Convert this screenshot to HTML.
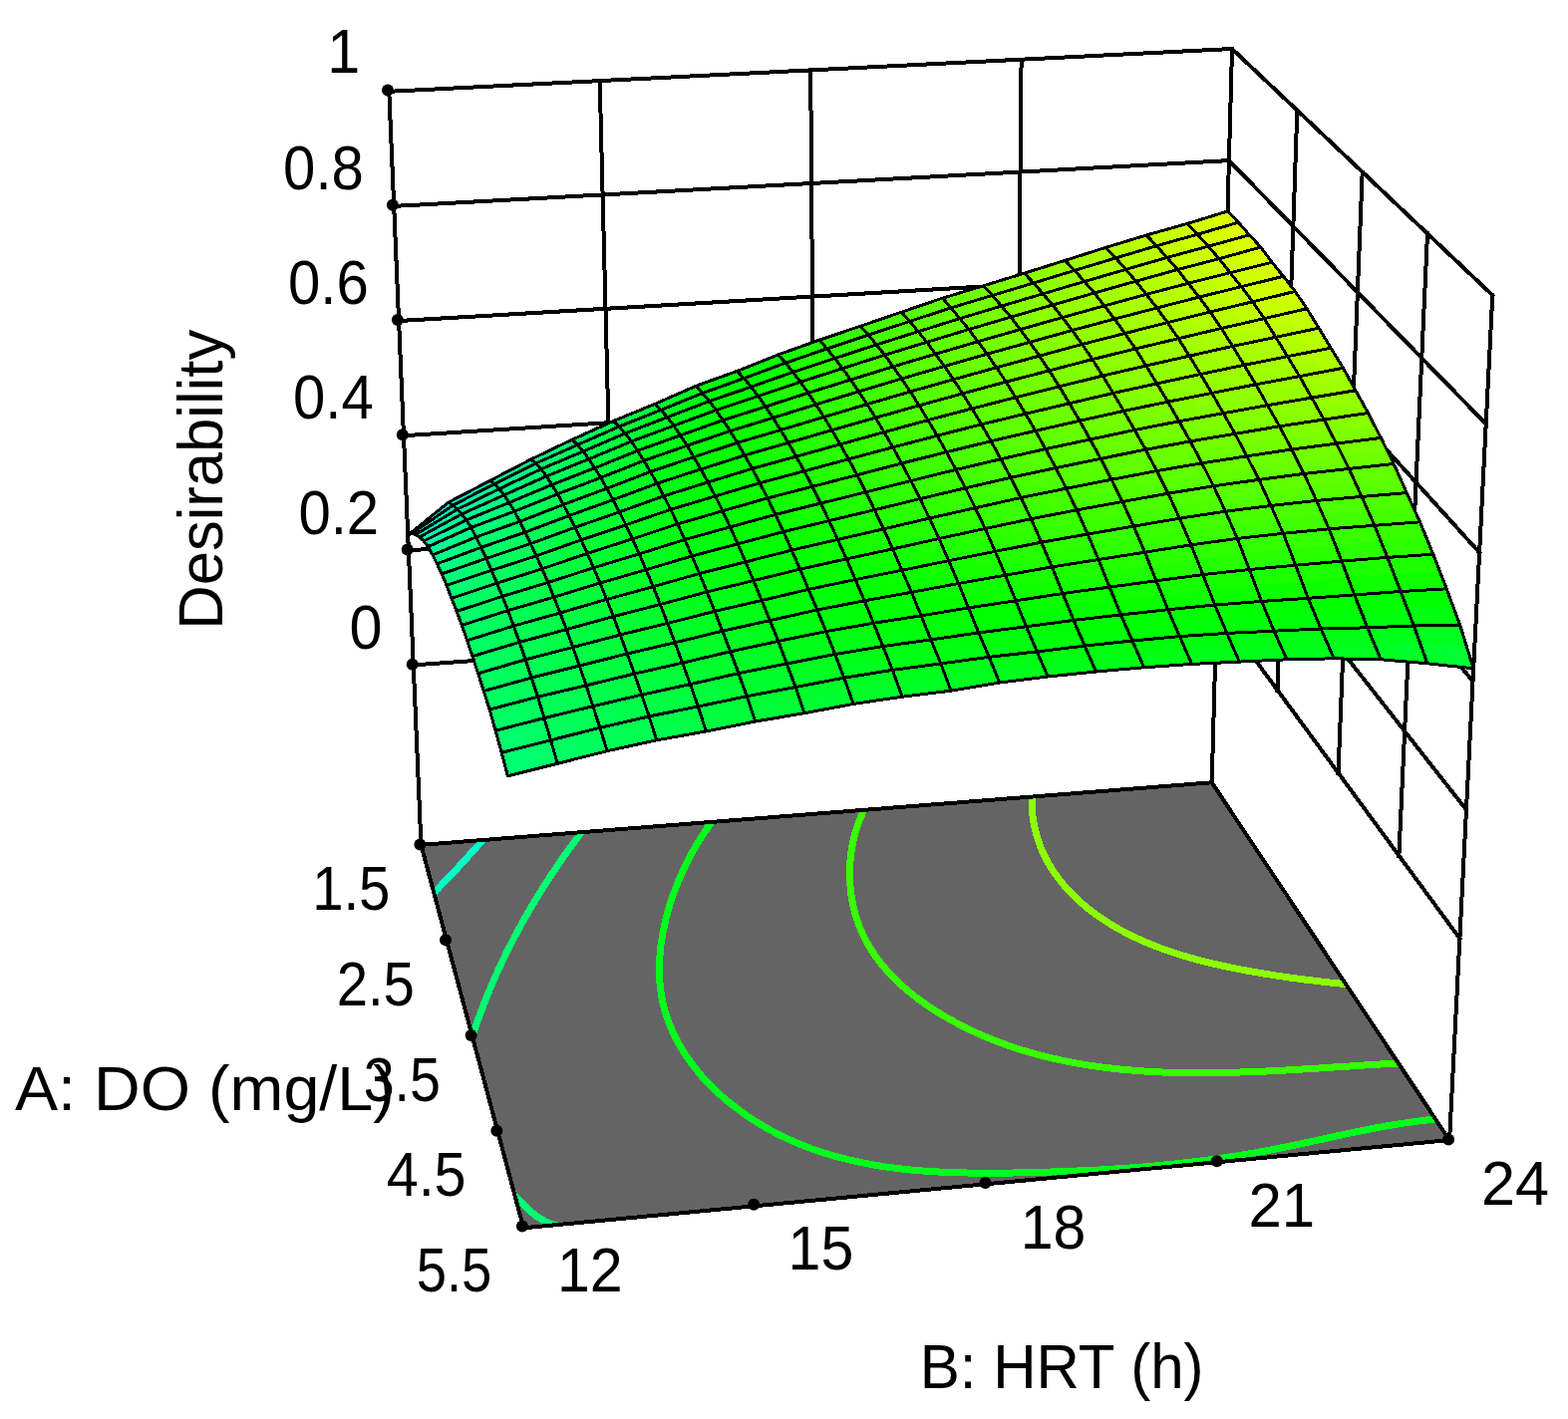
<!DOCTYPE html>
<html lang="en"><head><meta charset="utf-8"><title>Desirability surface</title>
<style>html,body{margin:0;padding:0;background:#fff}svg{display:block}</style></head>
<body>
<svg xmlns="http://www.w3.org/2000/svg" width="1573" height="1424" viewBox="0 0 1573 1424">
<rect width="1573" height="1424" fill="#fff"/>
<g id="walls" stroke="#000" fill="none" stroke-linecap="square" shape-rendering="crispEdges">
<polyline stroke-width="4.0" points="414.7,667.4 1220.5,609.5"/>
<polyline stroke-width="4.0" points="1220.5,609.5 1464.4,941.7"/>
<polyline stroke-width="4.0" points="409.9,552.3 1223.6,497.4"/>
<polyline stroke-width="4.0" points="1223.6,497.4 1471,812.6"/>
<polyline stroke-width="4.0" points="405,437.2 1226.7,385.3"/>
<polyline stroke-width="4.0" points="1226.7,385.3 1477.6,683.5"/>
<polyline stroke-width="4.0" points="400.1,322 1229.8,273.2"/>
<polyline stroke-width="4.0" points="1229.8,273.2 1484.1,554.4"/>
<polyline stroke-width="4.0" points="395.2,206.9 1232.9,161.1"/>
<polyline stroke-width="4.0" points="1232.9,161.1 1490.7,425.3"/>
<polyline stroke-width="4.0" points="390.3,91.8 1236,49"/>
<polyline stroke-width="4.0" points="1236,49 1497.3,296.2"/>
<polyline stroke-width="4.0" points="601.7,81.1 616.2,653"/>
<polyline stroke-width="4.0" points="1301.3,110.8 1281.5,692.6"/>
<polyline stroke-width="4.0" points="813.2,70.4 817.6,638.5"/>
<polyline stroke-width="4.0" points="1366.7,172.6 1342.5,775.6"/>
<polyline stroke-width="4.0" points="1024.6,59.7 1019.1,624"/>
<polyline stroke-width="4.0" points="1432,234.4 1403.4,858.7"/>
<polyline stroke-width="4.0" points="390.3,91.8 422.4,847.9"/>
<polyline stroke-width="4.0" points="1236,49 1215.7,785.3"/>
<polyline stroke-width="4.0" points="1497.3,296.2 1454.1,1144.1"/>
</g>
<polygon id="floor" points="422.4,847.9 1215.7,785.3 1454.1,1144.1 525.2,1232.3" fill="#646464"/>
<clipPath id="fc"><polygon points="422.4,847.9 1215.7,785.3 1454.1,1144.1 525.2,1232.3"/></clipPath>
<g id="contours" fill="none" stroke-linecap="butt" stroke-linejoin="round" clip-path="url(#fc)" shape-rendering="crispEdges">
<g stroke="#00ffc5"><polyline stroke-width="7.0" points="489,837.6 483.7,843.6 483.1,844.3 482.5,844.9 482,845.6 481.4,846.2 480.8,846.9 480.2,847.6 479.7,848.2 479.1,848.9 478.5,849.5 477.9,850.2 477.3,850.8 476.8,851.5 476.2,852.2 475.6,852.8 475,853.5 474.4,854.1 473.8,854.8 473.3,855.4 472.7,856.1 472.1,856.7 471.5,857.4 470.9,858 470.3,858.7 469.7,859.3 469.2,860 468.6,860.6 468,861.3 467.4,861.9 466.8,862.6 466.2,863.2 465.6,863.9 465,864.5 464.4,865.2 463.8,865.8 463.2,866.5 462.7,867.1 462.1,867.7 461.5,868.4 460.9,869 460.3,869.7 459.7,870.3 459.1,871 458.5,871.6 457.9,872.2 457.3,872.9 456.7,873.5 456.1,874.2 455.5,874.8 454.9,875.4 454.3,876.1 453.7,876.7 453.1,877.4 452.5,878 451.9,878.6 451.3,879.3 450.7,879.9 450.1,880.5 449.5,881.2 448.9,881.8 448.3,882.4 447.7,883.1 447.1,883.7 446.5,884.3 445.9,885 445.2,885.6 444.6,886.2 444,886.9 443.4,887.5 442.8,888.1 442.2,888.8 441.6,889.4 441,890 440.4,890.6 439.8,891.3 439.2,891.9 438.5,892.5 437.9,893.1 437.3,893.8 436.7,894.4 431.1,900.1"/></g>
<g stroke="#00ff71"><polyline stroke-width="7.0" points="587.7,829.5 582.8,835.9 581.1,838.2 579.4,840.5 577.7,842.8 576,845.1 574.3,847.4 572.6,849.7 571,852 569.3,854.3 567.6,856.7 566,859 564.3,861.3 562.7,863.7 561.1,866.1 559.5,868.4 557.9,870.8 556.3,873.2 554.7,875.6 553.1,877.9 551.5,880.3 549.9,882.7 548.4,885.1 546.8,887.6 545.3,890 543.8,892.4 542.2,894.8 540.7,897.3 539.2,899.7 537.7,902.2 536.3,904.6 534.8,907.1 533.3,909.5 531.9,912 530.4,914.5 529,917 527.6,919.5 526.1,922 524.7,924.5 523.3,927 522,929.5 520.6,932 519.2,934.5 517.9,937 516.5,939.6 515.2,942.1 513.9,944.7 512.6,947.2 511.3,949.8 510,952.3 508.7,954.9 507.4,957.5 506.2,960 504.9,962.6 503.7,965.2 502.5,967.8 501.3,970.4 500.1,973 498.9,975.6 497.7,978.2 496.5,980.8 495.4,983.5 494.2,986.1 493.1,988.7 492,991.4 490.9,994 489.8,996.6 488.7,999.3 487.6,1001.9 486.6,1004.6 485.5,1007.3 484.5,1009.9 483.5,1012.6 482.5,1015.3 481.5,1018 480.5,1020.7 479.5,1023.4 478.6,1026.1 477.6,1028.8 476.7,1031.5 475.8,1034.2 473.2,1041.8"/></g>
<g stroke="#00ff1d"><polyline stroke-width="7.0" points="717.4,820 712.8,826.6 705.7,836.7 699,847.4 692.6,858.7 686.6,870.6 681.1,882.9 676.1,895.5 671.8,908.4 668.1,921.6 665.2,934.9 663,948.2 661.8,961.6 661.4,974.8 662.1,987.9 663.8,1000.7 666.6,1013.2 670.6,1025.4 675.5,1037.2 681.5,1048.6 688.3,1059.6 695.9,1070.1 704.2,1080.3 713.3,1089.9 722.9,1099.1 733.1,1107.7 743.8,1115.8 754.9,1123.4 766.3,1130.4 777.9,1136.9 789.8,1142.7 801.8,1148 814,1152.7 826.4,1156.9 838.9,1160.6 851.6,1163.9 864.4,1166.7 877.3,1169.2 890.3,1171.2 903.3,1172.9 916.5,1174.3 929.7,1175.3 943,1176.1 956.3,1176.7 969.7,1177 983,1177.2 996.4,1177.2 1009.7,1177.1 1023.1,1176.9 1036.4,1176.5 1049.6,1176.2 1062.9,1175.7 1076.1,1175.2 1089.2,1174.6 1102.4,1174 1115.5,1173.2 1128.5,1172.3 1141.6,1171.4 1154.7,1170.3 1167.7,1169.1 1180.7,1167.7 1193.7,1166.3 1206.7,1164.7 1219.7,1163 1232.7,1161.1 1245.7,1159.1 1258.7,1156.9 1271.6,1154.6 1284.6,1152 1297.6,1149.4 1310.6,1146.6 1323.7,1143.8 1336.7,1140.9 1349.7,1138.1 1362.7,1135.4 1375.7,1132.8 1388.7,1130.3 1401.7,1128.1 1414.7,1126.1 1427.7,1124.4 1440.7,1123.1 1448.6,1122.3"/></g>
<g stroke="#38ff00"><polyline stroke-width="7.0" points="870.1,805.2 866.8,812.5 863.1,820.9 859.9,829.6 857.2,838.4 855.2,847.4 853.7,856.5 852.8,865.7 852.4,874.8 852.6,884 853.3,893.1 854.5,902.1 856.3,910.9 858.7,919.6 861.5,928 864.9,936.2 868.8,944.1 873.2,951.7 878,959.1 883.3,966.2 888.9,973 895,979.5 901.3,985.8 907.9,991.8 914.9,997.6 922,1003.1 929.4,1008.4 937,1013.5 944.7,1018.3 952.6,1022.8 960.6,1027.2 968.6,1031.3 976.7,1035.2 984.9,1038.9 993.1,1042.3 1001.5,1045.6 1009.8,1048.7 1018.3,1051.6 1026.8,1054.3 1035.3,1056.8 1043.9,1059.1 1052.6,1061.3 1061.3,1063.2 1070,1065.1 1078.8,1066.8 1087.7,1068.3 1096.5,1069.7 1105.4,1070.9 1114.4,1072 1123.3,1073 1132.3,1073.8 1141.4,1074.5 1150.4,1075.2 1159.4,1075.7 1168.5,1076.1 1177.6,1076.4 1186.7,1076.6 1195.8,1076.7 1204.9,1076.7 1214.1,1076.7 1223.2,1076.6 1232.3,1076.4 1241.4,1076.1 1250.5,1075.8 1259.6,1075.5 1268.7,1075.1 1277.8,1074.6 1286.8,1074.2 1295.8,1073.7 1304.9,1073.1 1313.8,1072.6 1322.8,1072 1331.7,1071.4 1340.6,1070.8 1349.5,1070.3 1358.3,1069.7 1367.1,1069.1 1375.8,1068.6 1384.5,1068 1393.2,1067.5 1401.7,1067.1 1409.7,1066.6"/></g>
<g stroke="#8cff00"><polyline stroke-width="7.0" points="1035.1,791.5 1035.1,799.5 1035.1,805.2 1035.3,810.7 1035.7,816.1 1036.3,821.4 1037.2,826.6 1038.3,831.8 1039.5,836.8 1041,841.7 1042.6,846.5 1044.4,851.2 1046.4,855.8 1048.6,860.3 1050.9,864.7 1053.4,869 1056,873.2 1058.8,877.3 1061.7,881.3 1064.8,885.3 1067.9,889.1 1071.3,892.8 1074.7,896.4 1078.2,899.9 1081.9,903.4 1085.6,906.7 1089.4,910 1093.4,913.1 1097.4,916.2 1101.4,919.1 1105.6,922 1109.8,924.8 1114.1,927.5 1118.4,930 1122.8,932.6 1127.3,935 1131.8,937.3 1136.3,939.6 1140.9,941.7 1145.5,943.8 1150.2,945.9 1154.9,947.8 1159.7,949.7 1164.5,951.5 1169.3,953.3 1174.2,954.9 1179,956.6 1183.9,958.1 1188.9,959.6 1193.8,961.1 1198.8,962.4 1203.8,963.8 1208.8,965.1 1213.8,966.3 1218.9,967.5 1223.9,968.6 1229,969.7 1234,970.8 1239.1,971.8 1244.1,972.8 1249.2,973.8 1254.2,974.7 1259.3,975.6 1264.3,976.4 1269.3,977.3 1274.4,978.1 1279.4,978.9 1284.4,979.6 1289.4,980.4 1294.4,981.1 1299.4,981.8 1304.3,982.4 1309.3,983.1 1314.2,983.7 1319.2,984.3 1324.1,984.9 1329.1,985.4 1334,986 1338.9,986.5 1343.8,987 1348.7,987.5 1356.6,988.3"/></g>
<g stroke="#00ff71"><polyline stroke-width="7.0" points="509.5,1192 516.3,1199.3 519.3,1202.5 522.3,1205.7 525.3,1208.9 528.5,1212.1 531.7,1215.1 535.1,1218 538.6,1220.7 542.3,1223.1 546.1,1225.3 550.1,1227.1 554.4,1228.5 563.9,1231.6"/></g>
</g>
<g id="flooredge" stroke="#000" fill="none" stroke-linecap="round" shape-rendering="crispEdges">
<polyline stroke-width="4.0" points="422.4,847.9 1215.7,785.3"/>
<polyline stroke-width="4.0" points="1215.7,785.3 1454.1,1144.1"/>
<polyline stroke-width="4.0" points="1454.1,1144.1 525.2,1232.3"/>
<polyline stroke-width="4.0" points="525.2,1232.3 422.4,847.9"/>
</g>
<g id="surface" stroke-width="0.9" stroke-linejoin="round" shape-rendering="crispEdges">
<polygon fill="#00fff8" stroke="#00fff8" points="409.2,537 429.6,520.5 431.7,520.9 411.1,536.3"/>
<polygon fill="#00ffdd" stroke="#00ffdd" points="429.6,520.5 450.1,504 452.2,505.5 431.7,520.9"/>
<polygon fill="#00ffc8" stroke="#00ffc8" points="450.1,504 470.7,493.2 472.9,494.8 452.2,505.5"/>
<polygon fill="#00ffb7" stroke="#00ffb7" points="470.7,493.2 491.4,482.5 493.7,484.1 472.9,494.8"/>
<polygon fill="#00ffa7" stroke="#00ffa7" points="491.4,482.5 512,471.8 514.4,473.5 493.7,484.1"/>
<polygon fill="#00ff96" stroke="#00ff96" points="512,471.8 532.7,461 535.2,463 514.4,473.5"/>
<polygon fill="#00ff86" stroke="#00ff86" points="532.7,461 553.3,451.1 556,453.4 535.2,463"/>
<polygon fill="#00ff77" stroke="#00ff77" points="553.3,451.1 574,441.2 576.7,443.8 556,453.4"/>
<polygon fill="#00ff68" stroke="#00ff68" points="574,441.2 594.7,431.8 597.5,434.5 576.7,443.8"/>
<polygon fill="#00ff5a" stroke="#00ff5a" points="594.7,431.8 615.4,422.5 618.3,425.3 597.5,434.5"/>
<polygon fill="#00ff4d" stroke="#00ff4d" points="615.4,422.5 636.1,414 639.1,416.9 618.3,425.3"/>
<polygon fill="#00ff40" stroke="#00ff40" points="636.1,414 656.7,405.5 659.9,408.5 639.1,416.9"/>
<polygon fill="#00ff33" stroke="#00ff33" points="656.7,405.5 677.4,396.4 680.6,399.7 659.9,408.5"/>
<polygon fill="#00ff25" stroke="#00ff25" points="677.4,396.4 698.1,387.3 701.4,390.9 680.6,399.7"/>
<polygon fill="#00ff19" stroke="#00ff19" points="698.1,387.3 718.7,379.9 722.1,383.4 701.4,390.9"/>
<polygon fill="#00ff0e" stroke="#00ff0e" points="718.7,379.9 739.4,372.4 742.9,376 722.1,383.4"/>
<polygon fill="#00ff02" stroke="#00ff02" points="739.4,372.4 760.1,364.1 763.6,368 742.9,376"/>
<polygon fill="#0aff00" stroke="#0aff00" points="760.1,364.1 780.7,355.9 784.4,360 763.6,368"/>
<polygon fill="#16ff00" stroke="#16ff00" points="780.7,355.9 801.3,348.5 805.1,352.8 784.4,360"/>
<polygon fill="#20ff00" stroke="#20ff00" points="801.3,348.5 822,341.2 825.8,345.6 805.1,352.8"/>
<polygon fill="#2bff00" stroke="#2bff00" points="822,341.2 842.6,334.2 846.5,338.6 825.8,345.6"/>
<polygon fill="#35ff00" stroke="#35ff00" points="842.6,334.2 863.2,327.3 867.2,331.7 846.5,338.6"/>
<polygon fill="#3fff00" stroke="#3fff00" points="863.2,327.3 883.8,320.3 887.9,324.7 867.2,331.7"/>
<polygon fill="#49ff00" stroke="#49ff00" points="883.8,320.3 904.4,313.2 908.5,317.8 887.9,324.7"/>
<polygon fill="#54ff00" stroke="#54ff00" points="904.4,313.2 924.9,306.2 929.2,310.9 908.5,317.8"/>
<polygon fill="#5eff00" stroke="#5eff00" points="924.9,306.2 945.5,299.2 949.8,304.1 929.2,310.9"/>
<polygon fill="#67ff00" stroke="#67ff00" points="945.5,299.2 966,293 970.4,297.8 949.8,304.1"/>
<polygon fill="#70ff00" stroke="#70ff00" points="966,293 986.5,286.8 991,291.6 970.4,297.8"/>
<polygon fill="#79ff00" stroke="#79ff00" points="986.5,286.8 1007,280.5 1011.6,285.4 991,291.6"/>
<polygon fill="#82ff00" stroke="#82ff00" points="1007,280.5 1027.5,274.2 1032.2,279.1 1011.6,285.4"/>
<polygon fill="#8bff00" stroke="#8bff00" points="1027.5,274.2 1048,267.8 1052.7,272.8 1032.2,279.1"/>
<polygon fill="#94ff00" stroke="#94ff00" points="1048,267.8 1068.4,261.4 1073.3,266.4 1052.7,272.8"/>
<polygon fill="#9eff00" stroke="#9eff00" points="1068.4,261.4 1088.9,254.9 1093.8,260 1073.3,266.4"/>
<polygon fill="#a7ff00" stroke="#a7ff00" points="1088.9,254.9 1109.3,248.4 1114.3,253.6 1093.8,260"/>
<polygon fill="#b0ff00" stroke="#b0ff00" points="1109.3,248.4 1129.7,242.2 1134.8,247.5 1114.3,253.6"/>
<polygon fill="#b9ff00" stroke="#b9ff00" points="1129.7,242.2 1150.1,236 1155.3,241.4 1134.8,247.5"/>
<polygon fill="#c2ff00" stroke="#c2ff00" points="1150.1,236 1170.5,230.2 1175.7,235.6 1155.3,241.4"/>
<polygon fill="#caff00" stroke="#caff00" points="1170.5,230.2 1190.9,224.5 1196.1,229.9 1175.7,235.6"/>
<polygon fill="#d2ff00" stroke="#d2ff00" points="1190.9,224.5 1211.2,218.3 1216.6,223.7 1196.1,229.9"/>
<polygon fill="#dbff00" stroke="#dbff00" points="1211.2,218.3 1231.5,212.1 1237,217.6 1216.6,223.7"/>
<polygon fill="#00ffeb" stroke="#00ffeb" points="411.1,536.3 431.7,520.9 433.7,521.3 413,535.5"/>
<polygon fill="#00ffd3" stroke="#00ffd3" points="431.7,520.9 452.2,505.5 454.4,507.1 433.7,521.3"/>
<polygon fill="#00ffbe" stroke="#00ffbe" points="452.2,505.5 472.9,494.8 475.2,496.3 454.4,507.1"/>
<polygon fill="#00ffae" stroke="#00ffae" points="472.9,494.8 493.7,484.1 496,485.6 475.2,496.3"/>
<polygon fill="#00ff9d" stroke="#00ff9d" points="493.7,484.1 514.4,473.5 516.9,475.3 496,485.6"/>
<polygon fill="#00ff8d" stroke="#00ff8d" points="514.4,473.5 535.2,463 537.7,465 516.9,475.3"/>
<polygon fill="#00ff7e" stroke="#00ff7e" points="535.2,463 556,453.4 558.6,455.7 537.7,465"/>
<polygon fill="#00ff6f" stroke="#00ff6f" points="556,453.4 576.7,443.8 579.5,446.4 558.6,455.7"/>
<polygon fill="#00ff61" stroke="#00ff61" points="576.7,443.8 597.5,434.5 600.4,437.2 579.5,446.4"/>
<polygon fill="#00ff53" stroke="#00ff53" points="597.5,434.5 618.3,425.3 621.2,428 600.4,437.2"/>
<polygon fill="#00ff46" stroke="#00ff46" points="618.3,425.3 639.1,416.9 642.1,419.7 621.2,428"/>
<polygon fill="#00ff39" stroke="#00ff39" points="639.1,416.9 659.9,408.5 663,411.4 642.1,419.7"/>
<polygon fill="#00ff2d" stroke="#00ff2d" points="659.9,408.5 680.6,399.7 683.8,402.9 663,411.4"/>
<polygon fill="#00ff1f" stroke="#00ff1f" points="680.6,399.7 701.4,390.9 704.7,394.5 683.8,402.9"/>
<polygon fill="#00ff13" stroke="#00ff13" points="701.4,390.9 722.1,383.4 725.5,387 704.7,394.5"/>
<polygon fill="#00ff09" stroke="#00ff09" points="722.1,383.4 742.9,376 746.4,379.6 725.5,387"/>
<polygon fill="#03ff00" stroke="#03ff00" points="742.9,376 763.6,368 767.2,371.9 746.4,379.6"/>
<polygon fill="#0eff00" stroke="#0eff00" points="763.6,368 784.4,360 788,364.2 767.2,371.9"/>
<polygon fill="#1aff00" stroke="#1aff00" points="784.4,360 805.1,352.8 808.8,357.1 788,364.2"/>
<polygon fill="#24ff00" stroke="#24ff00" points="805.1,352.8 825.8,345.6 829.6,349.9 808.8,357.1"/>
<polygon fill="#2eff00" stroke="#2eff00" points="825.8,345.6 846.5,338.6 850.4,343 829.6,349.9"/>
<polygon fill="#38ff00" stroke="#38ff00" points="846.5,338.6 867.2,331.7 871.2,336.1 850.4,343"/>
<polygon fill="#42ff00" stroke="#42ff00" points="867.2,331.7 887.9,324.7 891.9,329.2 871.2,336.1"/>
<polygon fill="#4cff00" stroke="#4cff00" points="887.9,324.7 908.5,317.8 912.7,322.4 891.9,329.2"/>
<polygon fill="#56ff00" stroke="#56ff00" points="908.5,317.8 929.2,310.9 933.4,315.7 912.7,322.4"/>
<polygon fill="#60ff00" stroke="#60ff00" points="929.2,310.9 949.8,304.1 954.1,308.9 933.4,315.7"/>
<polygon fill="#6aff00" stroke="#6aff00" points="949.8,304.1 970.4,297.8 974.8,302.7 954.1,308.9"/>
<polygon fill="#72ff00" stroke="#72ff00" points="970.4,297.8 991,291.6 995.5,296.4 974.8,302.7"/>
<polygon fill="#7bff00" stroke="#7bff00" points="991,291.6 1011.6,285.4 1016.2,290.2 995.5,296.4"/>
<polygon fill="#84ff00" stroke="#84ff00" points="1011.6,285.4 1032.2,279.1 1036.8,284 1016.2,290.2"/>
<polygon fill="#8dff00" stroke="#8dff00" points="1032.2,279.1 1052.7,272.8 1057.5,277.7 1036.8,284"/>
<polygon fill="#96ff00" stroke="#96ff00" points="1052.7,272.8 1073.3,266.4 1078.1,271.4 1057.5,277.7"/>
<polygon fill="#9fff00" stroke="#9fff00" points="1073.3,266.4 1093.8,260 1098.7,265.1 1078.1,271.4"/>
<polygon fill="#a9ff00" stroke="#a9ff00" points="1093.8,260 1114.3,253.6 1119.3,258.9 1098.7,265.1"/>
<polygon fill="#b1ff00" stroke="#b1ff00" points="1114.3,253.6 1134.8,247.5 1139.8,252.8 1119.3,258.9"/>
<polygon fill="#baff00" stroke="#baff00" points="1134.8,247.5 1155.3,241.4 1160.4,246.7 1139.8,252.8"/>
<polygon fill="#c3ff00" stroke="#c3ff00" points="1155.3,241.4 1175.7,235.6 1180.9,241 1160.4,246.7"/>
<polygon fill="#cbff00" stroke="#cbff00" points="1175.7,235.6 1196.1,229.9 1201.4,235.2 1180.9,241"/>
<polygon fill="#d3ff00" stroke="#d3ff00" points="1196.1,229.9 1216.6,223.7 1221.9,229.2 1201.4,235.2"/>
<polygon fill="#dcff00" stroke="#dcff00" points="1216.6,223.7 1237,217.6 1242.4,223.2 1221.9,229.2"/>
<polygon fill="#00ffdf" stroke="#00ffdf" points="413,535.5 433.7,521.3 435.7,522.5 414.9,536"/>
<polygon fill="#00ffc9" stroke="#00ffc9" points="433.7,521.3 454.4,507.1 456.6,509.1 435.7,522.5"/>
<polygon fill="#00ffb5" stroke="#00ffb5" points="454.4,507.1 475.2,496.3 477.5,498.6 456.6,509.1"/>
<polygon fill="#00ffa5" stroke="#00ffa5" points="475.2,496.3 496,485.6 498.4,488.1 477.5,498.6"/>
<polygon fill="#00ff95" stroke="#00ff95" points="496,485.6 516.9,475.3 519.4,478 498.4,488.1"/>
<polygon fill="#00ff85" stroke="#00ff85" points="516.9,475.3 537.7,465 540.3,467.8 519.4,478"/>
<polygon fill="#00ff76" stroke="#00ff76" points="537.7,465 558.6,455.7 561.3,458.8 540.3,467.8"/>
<polygon fill="#00ff68" stroke="#00ff68" points="558.6,455.7 579.5,446.4 582.3,449.7 561.3,458.8"/>
<polygon fill="#00ff5a" stroke="#00ff5a" points="579.5,446.4 600.4,437.2 603.3,440.6 582.3,449.7"/>
<polygon fill="#00ff4c" stroke="#00ff4c" points="600.4,437.2 621.2,428 624.2,431.5 603.3,440.6"/>
<polygon fill="#00ff40" stroke="#00ff40" points="621.2,428 642.1,419.7 645.2,423.3 624.2,431.5"/>
<polygon fill="#00ff33" stroke="#00ff33" points="642.1,419.7 663,411.4 666.1,415.1 645.2,423.3"/>
<polygon fill="#00ff27" stroke="#00ff27" points="663,411.4 683.8,402.9 687.1,406.8 666.1,415.1"/>
<polygon fill="#00ff1a" stroke="#00ff1a" points="683.8,402.9 704.7,394.5 708,398.5 687.1,406.8"/>
<polygon fill="#00ff0f" stroke="#00ff0f" points="704.7,394.5 725.5,387 729,391.2 708,398.5"/>
<polygon fill="#00ff04" stroke="#00ff04" points="725.5,387 746.4,379.6 749.9,383.9 729,391.2"/>
<polygon fill="#07ff00" stroke="#07ff00" points="746.4,379.6 767.2,371.9 770.8,376.3 749.9,383.9"/>
<polygon fill="#12ff00" stroke="#12ff00" points="767.2,371.9 788,364.2 791.7,368.8 770.8,376.3"/>
<polygon fill="#1dff00" stroke="#1dff00" points="788,364.2 808.8,357.1 812.6,361.8 791.7,368.8"/>
<polygon fill="#27ff00" stroke="#27ff00" points="808.8,357.1 829.6,349.9 833.5,354.8 812.6,361.8"/>
<polygon fill="#31ff00" stroke="#31ff00" points="829.6,349.9 850.4,343 854.4,347.9 833.5,354.8"/>
<polygon fill="#3bff00" stroke="#3bff00" points="850.4,343 871.2,336.1 875.2,341 854.4,347.9"/>
<polygon fill="#45ff00" stroke="#45ff00" points="871.2,336.1 891.9,329.2 896.1,334.3 875.2,341"/>
<polygon fill="#4fff00" stroke="#4fff00" points="891.9,329.2 912.7,322.4 916.9,327.6 896.1,334.3"/>
<polygon fill="#59ff00" stroke="#59ff00" points="912.7,322.4 933.4,315.7 937.7,320.9 916.9,327.6"/>
<polygon fill="#62ff00" stroke="#62ff00" points="933.4,315.7 954.1,308.9 958.5,314.2 937.7,320.9"/>
<polygon fill="#6cff00" stroke="#6cff00" points="954.1,308.9 974.8,302.7 979.3,308 958.5,314.2"/>
<polygon fill="#74ff00" stroke="#74ff00" points="974.8,302.7 995.5,296.4 1000.1,301.8 979.3,308"/>
<polygon fill="#7dff00" stroke="#7dff00" points="995.5,296.4 1016.2,290.2 1020.8,295.6 1000.1,301.8"/>
<polygon fill="#86ff00" stroke="#86ff00" points="1016.2,290.2 1036.8,284 1041.6,289.4 1020.8,295.6"/>
<polygon fill="#8fff00" stroke="#8fff00" points="1036.8,284 1057.5,277.7 1062.3,283.2 1041.6,289.4"/>
<polygon fill="#98ff00" stroke="#98ff00" points="1057.5,277.7 1078.1,271.4 1083,277 1062.3,283.2"/>
<polygon fill="#a1ff00" stroke="#a1ff00" points="1078.1,271.4 1098.7,265.1 1103.6,270.8 1083,277"/>
<polygon fill="#aaff00" stroke="#aaff00" points="1098.7,265.1 1119.3,258.9 1124.3,264.6 1103.6,270.8"/>
<polygon fill="#b2ff00" stroke="#b2ff00" points="1119.3,258.9 1139.8,252.8 1145,258.6 1124.3,264.6"/>
<polygon fill="#bbff00" stroke="#bbff00" points="1139.8,252.8 1160.4,246.7 1165.6,252.6 1145,258.6"/>
<polygon fill="#c3ff00" stroke="#c3ff00" points="1160.4,246.7 1180.9,241 1186.2,246.9 1165.6,252.6"/>
<polygon fill="#cbff00" stroke="#cbff00" points="1180.9,241 1201.4,235.2 1206.8,241.2 1186.2,246.9"/>
<polygon fill="#d3ff00" stroke="#d3ff00" points="1201.4,235.2 1221.9,229.2 1227.4,235.4 1206.8,241.2"/>
<polygon fill="#dcff00" stroke="#dcff00" points="1221.9,229.2 1242.4,223.2 1247.9,229.5 1227.4,235.4"/>
<polygon fill="#00ffd3" stroke="#00ffd3" points="414.9,536 435.7,522.5 437.8,523.8 416.9,536.4"/>
<polygon fill="#00ffbf" stroke="#00ffbf" points="435.7,522.5 456.6,509.1 458.8,511.1 437.8,523.8"/>
<polygon fill="#00ffac" stroke="#00ffac" points="456.6,509.1 477.5,498.6 479.8,500.8 458.8,511.1"/>
<polygon fill="#00ff9c" stroke="#00ff9c" points="477.5,498.6 498.4,488.1 500.9,490.6 479.8,500.8"/>
<polygon fill="#00ff8d" stroke="#00ff8d" points="498.4,488.1 519.4,478 521.9,480.6 500.9,490.6"/>
<polygon fill="#00ff7e" stroke="#00ff7e" points="519.4,478 540.3,467.8 543,470.7 521.9,480.6"/>
<polygon fill="#00ff6f" stroke="#00ff6f" points="540.3,467.8 561.3,458.8 564,461.8 543,470.7"/>
<polygon fill="#00ff62" stroke="#00ff62" points="561.3,458.8 582.3,449.7 585.1,453 564,461.8"/>
<polygon fill="#00ff54" stroke="#00ff54" points="582.3,449.7 603.3,440.6 606.2,444 585.1,453"/>
<polygon fill="#00ff47" stroke="#00ff47" points="603.3,440.6 624.2,431.5 627.2,434.9 606.2,444"/>
<polygon fill="#00ff3a" stroke="#00ff3a" points="624.2,431.5 645.2,423.3 648.3,426.8 627.2,434.9"/>
<polygon fill="#00ff2e" stroke="#00ff2e" points="645.2,423.3 666.1,415.1 669.3,418.7 648.3,426.8"/>
<polygon fill="#00ff22" stroke="#00ff22" points="666.1,415.1 687.1,406.8 690.4,410.7 669.3,418.7"/>
<polygon fill="#00ff15" stroke="#00ff15" points="687.1,406.8 708,398.5 711.4,402.6 690.4,410.7"/>
<polygon fill="#00ff0a" stroke="#00ff0a" points="708,398.5 729,391.2 732.4,395.4 711.4,402.6"/>
<polygon fill="#00ff00" stroke="#00ff00" points="729,391.2 749.9,383.9 753.5,388.2 732.4,395.4"/>
<polygon fill="#0bff00" stroke="#0bff00" points="749.9,383.9 770.8,376.3 774.5,380.8 753.5,388.2"/>
<polygon fill="#16ff00" stroke="#16ff00" points="770.8,376.3 791.7,368.8 795.5,373.4 774.5,380.8"/>
<polygon fill="#20ff00" stroke="#20ff00" points="791.7,368.8 812.6,361.8 816.4,366.5 795.5,373.4"/>
<polygon fill="#2aff00" stroke="#2aff00" points="812.6,361.8 833.5,354.8 837.4,359.6 816.4,366.5"/>
<polygon fill="#34ff00" stroke="#34ff00" points="833.5,354.8 854.4,347.9 858.4,352.7 837.4,359.6"/>
<polygon fill="#3eff00" stroke="#3eff00" points="854.4,347.9 875.2,341 879.3,345.9 858.4,352.7"/>
<polygon fill="#48ff00" stroke="#48ff00" points="875.2,341 896.1,334.3 900.2,339.3 879.3,345.9"/>
<polygon fill="#51ff00" stroke="#51ff00" points="896.1,334.3 916.9,327.6 921.2,332.7 900.2,339.3"/>
<polygon fill="#5bff00" stroke="#5bff00" points="916.9,327.6 937.7,320.9 942,326.1 921.2,332.7"/>
<polygon fill="#64ff00" stroke="#64ff00" points="937.7,320.9 958.5,314.2 962.9,319.6 942,326.1"/>
<polygon fill="#6dff00" stroke="#6dff00" points="958.5,314.2 979.3,308 983.8,313.4 962.9,319.6"/>
<polygon fill="#76ff00" stroke="#76ff00" points="979.3,308 1000.1,301.8 1004.6,307.1 983.8,313.4"/>
<polygon fill="#7fff00" stroke="#7fff00" points="1000.1,301.8 1020.8,295.6 1025.5,301 1004.6,307.1"/>
<polygon fill="#87ff00" stroke="#87ff00" points="1020.8,295.6 1041.6,289.4 1046.3,294.8 1025.5,301"/>
<polygon fill="#90ff00" stroke="#90ff00" points="1041.6,289.4 1062.3,283.2 1067.1,288.7 1046.3,294.8"/>
<polygon fill="#99ff00" stroke="#99ff00" points="1062.3,283.2 1083,277 1087.9,282.5 1067.1,288.7"/>
<polygon fill="#a2ff00" stroke="#a2ff00" points="1083,277 1103.6,270.8 1108.6,276.5 1087.9,282.5"/>
<polygon fill="#aaff00" stroke="#aaff00" points="1103.6,270.8 1124.3,264.6 1129.4,270.4 1108.6,276.5"/>
<polygon fill="#b3ff00" stroke="#b3ff00" points="1124.3,264.6 1145,258.6 1150.1,264.4 1129.4,270.4"/>
<polygon fill="#bbff00" stroke="#bbff00" points="1145,258.6 1165.6,252.6 1170.8,258.5 1150.1,264.4"/>
<polygon fill="#c3ff00" stroke="#c3ff00" points="1165.6,252.6 1186.2,246.9 1191.5,252.9 1170.8,258.5"/>
<polygon fill="#cbff00" stroke="#cbff00" points="1186.2,246.9 1206.8,241.2 1212.2,247.2 1191.5,252.9"/>
<polygon fill="#d3ff00" stroke="#d3ff00" points="1206.8,241.2 1227.4,235.4 1232.8,241.5 1212.2,247.2"/>
<polygon fill="#dbff00" stroke="#dbff00" points="1227.4,235.4 1247.9,229.5 1253.4,235.8 1232.8,241.5"/>
<polygon fill="#00ffc9" stroke="#00ffc9" points="416.9,536.4 437.8,523.8 439.9,525.5 418.9,537.7"/>
<polygon fill="#00ffb5" stroke="#00ffb5" points="437.8,523.8 458.8,511.1 461,513.4 439.9,525.5"/>
<polygon fill="#00ffa4" stroke="#00ffa4" points="458.8,511.1 479.8,500.8 482.2,503.6 461,513.4"/>
<polygon fill="#00ff95" stroke="#00ff95" points="479.8,500.8 500.9,490.6 503.3,493.7 482.2,503.6"/>
<polygon fill="#00ff86" stroke="#00ff86" points="500.9,490.6 521.9,480.6 524.5,484 503.3,493.7"/>
<polygon fill="#00ff77" stroke="#00ff77" points="521.9,480.6 543,470.7 545.6,474.3 524.5,484"/>
<polygon fill="#00ff69" stroke="#00ff69" points="543,470.7 564,461.8 566.8,465.6 545.6,474.3"/>
<polygon fill="#00ff5c" stroke="#00ff5c" points="564,461.8 585.1,453 588,456.9 566.8,465.6"/>
<polygon fill="#00ff4e" stroke="#00ff4e" points="585.1,453 606.2,444 609.1,447.9 588,456.9"/>
<polygon fill="#00ff41" stroke="#00ff41" points="606.2,444 627.2,434.9 630.3,439 609.1,447.9"/>
<polygon fill="#00ff34" stroke="#00ff34" points="627.2,434.9 648.3,426.8 651.4,431 630.3,439"/>
<polygon fill="#00ff29" stroke="#00ff29" points="648.3,426.8 669.3,418.7 672.6,423 651.4,431"/>
<polygon fill="#00ff1d" stroke="#00ff1d" points="669.3,418.7 690.4,410.7 693.7,415 672.6,423"/>
<polygon fill="#00ff11" stroke="#00ff11" points="690.4,410.7 711.4,402.6 714.8,407.1 693.7,415"/>
<polygon fill="#00ff06" stroke="#00ff06" points="711.4,402.6 732.4,395.4 735.9,400 714.8,407.1"/>
<polygon fill="#04ff00" stroke="#04ff00" points="732.4,395.4 753.5,388.2 757.1,392.8 735.9,400"/>
<polygon fill="#0fff00" stroke="#0fff00" points="753.5,388.2 774.5,380.8 778.2,385.6 757.1,392.8"/>
<polygon fill="#19ff00" stroke="#19ff00" points="774.5,380.8 795.5,373.4 799.2,378.4 778.2,385.6"/>
<polygon fill="#23ff00" stroke="#23ff00" points="795.5,373.4 816.4,366.5 820.3,371.5 799.2,378.4"/>
<polygon fill="#2dff00" stroke="#2dff00" points="816.4,366.5 837.4,359.6 841.4,364.6 820.3,371.5"/>
<polygon fill="#37ff00" stroke="#37ff00" points="837.4,359.6 858.4,352.7 862.4,357.8 841.4,364.6"/>
<polygon fill="#41ff00" stroke="#41ff00" points="858.4,352.7 879.3,345.9 883.4,351 862.4,357.8"/>
<polygon fill="#4aff00" stroke="#4aff00" points="879.3,345.9 900.2,339.3 904.5,344.5 883.4,351"/>
<polygon fill="#53ff00" stroke="#53ff00" points="900.2,339.3 921.2,332.7 925.5,338 904.5,344.5"/>
<polygon fill="#5dff00" stroke="#5dff00" points="921.2,332.7 942,326.1 946.4,331.5 925.5,338"/>
<polygon fill="#66ff00" stroke="#66ff00" points="942,326.1 962.9,319.6 967.4,325 946.4,331.5"/>
<polygon fill="#6fff00" stroke="#6fff00" points="962.9,319.6 983.8,313.4 988.3,318.9 967.4,325"/>
<polygon fill="#77ff00" stroke="#77ff00" points="983.8,313.4 1004.6,307.1 1009.3,312.7 988.3,318.9"/>
<polygon fill="#80ff00" stroke="#80ff00" points="1004.6,307.1 1025.5,301 1030.2,306.5 1009.3,312.7"/>
<polygon fill="#89ff00" stroke="#89ff00" points="1025.5,301 1046.3,294.8 1051.1,300.4 1030.2,306.5"/>
<polygon fill="#91ff00" stroke="#91ff00" points="1046.3,294.8 1067.1,288.7 1072,294.3 1051.1,300.4"/>
<polygon fill="#9aff00" stroke="#9aff00" points="1067.1,288.7 1087.9,282.5 1092.8,288.3 1072,294.3"/>
<polygon fill="#a2ff00" stroke="#a2ff00" points="1087.9,282.5 1108.6,276.5 1113.7,282.3 1092.8,288.3"/>
<polygon fill="#abff00" stroke="#abff00" points="1108.6,276.5 1129.4,270.4 1134.5,276.3 1113.7,282.3"/>
<polygon fill="#b3ff00" stroke="#b3ff00" points="1129.4,270.4 1150.1,264.4 1155.3,270.4 1134.5,276.3"/>
<polygon fill="#bbff00" stroke="#bbff00" points="1150.1,264.4 1170.8,258.5 1176.1,264.6 1155.3,270.4"/>
<polygon fill="#c3ff00" stroke="#c3ff00" points="1170.8,258.5 1191.5,252.9 1196.9,259 1176.1,264.6"/>
<polygon fill="#cbff00" stroke="#cbff00" points="1191.5,252.9 1212.2,247.2 1217.6,253.4 1196.9,259"/>
<polygon fill="#d3ff00" stroke="#d3ff00" points="1212.2,247.2 1232.8,241.5 1238.3,247.7 1217.6,253.4"/>
<polygon fill="#dbff00" stroke="#dbff00" points="1232.8,241.5 1253.4,235.8 1259.1,241.9 1238.3,247.7"/>
<polygon fill="#00ffbf" stroke="#00ffbf" points="418.9,537.7 439.9,525.5 442.1,527.3 420.9,538.9"/>
<polygon fill="#00ffac" stroke="#00ffac" points="439.9,525.5 461,513.4 463.3,515.8 442.1,527.3"/>
<polygon fill="#00ff9c" stroke="#00ff9c" points="461,513.4 482.2,503.6 484.5,506.3 463.3,515.8"/>
<polygon fill="#00ff8d" stroke="#00ff8d" points="482.2,503.6 503.3,493.7 505.8,496.8 484.5,506.3"/>
<polygon fill="#00ff7f" stroke="#00ff7f" points="503.3,493.7 524.5,484 527.1,487.4 505.8,496.8"/>
<polygon fill="#00ff70" stroke="#00ff70" points="524.5,484 545.6,474.3 548.3,477.9 527.1,487.4"/>
<polygon fill="#00ff63" stroke="#00ff63" points="545.6,474.3 566.8,465.6 569.6,469.3 548.3,477.9"/>
<polygon fill="#00ff56" stroke="#00ff56" points="566.8,465.6 588,456.9 590.8,460.7 569.6,469.3"/>
<polygon fill="#00ff49" stroke="#00ff49" points="588,456.9 609.1,447.9 612.1,451.9 590.8,460.7"/>
<polygon fill="#00ff3c" stroke="#00ff3c" points="609.1,447.9 630.3,439 633.3,443 612.1,451.9"/>
<polygon fill="#00ff30" stroke="#00ff30" points="630.3,439 651.4,431 654.6,435.1 633.3,443"/>
<polygon fill="#00ff24" stroke="#00ff24" points="651.4,431 672.6,423 675.8,427.2 654.6,435.1"/>
<polygon fill="#00ff18" stroke="#00ff18" points="672.6,423 693.7,415 697,419.4 675.8,427.2"/>
<polygon fill="#00ff0d" stroke="#00ff0d" points="693.7,415 714.8,407.1 718.3,411.6 697,419.4"/>
<polygon fill="#00ff02" stroke="#00ff02" points="714.8,407.1 735.9,400 739.5,404.6 718.3,411.6"/>
<polygon fill="#08ff00" stroke="#08ff00" points="735.9,400 757.1,392.8 760.7,397.5 739.5,404.6"/>
<polygon fill="#12ff00" stroke="#12ff00" points="757.1,392.8 778.2,385.6 781.9,390.4 760.7,397.5"/>
<polygon fill="#1cff00" stroke="#1cff00" points="778.2,385.6 799.2,378.4 803,383.3 781.9,390.4"/>
<polygon fill="#26ff00" stroke="#26ff00" points="799.2,378.4 820.3,371.5 824.2,376.5 803,383.3"/>
<polygon fill="#30ff00" stroke="#30ff00" points="820.3,371.5 841.4,364.6 845.3,369.7 824.2,376.5"/>
<polygon fill="#39ff00" stroke="#39ff00" points="841.4,364.6 862.4,357.8 866.5,363 845.3,369.7"/>
<polygon fill="#43ff00" stroke="#43ff00" points="862.4,357.8 883.4,351 887.6,356.2 866.5,363"/>
<polygon fill="#4cff00" stroke="#4cff00" points="883.4,351 904.5,344.5 908.7,349.8 887.6,356.2"/>
<polygon fill="#55ff00" stroke="#55ff00" points="904.5,344.5 925.5,338 929.8,343.3 908.7,349.8"/>
<polygon fill="#5eff00" stroke="#5eff00" points="925.5,338 946.4,331.5 950.8,336.9 929.8,343.3"/>
<polygon fill="#68ff00" stroke="#68ff00" points="946.4,331.5 967.4,325 971.9,330.5 950.8,336.9"/>
<polygon fill="#70ff00" stroke="#70ff00" points="967.4,325 988.3,318.9 992.9,324.4 971.9,330.5"/>
<polygon fill="#79ff00" stroke="#79ff00" points="988.3,318.9 1009.3,312.7 1013.9,318.2 992.9,324.4"/>
<polygon fill="#81ff00" stroke="#81ff00" points="1009.3,312.7 1030.2,306.5 1034.9,312.1 1013.9,318.2"/>
<polygon fill="#8aff00" stroke="#8aff00" points="1030.2,306.5 1051.1,300.4 1055.9,306 1034.9,312.1"/>
<polygon fill="#92ff00" stroke="#92ff00" points="1051.1,300.4 1072,294.3 1076.9,300 1055.9,306"/>
<polygon fill="#9bff00" stroke="#9bff00" points="1072,294.3 1092.8,288.3 1097.8,294 1076.9,300"/>
<polygon fill="#a3ff00" stroke="#a3ff00" points="1092.8,288.3 1113.7,282.3 1118.7,288.1 1097.8,294"/>
<polygon fill="#abff00" stroke="#abff00" points="1113.7,282.3 1134.5,276.3 1139.6,282.2 1118.7,288.1"/>
<polygon fill="#b3ff00" stroke="#b3ff00" points="1134.5,276.3 1155.3,270.4 1160.5,276.4 1139.6,282.2"/>
<polygon fill="#bbff00" stroke="#bbff00" points="1155.3,270.4 1176.1,264.6 1181.4,270.6 1160.5,276.4"/>
<polygon fill="#c3ff00" stroke="#c3ff00" points="1176.1,264.6 1196.9,259 1202.2,265.1 1181.4,270.6"/>
<polygon fill="#cbff00" stroke="#cbff00" points="1196.9,259 1217.6,253.4 1223.1,259.6 1202.2,265.1"/>
<polygon fill="#d3ff00" stroke="#d3ff00" points="1217.6,253.4 1238.3,247.7 1243.9,253.8 1223.1,259.6"/>
<polygon fill="#dbff00" stroke="#dbff00" points="1238.3,247.7 1259.1,241.9 1264.7,248.1 1243.9,253.8"/>
<polygon fill="#00ffb5" stroke="#00ffb5" points="420.9,538.9 442.1,527.3 444.3,529.8 423,540.9"/>
<polygon fill="#00ffa4" stroke="#00ffa4" points="442.1,527.3 463.3,515.8 465.6,518.8 444.3,529.8"/>
<polygon fill="#00ff94" stroke="#00ff94" points="463.3,515.8 484.5,506.3 487,509.7 465.6,518.8"/>
<polygon fill="#00ff86" stroke="#00ff86" points="484.5,506.3 505.8,496.8 508.3,500.6 487,509.7"/>
<polygon fill="#00ff79" stroke="#00ff79" points="505.8,496.8 527.1,487.4 529.7,491.4 508.3,500.6"/>
<polygon fill="#00ff6b" stroke="#00ff6b" points="527.1,487.4 548.3,477.9 551,482.1 529.7,491.4"/>
<polygon fill="#00ff5e" stroke="#00ff5e" points="548.3,477.9 569.6,469.3 572.4,473.7 551,482.1"/>
<polygon fill="#00ff51" stroke="#00ff51" points="569.6,469.3 590.8,460.7 593.8,465.2 572.4,473.7"/>
<polygon fill="#00ff44" stroke="#00ff44" points="590.8,460.7 612.1,451.9 615.1,456.4 593.8,465.2"/>
<polygon fill="#00ff37" stroke="#00ff37" points="612.1,451.9 633.3,443 636.4,447.6 615.1,456.4"/>
<polygon fill="#00ff2b" stroke="#00ff2b" points="633.3,443 654.6,435.1 657.8,439.8 636.4,447.6"/>
<polygon fill="#00ff20" stroke="#00ff20" points="654.6,435.1 675.8,427.2 679.1,432.1 657.8,439.8"/>
<polygon fill="#00ff15" stroke="#00ff15" points="675.8,427.2 697,419.4 700.4,424.4 679.1,432.1"/>
<polygon fill="#00ff09" stroke="#00ff09" points="697,419.4 718.3,411.6 721.7,416.6 700.4,424.4"/>
<polygon fill="#01ff00" stroke="#01ff00" points="718.3,411.6 739.5,404.6 743,409.7 721.7,416.6"/>
<polygon fill="#0bff00" stroke="#0bff00" points="739.5,404.6 760.7,397.5 764.3,402.8 743,409.7"/>
<polygon fill="#15ff00" stroke="#15ff00" points="760.7,397.5 781.9,390.4 785.6,395.8 764.3,402.8"/>
<polygon fill="#1fff00" stroke="#1fff00" points="781.9,390.4 803,383.3 806.9,388.8 785.6,395.8"/>
<polygon fill="#29ff00" stroke="#29ff00" points="803,383.3 824.2,376.5 828.1,382.1 806.9,388.8"/>
<polygon fill="#32ff00" stroke="#32ff00" points="824.2,376.5 845.3,369.7 849.4,375.4 828.1,382.1"/>
<polygon fill="#3bff00" stroke="#3bff00" points="845.3,369.7 866.5,363 870.6,368.7 849.4,375.4"/>
<polygon fill="#45ff00" stroke="#45ff00" points="866.5,363 887.6,356.2 891.8,362.1 870.6,368.7"/>
<polygon fill="#4eff00" stroke="#4eff00" points="887.6,356.2 908.7,349.8 913,355.7 891.8,362.1"/>
<polygon fill="#57ff00" stroke="#57ff00" points="908.7,349.8 929.8,343.3 934.1,349.3 913,355.7"/>
<polygon fill="#60ff00" stroke="#60ff00" points="929.8,343.3 950.8,336.9 955.3,342.9 934.1,349.3"/>
<polygon fill="#69ff00" stroke="#69ff00" points="950.8,336.9 971.9,330.5 976.4,336.6 955.3,342.9"/>
<polygon fill="#71ff00" stroke="#71ff00" points="971.9,330.5 992.9,324.4 997.5,330.5 976.4,336.6"/>
<polygon fill="#7aff00" stroke="#7aff00" points="992.9,324.4 1013.9,318.2 1018.6,324.4 997.5,330.5"/>
<polygon fill="#82ff00" stroke="#82ff00" points="1013.9,318.2 1034.9,312.1 1039.7,318.4 1018.6,324.4"/>
<polygon fill="#8bff00" stroke="#8bff00" points="1034.9,312.1 1055.9,306 1060.8,312.3 1039.7,318.4"/>
<polygon fill="#93ff00" stroke="#93ff00" points="1055.9,306 1076.9,300 1081.8,306.4 1060.8,312.3"/>
<polygon fill="#9bff00" stroke="#9bff00" points="1076.9,300 1097.8,294 1102.8,300.4 1081.8,306.4"/>
<polygon fill="#a3ff00" stroke="#a3ff00" points="1097.8,294 1118.7,288.1 1123.8,294.6 1102.8,300.4"/>
<polygon fill="#abff00" stroke="#abff00" points="1118.7,288.1 1139.6,282.2 1144.8,288.8 1123.8,294.6"/>
<polygon fill="#b3ff00" stroke="#b3ff00" points="1139.6,282.2 1160.5,276.4 1165.8,283.1 1144.8,288.8"/>
<polygon fill="#bbff00" stroke="#bbff00" points="1160.5,276.4 1181.4,270.6 1186.8,277.4 1165.8,283.1"/>
<polygon fill="#c3ff00" stroke="#c3ff00" points="1181.4,270.6 1202.2,265.1 1207.7,272 1186.8,277.4"/>
<polygon fill="#caff00" stroke="#caff00" points="1202.2,265.1 1223.1,259.6 1228.6,266.6 1207.7,272"/>
<polygon fill="#d2ff00" stroke="#d2ff00" points="1223.1,259.6 1243.9,253.8 1249.4,261.1 1228.6,266.6"/>
<polygon fill="#d9ff00" stroke="#d9ff00" points="1243.9,253.8 1264.7,248.1 1270.3,255.7 1249.4,261.1"/>
<polygon fill="#00ffac" stroke="#00ffac" points="423,540.9 444.3,529.8 446.5,532.4 425.1,542.9"/>
<polygon fill="#00ff9c" stroke="#00ff9c" points="444.3,529.8 465.6,518.8 467.9,521.8 446.5,532.4"/>
<polygon fill="#00ff8d" stroke="#00ff8d" points="465.6,518.8 487,509.7 489.4,513.1 467.9,521.8"/>
<polygon fill="#00ff80" stroke="#00ff80" points="487,509.7 508.3,500.6 510.9,504.4 489.4,513.1"/>
<polygon fill="#00ff73" stroke="#00ff73" points="508.3,500.6 529.7,491.4 532.3,495.4 510.9,504.4"/>
<polygon fill="#00ff65" stroke="#00ff65" points="529.7,491.4 551,482.1 553.8,486.4 532.3,495.4"/>
<polygon fill="#00ff59" stroke="#00ff59" points="551,482.1 572.4,473.7 575.2,478 553.8,486.4"/>
<polygon fill="#00ff4c" stroke="#00ff4c" points="572.4,473.7 593.8,465.2 596.7,469.7 575.2,478"/>
<polygon fill="#00ff40" stroke="#00ff40" points="593.8,465.2 615.1,456.4 618.1,461 596.7,469.7"/>
<polygon fill="#00ff33" stroke="#00ff33" points="615.1,456.4 636.4,447.6 639.6,452.3 618.1,461"/>
<polygon fill="#00ff27" stroke="#00ff27" points="636.4,447.6 657.8,439.8 661,444.6 639.6,452.3"/>
<polygon fill="#00ff1c" stroke="#00ff1c" points="657.8,439.8 679.1,432.1 682.4,436.9 661,444.6"/>
<polygon fill="#00ff11" stroke="#00ff11" points="679.1,432.1 700.4,424.4 703.8,429.3 682.4,436.9"/>
<polygon fill="#00ff06" stroke="#00ff06" points="700.4,424.4 721.7,416.6 725.2,421.7 703.8,429.3"/>
<polygon fill="#04ff00" stroke="#04ff00" points="721.7,416.6 743,409.7 746.6,414.9 725.2,421.7"/>
<polygon fill="#0eff00" stroke="#0eff00" points="743,409.7 764.3,402.8 768,408.1 746.6,414.9"/>
<polygon fill="#17ff00" stroke="#17ff00" points="764.3,402.8 785.6,395.8 789.4,401.2 768,408.1"/>
<polygon fill="#21ff00" stroke="#21ff00" points="785.6,395.8 806.9,388.8 810.7,394.3 789.4,401.2"/>
<polygon fill="#2aff00" stroke="#2aff00" points="806.9,388.8 828.1,382.1 832.1,387.7 810.7,394.3"/>
<polygon fill="#34ff00" stroke="#34ff00" points="828.1,382.1 849.4,375.4 853.4,381.1 832.1,387.7"/>
<polygon fill="#3dff00" stroke="#3dff00" points="849.4,375.4 870.6,368.7 874.7,374.5 853.4,381.1"/>
<polygon fill="#46ff00" stroke="#46ff00" points="870.6,368.7 891.8,362.1 896,367.9 874.7,374.5"/>
<polygon fill="#4fff00" stroke="#4fff00" points="891.8,362.1 913,355.7 917.2,361.5 896,367.9"/>
<polygon fill="#58ff00" stroke="#58ff00" points="913,355.7 934.1,349.3 938.5,355.2 917.2,361.5"/>
<polygon fill="#61ff00" stroke="#61ff00" points="934.1,349.3 955.3,342.9 959.7,349 938.5,355.2"/>
<polygon fill="#69ff00" stroke="#69ff00" points="955.3,342.9 976.4,336.6 981,342.7 959.7,349"/>
<polygon fill="#72ff00" stroke="#72ff00" points="976.4,336.6 997.5,330.5 1002.2,336.7 981,342.7"/>
<polygon fill="#7aff00" stroke="#7aff00" points="997.5,330.5 1018.6,324.4 1023.3,330.6 1002.2,336.7"/>
<polygon fill="#83ff00" stroke="#83ff00" points="1018.6,324.4 1039.7,318.4 1044.5,324.6 1023.3,330.6"/>
<polygon fill="#8bff00" stroke="#8bff00" points="1039.7,318.4 1060.8,312.3 1065.7,318.6 1044.5,324.6"/>
<polygon fill="#93ff00" stroke="#93ff00" points="1060.8,312.3 1081.8,306.4 1086.8,312.7 1065.7,318.6"/>
<polygon fill="#9bff00" stroke="#9bff00" points="1081.8,306.4 1102.8,300.4 1107.9,306.9 1086.8,312.7"/>
<polygon fill="#a3ff00" stroke="#a3ff00" points="1102.8,300.4 1123.8,294.6 1129,301.2 1107.9,306.9"/>
<polygon fill="#abff00" stroke="#abff00" points="1123.8,294.6 1144.8,288.8 1150,295.4 1129,301.2"/>
<polygon fill="#b2ff00" stroke="#b2ff00" points="1144.8,288.8 1165.8,283.1 1171.1,289.9 1150,295.4"/>
<polygon fill="#baff00" stroke="#baff00" points="1165.8,283.1 1186.8,277.4 1192.1,284.3 1171.1,289.9"/>
<polygon fill="#c1ff00" stroke="#c1ff00" points="1186.8,277.4 1207.7,272 1213.1,279 1192.1,284.3"/>
<polygon fill="#c9ff00" stroke="#c9ff00" points="1207.7,272 1228.6,266.6 1234.1,273.7 1213.1,279"/>
<polygon fill="#d0ff00" stroke="#d0ff00" points="1228.6,266.6 1249.4,261.1 1255,268.5 1234.1,273.7"/>
<polygon fill="#d7ff00" stroke="#d7ff00" points="1249.4,261.1 1270.3,255.7 1276,263.2 1255,268.5"/>
<polygon fill="#00ffa4" stroke="#00ffa4" points="425.1,542.9 446.5,532.4 448.8,535.7 427.2,545.7"/>
<polygon fill="#00ff94" stroke="#00ff94" points="446.5,532.4 467.9,521.8 470.3,525.6 448.8,535.7"/>
<polygon fill="#00ff87" stroke="#00ff87" points="467.9,521.8 489.4,513.1 491.9,517.2 470.3,525.6"/>
<polygon fill="#00ff7a" stroke="#00ff7a" points="489.4,513.1 510.9,504.4 513.5,508.8 491.9,517.2"/>
<polygon fill="#00ff6e" stroke="#00ff6e" points="510.9,504.4 532.3,495.4 535,499.9 513.5,508.8"/>
<polygon fill="#00ff61" stroke="#00ff61" points="532.3,495.4 553.8,486.4 556.6,491.1 535,499.9"/>
<polygon fill="#00ff54" stroke="#00ff54" points="553.8,486.4 575.2,478 578.1,482.8 556.6,491.1"/>
<polygon fill="#00ff48" stroke="#00ff48" points="575.2,478 596.7,469.7 599.7,474.5 578.1,482.8"/>
<polygon fill="#00ff3c" stroke="#00ff3c" points="596.7,469.7 618.1,461 621.2,465.9 599.7,474.5"/>
<polygon fill="#00ff2f" stroke="#00ff2f" points="618.1,461 639.6,452.3 642.7,457.3 621.2,465.9"/>
<polygon fill="#00ff23" stroke="#00ff23" points="639.6,452.3 661,444.6 664.3,449.7 642.7,457.3"/>
<polygon fill="#00ff19" stroke="#00ff19" points="661,444.6 682.4,436.9 685.8,442.1 664.3,449.7"/>
<polygon fill="#00ff0e" stroke="#00ff0e" points="682.4,436.9 703.8,429.3 707.3,434.6 685.8,442.1"/>
<polygon fill="#00ff03" stroke="#00ff03" points="703.8,429.3 725.2,421.7 728.8,427.1 707.3,434.6"/>
<polygon fill="#07ff00" stroke="#07ff00" points="725.2,421.7 746.6,414.9 750.3,420.4 728.8,427.1"/>
<polygon fill="#10ff00" stroke="#10ff00" points="746.6,414.9 768,408.1 771.8,413.7 750.3,420.4"/>
<polygon fill="#1aff00" stroke="#1aff00" points="768,408.1 789.4,401.2 793.2,406.9 771.8,413.7"/>
<polygon fill="#23ff00" stroke="#23ff00" points="789.4,401.2 810.7,394.3 814.7,400.1 793.2,406.9"/>
<polygon fill="#2cff00" stroke="#2cff00" points="810.7,394.3 832.1,387.7 836.1,393.5 814.7,400.1"/>
<polygon fill="#35ff00" stroke="#35ff00" points="832.1,387.7 853.4,381.1 857.5,387 836.1,393.5"/>
<polygon fill="#3eff00" stroke="#3eff00" points="853.4,381.1 874.7,374.5 878.9,380.4 857.5,387"/>
<polygon fill="#48ff00" stroke="#48ff00" points="874.7,374.5 896,367.9 900.3,373.9 878.9,380.4"/>
<polygon fill="#50ff00" stroke="#50ff00" points="896,367.9 917.2,361.5 921.6,367.6 900.3,373.9"/>
<polygon fill="#59ff00" stroke="#59ff00" points="917.2,361.5 938.5,355.2 943,361.4 921.6,367.6"/>
<polygon fill="#62ff00" stroke="#62ff00" points="938.5,355.2 959.7,349 964.3,355.2 943,361.4"/>
<polygon fill="#6aff00" stroke="#6aff00" points="959.7,349 981,342.7 985.6,349 964.3,355.2"/>
<polygon fill="#72ff00" stroke="#72ff00" points="981,342.7 1002.2,336.7 1006.9,343 985.6,349"/>
<polygon fill="#7bff00" stroke="#7bff00" points="1002.2,336.7 1023.3,330.6 1028.1,337 1006.9,343"/>
<polygon fill="#83ff00" stroke="#83ff00" points="1023.3,330.6 1044.5,324.6 1049.4,331 1028.1,337"/>
<polygon fill="#8bff00" stroke="#8bff00" points="1044.5,324.6 1065.7,318.6 1070.6,325.1 1049.4,331"/>
<polygon fill="#93ff00" stroke="#93ff00" points="1065.7,318.6 1086.8,312.7 1091.8,319.3 1070.6,325.1"/>
<polygon fill="#9bff00" stroke="#9bff00" points="1086.8,312.7 1107.9,306.9 1113,313.5 1091.8,319.3"/>
<polygon fill="#a3ff00" stroke="#a3ff00" points="1107.9,306.9 1129,301.2 1134.2,307.9 1113,313.5"/>
<polygon fill="#aaff00" stroke="#aaff00" points="1129,301.2 1150,295.4 1155.3,302.2 1134.2,307.9"/>
<polygon fill="#b2ff00" stroke="#b2ff00" points="1150,295.4 1171.1,289.9 1176.4,296.7 1155.3,302.2"/>
<polygon fill="#b9ff00" stroke="#b9ff00" points="1171.1,289.9 1192.1,284.3 1197.6,291.2 1176.4,296.7"/>
<polygon fill="#c0ff00" stroke="#c0ff00" points="1192.1,284.3 1213.1,279 1218.6,286 1197.6,291.2"/>
<polygon fill="#c7ff00" stroke="#c7ff00" points="1213.1,279 1234.1,273.7 1239.7,280.7 1218.6,286"/>
<polygon fill="#ceff00" stroke="#ceff00" points="1234.1,273.7 1255,268.5 1260.7,275.5 1239.7,280.7"/>
<polygon fill="#d5ff00" stroke="#d5ff00" points="1255,268.5 1276,263.2 1281.7,270.3 1260.7,275.5"/>
<polygon fill="#00ff9c" stroke="#00ff9c" points="427.2,545.7 448.8,535.7 451,539 429.4,548.6"/>
<polygon fill="#00ff8e" stroke="#00ff8e" points="448.8,535.7 470.3,525.6 472.7,529.4 451,539"/>
<polygon fill="#00ff81" stroke="#00ff81" points="470.3,525.6 491.9,517.2 494.4,521.3 472.7,529.4"/>
<polygon fill="#00ff75" stroke="#00ff75" points="491.9,517.2 513.5,508.8 516.1,513.2 494.4,521.3"/>
<polygon fill="#00ff69" stroke="#00ff69" points="513.5,508.8 535,499.9 537.7,504.5 516.1,513.2"/>
<polygon fill="#00ff5c" stroke="#00ff5c" points="535,499.9 556.6,491.1 559.4,495.8 537.7,504.5"/>
<polygon fill="#00ff50" stroke="#00ff50" points="556.6,491.1 578.1,482.8 581,487.6 559.4,495.8"/>
<polygon fill="#00ff44" stroke="#00ff44" points="578.1,482.8 599.7,474.5 602.7,479.4 581,487.6"/>
<polygon fill="#00ff38" stroke="#00ff38" points="599.7,474.5 621.2,465.9 624.3,470.8 602.7,479.4"/>
<polygon fill="#00ff2c" stroke="#00ff2c" points="621.2,465.9 642.7,457.3 645.9,462.3 624.3,470.8"/>
<polygon fill="#00ff20" stroke="#00ff20" points="642.7,457.3 664.3,449.7 667.6,454.7 645.9,462.3"/>
<polygon fill="#00ff15" stroke="#00ff15" points="664.3,449.7 685.8,442.1 689.2,447.2 667.6,454.7"/>
<polygon fill="#00ff0b" stroke="#00ff0b" points="685.8,442.1 707.3,434.6 710.8,439.9 689.2,447.2"/>
<polygon fill="#00ff00" stroke="#00ff00" points="707.3,434.6 728.8,427.1 732.4,432.5 710.8,439.9"/>
<polygon fill="#09ff00" stroke="#09ff00" points="728.8,427.1 750.3,420.4 753.9,425.9 732.4,432.5"/>
<polygon fill="#12ff00" stroke="#12ff00" points="750.3,420.4 771.8,413.7 775.5,419.3 753.9,425.9"/>
<polygon fill="#1cff00" stroke="#1cff00" points="771.8,413.7 793.2,406.9 797,412.6 775.5,419.3"/>
<polygon fill="#25ff00" stroke="#25ff00" points="793.2,406.9 814.7,400.1 818.6,405.9 797,412.6"/>
<polygon fill="#2eff00" stroke="#2eff00" points="814.7,400.1 836.1,393.5 840.1,399.4 818.6,405.9"/>
<polygon fill="#37ff00" stroke="#37ff00" points="836.1,393.5 857.5,387 861.6,392.9 840.1,399.4"/>
<polygon fill="#40ff00" stroke="#40ff00" points="857.5,387 878.9,380.4 883.1,386.4 861.6,392.9"/>
<polygon fill="#49ff00" stroke="#49ff00" points="878.9,380.4 900.3,373.9 904.5,380 883.1,386.4"/>
<polygon fill="#51ff00" stroke="#51ff00" points="900.3,373.9 921.6,367.6 926,373.7 904.5,380"/>
<polygon fill="#5aff00" stroke="#5aff00" points="921.6,367.6 943,361.4 947.4,367.5 926,373.7"/>
<polygon fill="#62ff00" stroke="#62ff00" points="943,361.4 964.3,355.2 968.8,361.4 947.4,367.5"/>
<polygon fill="#6bff00" stroke="#6bff00" points="964.3,355.2 985.6,349 990.2,355.2 968.8,361.4"/>
<polygon fill="#73ff00" stroke="#73ff00" points="985.6,349 1006.9,343 1011.6,349.3 990.2,355.2"/>
<polygon fill="#7bff00" stroke="#7bff00" points="1006.9,343 1028.1,337 1032.9,343.4 1011.6,349.3"/>
<polygon fill="#83ff00" stroke="#83ff00" points="1028.1,337 1049.4,331 1054.2,337.4 1032.9,343.4"/>
<polygon fill="#8bff00" stroke="#8bff00" points="1049.4,331 1070.6,325.1 1075.6,331.5 1054.2,337.4"/>
<polygon fill="#93ff00" stroke="#93ff00" points="1070.6,325.1 1091.8,319.3 1096.9,325.8 1075.6,331.5"/>
<polygon fill="#9bff00" stroke="#9bff00" points="1091.8,319.3 1113,313.5 1118.1,320.1 1096.9,325.8"/>
<polygon fill="#a2ff00" stroke="#a2ff00" points="1113,313.5 1134.2,307.9 1139.4,314.6 1118.1,320.1"/>
<polygon fill="#aaff00" stroke="#aaff00" points="1134.2,307.9 1155.3,302.2 1160.6,309 1139.4,314.6"/>
<polygon fill="#b1ff00" stroke="#b1ff00" points="1155.3,302.2 1176.4,296.7 1181.8,303.5 1160.6,309"/>
<polygon fill="#b8ff00" stroke="#b8ff00" points="1176.4,296.7 1197.6,291.2 1203,298.1 1181.8,303.5"/>
<polygon fill="#bfff00" stroke="#bfff00" points="1197.6,291.2 1218.6,286 1224.2,292.9 1203,298.1"/>
<polygon fill="#c6ff00" stroke="#c6ff00" points="1218.6,286 1239.7,280.7 1245.3,287.7 1224.2,292.9"/>
<polygon fill="#cdff00" stroke="#cdff00" points="1239.7,280.7 1260.7,275.5 1266.4,282.5 1245.3,287.7"/>
<polygon fill="#d4ff00" stroke="#d4ff00" points="1260.7,275.5 1281.7,270.3 1287.5,277.3 1266.4,282.5"/>
<polygon fill="#00ff96" stroke="#00ff96" points="429.4,548.6 451,539 453.4,543.5 431.6,552.8"/>
<polygon fill="#00ff88" stroke="#00ff88" points="451,539 472.7,529.4 475.2,534.2 453.4,543.5"/>
<polygon fill="#00ff7c" stroke="#00ff7c" points="472.7,529.4 494.4,521.3 497,526.3 475.2,534.2"/>
<polygon fill="#00ff70" stroke="#00ff70" points="494.4,521.3 516.1,513.2 518.7,518.3 497,526.3"/>
<polygon fill="#00ff65" stroke="#00ff65" points="516.1,513.2 537.7,504.5 540.5,509.7 518.7,518.3"/>
<polygon fill="#00ff58" stroke="#00ff58" points="537.7,504.5 559.4,495.8 562.3,501.1 540.5,509.7"/>
<polygon fill="#00ff4c" stroke="#00ff4c" points="559.4,495.8 581,487.6 584,492.9 562.3,501.1"/>
<polygon fill="#00ff40" stroke="#00ff40" points="581,487.6 602.7,479.4 605.8,484.8 584,492.9"/>
<polygon fill="#00ff35" stroke="#00ff35" points="602.7,479.4 624.3,470.8 627.5,476.3 605.8,484.8"/>
<polygon fill="#00ff28" stroke="#00ff28" points="624.3,470.8 645.9,462.3 649.2,467.8 627.5,476.3"/>
<polygon fill="#00ff1d" stroke="#00ff1d" points="645.9,462.3 667.6,454.7 670.9,460.4 649.2,467.8"/>
<polygon fill="#00ff12" stroke="#00ff12" points="667.6,454.7 689.2,447.2 692.6,453 670.9,460.4"/>
<polygon fill="#00ff08" stroke="#00ff08" points="689.2,447.2 710.8,439.9 714.3,445.7 692.6,453"/>
<polygon fill="#02ff00" stroke="#02ff00" points="710.8,439.9 732.4,432.5 736,438.4 714.3,445.7"/>
<polygon fill="#0cff00" stroke="#0cff00" points="732.4,432.5 753.9,425.9 757.6,431.9 736,438.4"/>
<polygon fill="#14ff00" stroke="#14ff00" points="753.9,425.9 775.5,419.3 779.3,425.4 757.6,431.9"/>
<polygon fill="#1dff00" stroke="#1dff00" points="775.5,419.3 797,412.6 800.9,418.8 779.3,425.4"/>
<polygon fill="#26ff00" stroke="#26ff00" points="797,412.6 818.6,405.9 822.6,412.2 800.9,418.8"/>
<polygon fill="#2fff00" stroke="#2fff00" points="818.6,405.9 840.1,399.4 844.2,405.7 822.6,412.2"/>
<polygon fill="#38ff00" stroke="#38ff00" points="840.1,399.4 861.6,392.9 865.8,399.3 844.2,405.7"/>
<polygon fill="#41ff00" stroke="#41ff00" points="861.6,392.9 883.1,386.4 887.3,392.9 865.8,399.3"/>
<polygon fill="#4aff00" stroke="#4aff00" points="883.1,386.4 904.5,380 908.9,386.5 887.3,392.9"/>
<polygon fill="#52ff00" stroke="#52ff00" points="904.5,380 926,373.7 930.4,380.3 908.9,386.5"/>
<polygon fill="#5bff00" stroke="#5bff00" points="926,373.7 947.4,367.5 951.9,374.1 930.4,380.3"/>
<polygon fill="#63ff00" stroke="#63ff00" points="947.4,367.5 968.8,361.4 973.4,368.1 951.9,374.1"/>
<polygon fill="#6bff00" stroke="#6bff00" points="968.8,361.4 990.2,355.2 994.9,362 973.4,368.1"/>
<polygon fill="#73ff00" stroke="#73ff00" points="990.2,355.2 1011.6,349.3 1016.3,356.1 994.9,362"/>
<polygon fill="#7bff00" stroke="#7bff00" points="1011.6,349.3 1032.9,343.4 1037.8,350.2 1016.3,356.1"/>
<polygon fill="#83ff00" stroke="#83ff00" points="1032.9,343.4 1054.2,337.4 1059.2,344.4 1037.8,350.2"/>
<polygon fill="#8bff00" stroke="#8bff00" points="1054.2,337.4 1075.6,331.5 1080.6,338.5 1059.2,344.4"/>
<polygon fill="#92ff00" stroke="#92ff00" points="1075.6,331.5 1096.9,325.8 1102,332.9 1080.6,338.5"/>
<polygon fill="#9aff00" stroke="#9aff00" points="1096.9,325.8 1118.1,320.1 1123.3,327.3 1102,332.9"/>
<polygon fill="#a1ff00" stroke="#a1ff00" points="1118.1,320.1 1139.4,314.6 1144.7,321.8 1123.3,327.3"/>
<polygon fill="#a9ff00" stroke="#a9ff00" points="1139.4,314.6 1160.6,309 1166,316.4 1144.7,321.8"/>
<polygon fill="#b0ff00" stroke="#b0ff00" points="1160.6,309 1181.8,303.5 1187.3,311 1166,316.4"/>
<polygon fill="#b7ff00" stroke="#b7ff00" points="1181.8,303.5 1203,298.1 1208.5,305.6 1187.3,311"/>
<polygon fill="#beff00" stroke="#beff00" points="1203,298.1 1224.2,292.9 1229.8,300.4 1208.5,305.6"/>
<polygon fill="#c4ff00" stroke="#c4ff00" points="1224.2,292.9 1245.3,287.7 1251,295.3 1229.8,300.4"/>
<polygon fill="#cbff00" stroke="#cbff00" points="1245.3,287.7 1266.4,282.5 1272.2,290.1 1251,295.3"/>
<polygon fill="#d2ff00" stroke="#d2ff00" points="1266.4,282.5 1287.5,277.3 1293.4,284.9 1272.2,290.1"/>
<polygon fill="#00ff90" stroke="#00ff90" points="431.6,552.8 453.4,543.5 455.7,548 433.9,556.9"/>
<polygon fill="#00ff83" stroke="#00ff83" points="453.4,543.5 475.2,534.2 477.6,539 455.7,548"/>
<polygon fill="#00ff77" stroke="#00ff77" points="475.2,534.2 497,526.3 499.5,531.2 477.6,539"/>
<polygon fill="#00ff6c" stroke="#00ff6c" points="497,526.3 518.7,518.3 521.4,523.4 499.5,531.2"/>
<polygon fill="#00ff61" stroke="#00ff61" points="518.7,518.3 540.5,509.7 543.3,514.9 521.4,523.4"/>
<polygon fill="#00ff55" stroke="#00ff55" points="540.5,509.7 562.3,501.1 565.1,506.4 543.3,514.9"/>
<polygon fill="#00ff49" stroke="#00ff49" points="562.3,501.1 584,492.9 587,498.3 565.1,506.4"/>
<polygon fill="#00ff3d" stroke="#00ff3d" points="584,492.9 605.8,484.8 608.8,490.2 587,498.3"/>
<polygon fill="#00ff31" stroke="#00ff31" points="605.8,484.8 627.5,476.3 630.6,481.8 608.8,490.2"/>
<polygon fill="#00ff25" stroke="#00ff25" points="627.5,476.3 649.2,467.8 652.4,473.4 630.6,481.8"/>
<polygon fill="#00ff1a" stroke="#00ff1a" points="649.2,467.8 670.9,460.4 674.2,466.1 652.4,473.4"/>
<polygon fill="#00ff10" stroke="#00ff10" points="670.9,460.4 692.6,453 696,458.7 674.2,466.1"/>
<polygon fill="#00ff06" stroke="#00ff06" points="692.6,453 714.3,445.7 717.8,451.5 696,458.7"/>
<polygon fill="#04ff00" stroke="#04ff00" points="714.3,445.7 736,438.4 739.6,444.3 717.8,451.5"/>
<polygon fill="#0dff00" stroke="#0dff00" points="736,438.4 757.6,431.9 761.4,437.9 739.6,444.3"/>
<polygon fill="#16ff00" stroke="#16ff00" points="757.6,431.9 779.3,425.4 783.1,431.5 761.4,437.9"/>
<polygon fill="#1fff00" stroke="#1fff00" points="779.3,425.4 800.9,418.8 804.8,425 783.1,431.5"/>
<polygon fill="#28ff00" stroke="#28ff00" points="800.9,418.8 822.6,412.2 826.6,418.5 804.8,425"/>
<polygon fill="#30ff00" stroke="#30ff00" points="822.6,412.2 844.2,405.7 848.2,412.1 826.6,418.5"/>
<polygon fill="#39ff00" stroke="#39ff00" points="844.2,405.7 865.8,399.3 869.9,405.7 848.2,412.1"/>
<polygon fill="#42ff00" stroke="#42ff00" points="865.8,399.3 887.3,392.9 891.6,399.4 869.9,405.7"/>
<polygon fill="#4aff00" stroke="#4aff00" points="887.3,392.9 908.9,386.5 913.2,393 891.6,399.4"/>
<polygon fill="#53ff00" stroke="#53ff00" points="908.9,386.5 930.4,380.3 934.8,386.9 913.2,393"/>
<polygon fill="#5bff00" stroke="#5bff00" points="930.4,380.3 951.9,374.1 956.4,380.8 934.8,386.9"/>
<polygon fill="#63ff00" stroke="#63ff00" points="951.9,374.1 973.4,368.1 978,374.8 956.4,380.8"/>
<polygon fill="#6bff00" stroke="#6bff00" points="973.4,368.1 994.9,362 999.6,368.8 978,374.8"/>
<polygon fill="#73ff00" stroke="#73ff00" points="994.9,362 1016.3,356.1 1021.1,363 999.6,368.8"/>
<polygon fill="#7bff00" stroke="#7bff00" points="1016.3,356.1 1037.8,350.2 1042.7,357.1 1021.1,363"/>
<polygon fill="#82ff00" stroke="#82ff00" points="1037.8,350.2 1059.2,344.4 1064.1,351.3 1042.7,357.1"/>
<polygon fill="#8aff00" stroke="#8aff00" points="1059.2,344.4 1080.6,338.5 1085.6,345.5 1064.1,351.3"/>
<polygon fill="#92ff00" stroke="#92ff00" points="1080.6,338.5 1102,332.9 1107.1,340 1085.6,345.5"/>
<polygon fill="#99ff00" stroke="#99ff00" points="1102,332.9 1123.3,327.3 1128.5,334.5 1107.1,340"/>
<polygon fill="#a0ff00" stroke="#a0ff00" points="1123.3,327.3 1144.7,321.8 1149.9,329.1 1128.5,334.5"/>
<polygon fill="#a7ff00" stroke="#a7ff00" points="1144.7,321.8 1166,316.4 1171.3,323.7 1149.9,329.1"/>
<polygon fill="#aeff00" stroke="#aeff00" points="1166,316.4 1187.3,311 1192.7,318.4 1171.3,323.7"/>
<polygon fill="#b5ff00" stroke="#b5ff00" points="1187.3,311 1208.5,305.6 1214.1,313 1192.7,318.4"/>
<polygon fill="#bcff00" stroke="#bcff00" points="1208.5,305.6 1229.8,300.4 1235.4,307.9 1214.1,313"/>
<polygon fill="#c3ff00" stroke="#c3ff00" points="1229.8,300.4 1251,295.3 1256.7,302.8 1235.4,307.9"/>
<polygon fill="#c9ff00" stroke="#c9ff00" points="1251,295.3 1272.2,290.1 1277.9,297.6 1256.7,302.8"/>
<polygon fill="#d0ff00" stroke="#d0ff00" points="1272.2,290.1 1293.4,284.9 1299.2,292.4 1277.9,297.6"/>
<polygon fill="#00ff8b" stroke="#00ff8b" points="433.9,556.9 455.7,548 458.1,552.7 436.2,561.4"/>
<polygon fill="#00ff7f" stroke="#00ff7f" points="455.7,548 477.6,539 480.1,544.1 458.1,552.7"/>
<polygon fill="#00ff73" stroke="#00ff73" points="477.6,539 499.5,531.2 502.1,536.4 480.1,544.1"/>
<polygon fill="#00ff69" stroke="#00ff69" points="499.5,531.2 521.4,523.4 524.1,528.8 502.1,536.4"/>
<polygon fill="#00ff5d" stroke="#00ff5d" points="521.4,523.4 543.3,514.9 546.1,520.3 524.1,528.8"/>
<polygon fill="#00ff51" stroke="#00ff51" points="543.3,514.9 565.1,506.4 568,511.9 546.1,520.3"/>
<polygon fill="#00ff45" stroke="#00ff45" points="565.1,506.4 587,498.3 590,503.9 568,511.9"/>
<polygon fill="#00ff3a" stroke="#00ff3a" points="587,498.3 608.8,490.2 611.9,495.9 590,503.9"/>
<polygon fill="#00ff2f" stroke="#00ff2f" points="608.8,490.2 630.6,481.8 633.8,487.6 611.9,495.9"/>
<polygon fill="#00ff23" stroke="#00ff23" points="630.6,481.8 652.4,473.4 655.7,479.3 633.8,487.6"/>
<polygon fill="#00ff18" stroke="#00ff18" points="652.4,473.4 674.2,466.1 677.6,472 655.7,479.3"/>
<polygon fill="#00ff0e" stroke="#00ff0e" points="674.2,466.1 696,458.7 699.5,464.8 677.6,472"/>
<polygon fill="#00ff04" stroke="#00ff04" points="696,458.7 717.8,451.5 721.4,457.7 699.5,464.8"/>
<polygon fill="#06ff00" stroke="#06ff00" points="717.8,451.5 739.6,444.3 743.3,450.6 721.4,457.7"/>
<polygon fill="#0fff00" stroke="#0fff00" points="739.6,444.3 761.4,437.9 765.1,444.3 743.3,450.6"/>
<polygon fill="#17ff00" stroke="#17ff00" points="761.4,437.9 783.1,431.5 787,437.9 765.1,444.3"/>
<polygon fill="#20ff00" stroke="#20ff00" points="783.1,431.5 804.8,425 808.8,431.5 787,437.9"/>
<polygon fill="#29ff00" stroke="#29ff00" points="804.8,425 826.6,418.5 830.6,425.1 808.8,431.5"/>
<polygon fill="#31ff00" stroke="#31ff00" points="826.6,418.5 848.2,412.1 852.4,418.8 830.6,425.1"/>
<polygon fill="#3aff00" stroke="#3aff00" points="848.2,412.1 869.9,405.7 874.2,412.5 852.4,418.8"/>
<polygon fill="#42ff00" stroke="#42ff00" points="869.9,405.7 891.6,399.4 895.9,406.2 874.2,412.5"/>
<polygon fill="#4aff00" stroke="#4aff00" points="891.6,399.4 913.2,393 917.6,399.9 895.9,406.2"/>
<polygon fill="#53ff00" stroke="#53ff00" points="913.2,393 934.8,386.9 939.3,393.9 917.6,399.9"/>
<polygon fill="#5bff00" stroke="#5bff00" points="934.8,386.9 956.4,380.8 961,387.8 939.3,393.9"/>
<polygon fill="#63ff00" stroke="#63ff00" points="956.4,380.8 978,374.8 982.7,381.9 961,387.8"/>
<polygon fill="#6bff00" stroke="#6bff00" points="978,374.8 999.6,368.8 1004.4,376 982.7,381.9"/>
<polygon fill="#72ff00" stroke="#72ff00" points="999.6,368.8 1021.1,363 1026,370.3 1004.4,376"/>
<polygon fill="#7aff00" stroke="#7aff00" points="1021.1,363 1042.7,357.1 1047.6,364.5 1026,370.3"/>
<polygon fill="#82ff00" stroke="#82ff00" points="1042.7,357.1 1064.1,351.3 1069.2,358.8 1047.6,364.5"/>
<polygon fill="#89ff00" stroke="#89ff00" points="1064.1,351.3 1085.6,345.5 1090.7,353 1069.2,358.8"/>
<polygon fill="#90ff00" stroke="#90ff00" points="1085.6,345.5 1107.1,340 1112.3,347.6 1090.7,353"/>
<polygon fill="#98ff00" stroke="#98ff00" points="1107.1,340 1128.5,334.5 1133.8,342.2 1112.3,347.6"/>
<polygon fill="#9eff00" stroke="#9eff00" points="1128.5,334.5 1149.9,329.1 1155.3,337 1133.8,342.2"/>
<polygon fill="#a5ff00" stroke="#a5ff00" points="1149.9,329.1 1171.3,323.7 1176.8,331.7 1155.3,337"/>
<polygon fill="#acff00" stroke="#acff00" points="1171.3,323.7 1192.7,318.4 1198.2,326.5 1176.8,331.7"/>
<polygon fill="#b3ff00" stroke="#b3ff00" points="1192.7,318.4 1214.1,313 1219.7,321.3 1198.2,326.5"/>
<polygon fill="#baff00" stroke="#baff00" points="1214.1,313 1235.4,307.9 1241,316.2 1219.7,321.3"/>
<polygon fill="#c0ff00" stroke="#c0ff00" points="1235.4,307.9 1256.7,302.8 1262.4,311.2 1241,316.2"/>
<polygon fill="#c7ff00" stroke="#c7ff00" points="1256.7,302.8 1277.9,297.6 1283.8,306.1 1262.4,311.2"/>
<polygon fill="#cdff00" stroke="#cdff00" points="1277.9,297.6 1299.2,292.4 1305.1,301.1 1283.8,306.1"/>
<polygon fill="#00ff86" stroke="#00ff86" points="436.2,561.4 458.1,552.7 460.6,557.5 438.4,565.8"/>
<polygon fill="#00ff7a" stroke="#00ff7a" points="458.1,552.7 480.1,544.1 482.7,549.3 460.6,557.5"/>
<polygon fill="#00ff6f" stroke="#00ff6f" points="480.1,544.1 502.1,536.4 504.8,541.7 482.7,549.3"/>
<polygon fill="#00ff65" stroke="#00ff65" points="502.1,536.4 524.1,528.8 526.9,534.1 504.8,541.7"/>
<polygon fill="#00ff5a" stroke="#00ff5a" points="524.1,528.8 546.1,520.3 548.9,525.8 526.9,534.1"/>
<polygon fill="#00ff4e" stroke="#00ff4e" points="546.1,520.3 568,511.9 571,517.5 548.9,525.8"/>
<polygon fill="#00ff42" stroke="#00ff42" points="568,511.9 590,503.9 593,509.5 571,517.5"/>
<polygon fill="#00ff37" stroke="#00ff37" points="590,503.9 611.9,495.9 615,501.6 593,509.5"/>
<polygon fill="#00ff2c" stroke="#00ff2c" points="611.9,495.9 633.8,487.6 637,493.4 615,501.6"/>
<polygon fill="#00ff20" stroke="#00ff20" points="633.8,487.6 655.7,479.3 659.1,485.1 637,493.4"/>
<polygon fill="#00ff16" stroke="#00ff16" points="655.7,479.3 677.6,472 681.1,478 659.1,485.1"/>
<polygon fill="#00ff0c" stroke="#00ff0c" points="677.6,472 699.5,464.8 703,470.9 681.1,478"/>
<polygon fill="#00ff02" stroke="#00ff02" points="699.5,464.8 721.4,457.7 725,463.9 703,470.9"/>
<polygon fill="#07ff00" stroke="#07ff00" points="721.4,457.7 743.3,450.6 747,456.9 725,463.9"/>
<polygon fill="#10ff00" stroke="#10ff00" points="743.3,450.6 765.1,444.3 768.9,450.6 747,456.9"/>
<polygon fill="#19ff00" stroke="#19ff00" points="765.1,444.3 787,437.9 790.9,444.3 768.9,450.6"/>
<polygon fill="#21ff00" stroke="#21ff00" points="787,437.9 808.8,431.5 812.8,438 790.9,444.3"/>
<polygon fill="#29ff00" stroke="#29ff00" points="808.8,431.5 830.6,425.1 834.7,431.7 812.8,438"/>
<polygon fill="#32ff00" stroke="#32ff00" points="830.6,425.1 852.4,418.8 856.5,425.5 834.7,431.7"/>
<polygon fill="#3aff00" stroke="#3aff00" points="852.4,418.8 874.2,412.5 878.4,419.2 856.5,425.5"/>
<polygon fill="#42ff00" stroke="#42ff00" points="874.2,412.5 895.9,406.2 900.2,413 878.4,419.2"/>
<polygon fill="#4bff00" stroke="#4bff00" points="895.9,406.2 917.6,399.9 922.1,406.9 900.2,413"/>
<polygon fill="#53ff00" stroke="#53ff00" points="917.6,399.9 939.3,393.9 943.8,400.9 922.1,406.9"/>
<polygon fill="#5bff00" stroke="#5bff00" points="939.3,393.9 961,387.8 965.6,394.9 943.8,400.9"/>
<polygon fill="#62ff00" stroke="#62ff00" points="961,387.8 982.7,381.9 987.4,389.1 965.6,394.9"/>
<polygon fill="#6aff00" stroke="#6aff00" points="982.7,381.9 1004.4,376 1009.1,383.2 987.4,389.1"/>
<polygon fill="#72ff00" stroke="#72ff00" points="1004.4,376 1026,370.3 1030.8,377.5 1009.1,383.2"/>
<polygon fill="#79ff00" stroke="#79ff00" points="1026,370.3 1047.6,364.5 1052.5,371.9 1030.8,377.5"/>
<polygon fill="#80ff00" stroke="#80ff00" points="1047.6,364.5 1069.2,358.8 1074.2,366.2 1052.5,371.9"/>
<polygon fill="#88ff00" stroke="#88ff00" points="1069.2,358.8 1090.7,353 1095.9,360.6 1074.2,366.2"/>
<polygon fill="#8fff00" stroke="#8fff00" points="1090.7,353 1112.3,347.6 1117.5,355.3 1095.9,360.6"/>
<polygon fill="#96ff00" stroke="#96ff00" points="1112.3,347.6 1133.8,342.2 1139.1,350 1117.5,355.3"/>
<polygon fill="#9cff00" stroke="#9cff00" points="1133.8,342.2 1155.3,337 1160.6,344.8 1139.1,350"/>
<polygon fill="#a3ff00" stroke="#a3ff00" points="1155.3,337 1176.8,331.7 1182.2,339.7 1160.6,344.8"/>
<polygon fill="#aaff00" stroke="#aaff00" points="1176.8,331.7 1198.2,326.5 1203.7,334.6 1182.2,339.7"/>
<polygon fill="#b0ff00" stroke="#b0ff00" points="1198.2,326.5 1219.7,321.3 1225.2,329.5 1203.7,334.6"/>
<polygon fill="#b7ff00" stroke="#b7ff00" points="1219.7,321.3 1241,316.2 1246.7,324.5 1225.2,329.5"/>
<polygon fill="#bdff00" stroke="#bdff00" points="1241,316.2 1262.4,311.2 1268.2,319.6 1246.7,324.5"/>
<polygon fill="#c3ff00" stroke="#c3ff00" points="1262.4,311.2 1283.8,306.1 1289.6,314.7 1268.2,319.6"/>
<polygon fill="#caff00" stroke="#caff00" points="1283.8,306.1 1305.1,301.1 1311,309.7 1289.6,314.7"/>
<polygon fill="#00ff81" stroke="#00ff81" points="438.4,565.8 460.6,557.5 463,562.8 440.8,570.9"/>
<polygon fill="#00ff76" stroke="#00ff76" points="460.6,557.5 482.7,549.3 485.2,554.8 463,562.8"/>
<polygon fill="#00ff6b" stroke="#00ff6b" points="482.7,549.3 504.8,541.7 507.4,547.4 485.2,554.8"/>
<polygon fill="#00ff61" stroke="#00ff61" points="504.8,541.7 526.9,534.1 529.6,539.9 507.4,547.4"/>
<polygon fill="#00ff56" stroke="#00ff56" points="526.9,534.1 548.9,525.8 551.8,531.6 529.6,539.9"/>
<polygon fill="#00ff4b" stroke="#00ff4b" points="548.9,525.8 571,517.5 573.9,523.4 551.8,531.6"/>
<polygon fill="#00ff3f" stroke="#00ff3f" points="571,517.5 593,509.5 596.1,515.5 573.9,523.4"/>
<polygon fill="#00ff35" stroke="#00ff35" points="593,509.5 615,501.6 618.2,507.7 596.1,515.5"/>
<polygon fill="#00ff29" stroke="#00ff29" points="615,501.6 637,493.4 640.3,499.6 618.2,507.7"/>
<polygon fill="#00ff1e" stroke="#00ff1e" points="637,493.4 659.1,485.1 662.4,491.5 640.3,499.6"/>
<polygon fill="#00ff14" stroke="#00ff14" points="659.1,485.1 681.1,478 684.5,484.4 662.4,491.5"/>
<polygon fill="#00ff0a" stroke="#00ff0a" points="681.1,478 703,470.9 706.6,477.4 684.5,484.4"/>
<polygon fill="#00ff01" stroke="#00ff01" points="703,470.9 725,463.9 728.7,470.5 706.6,477.4"/>
<polygon fill="#09ff00" stroke="#09ff00" points="725,463.9 747,456.9 750.7,463.6 728.7,470.5"/>
<polygon fill="#11ff00" stroke="#11ff00" points="747,456.9 768.9,450.6 772.8,457.4 750.7,463.6"/>
<polygon fill="#1aff00" stroke="#1aff00" points="768.9,450.6 790.9,444.3 794.8,451.2 772.8,457.4"/>
<polygon fill="#22ff00" stroke="#22ff00" points="790.9,444.3 812.8,438 816.8,445 794.8,451.2"/>
<polygon fill="#2aff00" stroke="#2aff00" points="812.8,438 834.7,431.7 838.8,438.8 816.8,445"/>
<polygon fill="#32ff00" stroke="#32ff00" points="834.7,431.7 856.5,425.5 860.8,432.6 838.8,438.8"/>
<polygon fill="#3aff00" stroke="#3aff00" points="856.5,425.5 878.4,419.2 882.7,426.4 860.8,432.6"/>
<polygon fill="#42ff00" stroke="#42ff00" points="878.4,419.2 900.2,413 904.6,420.3 882.7,426.4"/>
<polygon fill="#4aff00" stroke="#4aff00" points="900.2,413 922.1,406.9 926.6,414.2 904.6,420.3"/>
<polygon fill="#52ff00" stroke="#52ff00" points="922.1,406.9 943.8,400.9 948.4,408.3 926.6,414.2"/>
<polygon fill="#5aff00" stroke="#5aff00" points="943.8,400.9 965.6,394.9 970.3,402.4 948.4,408.3"/>
<polygon fill="#62ff00" stroke="#62ff00" points="965.6,394.9 987.4,389.1 992.1,396.7 970.3,402.4"/>
<polygon fill="#69ff00" stroke="#69ff00" points="987.4,389.1 1009.1,383.2 1014,391 992.1,396.7"/>
<polygon fill="#70ff00" stroke="#70ff00" points="1009.1,383.2 1030.8,377.5 1035.8,385.4 1014,391"/>
<polygon fill="#78ff00" stroke="#78ff00" points="1030.8,377.5 1052.5,371.9 1057.5,379.9 1035.8,385.4"/>
<polygon fill="#7fff00" stroke="#7fff00" points="1052.5,371.9 1074.2,366.2 1079.3,374.3 1057.5,379.9"/>
<polygon fill="#86ff00" stroke="#86ff00" points="1074.2,366.2 1095.9,360.6 1101,368.8 1079.3,374.3"/>
<polygon fill="#8dff00" stroke="#8dff00" points="1095.9,360.6 1117.5,355.3 1122.7,363.7 1101,368.8"/>
<polygon fill="#93ff00" stroke="#93ff00" points="1117.5,355.3 1139.1,350 1144.4,358.5 1122.7,363.7"/>
<polygon fill="#9aff00" stroke="#9aff00" points="1139.1,350 1160.6,344.8 1166.1,353.5 1144.4,358.5"/>
<polygon fill="#a0ff00" stroke="#a0ff00" points="1160.6,344.8 1182.2,339.7 1187.7,348.5 1166.1,353.5"/>
<polygon fill="#a6ff00" stroke="#a6ff00" points="1182.2,339.7 1203.7,334.6 1209.3,343.4 1187.7,348.5"/>
<polygon fill="#adff00" stroke="#adff00" points="1203.7,334.6 1225.2,329.5 1230.9,338.4 1209.3,343.4"/>
<polygon fill="#b3ff00" stroke="#b3ff00" points="1225.2,329.5 1246.7,324.5 1252.5,333.7 1230.9,338.4"/>
<polygon fill="#b9ff00" stroke="#b9ff00" points="1246.7,324.5 1268.2,319.6 1274,329 1252.5,333.7"/>
<polygon fill="#bfff00" stroke="#bfff00" points="1268.2,319.6 1289.6,314.7 1295.5,324.2 1274,329"/>
<polygon fill="#c5ff00" stroke="#c5ff00" points="1289.6,314.7 1311,309.7 1317,319.5 1295.5,324.2"/>
<polygon fill="#00ff7d" stroke="#00ff7d" points="440.8,570.9 463,562.8 465.5,568.2 443.2,575.9"/>
<polygon fill="#00ff72" stroke="#00ff72" points="463,562.8 485.2,554.8 487.8,560.4 465.5,568.2"/>
<polygon fill="#00ff68" stroke="#00ff68" points="485.2,554.8 507.4,547.4 510.1,553 487.8,560.4"/>
<polygon fill="#00ff5e" stroke="#00ff5e" points="507.4,547.4 529.6,539.9 532.4,545.6 510.1,553"/>
<polygon fill="#00ff53" stroke="#00ff53" points="529.6,539.9 551.8,531.6 554.7,537.5 532.4,545.6"/>
<polygon fill="#00ff48" stroke="#00ff48" points="551.8,531.6 573.9,523.4 576.9,529.3 554.7,537.5"/>
<polygon fill="#00ff3d" stroke="#00ff3d" points="573.9,523.4 596.1,515.5 599.2,521.6 576.9,529.3"/>
<polygon fill="#00ff32" stroke="#00ff32" points="596.1,515.5 618.2,507.7 621.4,513.8 599.2,521.6"/>
<polygon fill="#00ff27" stroke="#00ff27" points="618.2,507.7 640.3,499.6 643.6,505.8 621.4,513.8"/>
<polygon fill="#00ff1c" stroke="#00ff1c" points="640.3,499.6 662.4,491.5 665.8,497.8 643.6,505.8"/>
<polygon fill="#00ff12" stroke="#00ff12" points="662.4,491.5 684.5,484.4 688,490.9 665.8,497.8"/>
<polygon fill="#00ff09" stroke="#00ff09" points="684.5,484.4 706.6,477.4 710.2,483.9 688,490.9"/>
<polygon fill="#01ff00" stroke="#01ff00" points="706.6,477.4 728.7,470.5 732.3,477.1 710.2,483.9"/>
<polygon fill="#0aff00" stroke="#0aff00" points="728.7,470.5 750.7,463.6 754.5,470.3 732.3,477.1"/>
<polygon fill="#12ff00" stroke="#12ff00" points="750.7,463.6 772.8,457.4 776.6,464.2 754.5,470.3"/>
<polygon fill="#1aff00" stroke="#1aff00" points="772.8,457.4 794.8,451.2 798.8,458.1 776.6,464.2"/>
<polygon fill="#22ff00" stroke="#22ff00" points="794.8,451.2 816.8,445 820.8,452 798.8,458.1"/>
<polygon fill="#2aff00" stroke="#2aff00" points="816.8,445 838.8,438.8 842.9,445.9 820.8,452"/>
<polygon fill="#32ff00" stroke="#32ff00" points="838.8,438.8 860.8,432.6 865,439.8 842.9,445.9"/>
<polygon fill="#3aff00" stroke="#3aff00" points="860.8,432.6 882.7,426.4 887,433.7 865,439.8"/>
<polygon fill="#42ff00" stroke="#42ff00" points="882.7,426.4 904.6,420.3 909,427.6 887,433.7"/>
<polygon fill="#4aff00" stroke="#4aff00" points="904.6,420.3 926.6,414.2 931,421.6 909,427.6"/>
<polygon fill="#52ff00" stroke="#52ff00" points="926.6,414.2 948.4,408.3 953,415.8 931,421.6"/>
<polygon fill="#59ff00" stroke="#59ff00" points="948.4,408.3 970.3,402.4 975,410 953,415.8"/>
<polygon fill="#60ff00" stroke="#60ff00" points="970.3,402.4 992.1,396.7 996.9,404.4 975,410"/>
<polygon fill="#68ff00" stroke="#68ff00" points="992.1,396.7 1014,391 1018.8,398.8 996.9,404.4"/>
<polygon fill="#6fff00" stroke="#6fff00" points="1014,391 1035.8,385.4 1040.7,393.3 1018.8,398.8"/>
<polygon fill="#76ff00" stroke="#76ff00" points="1035.8,385.4 1057.5,379.9 1062.6,387.9 1040.7,393.3"/>
<polygon fill="#7dff00" stroke="#7dff00" points="1057.5,379.9 1079.3,374.3 1084.4,382.5 1062.6,387.9"/>
<polygon fill="#84ff00" stroke="#84ff00" points="1079.3,374.3 1101,368.8 1106.2,377.1 1084.4,382.5"/>
<polygon fill="#8aff00" stroke="#8aff00" points="1101,368.8 1122.7,363.7 1128,372 1106.2,377.1"/>
<polygon fill="#91ff00" stroke="#91ff00" points="1122.7,363.7 1144.4,358.5 1149.8,367 1128,372"/>
<polygon fill="#97ff00" stroke="#97ff00" points="1144.4,358.5 1166.1,353.5 1171.5,362.1 1149.8,367"/>
<polygon fill="#9dff00" stroke="#9dff00" points="1166.1,353.5 1187.7,348.5 1193.2,357.2 1171.5,362.1"/>
<polygon fill="#a3ff00" stroke="#a3ff00" points="1187.7,348.5 1209.3,343.4 1214.9,352.3 1193.2,357.2"/>
<polygon fill="#a9ff00" stroke="#a9ff00" points="1209.3,343.4 1230.9,338.4 1236.6,347.4 1214.9,352.3"/>
<polygon fill="#afff00" stroke="#afff00" points="1230.9,338.4 1252.5,333.7 1258.2,342.9 1236.6,347.4"/>
<polygon fill="#b5ff00" stroke="#b5ff00" points="1252.5,333.7 1274,329 1279.8,338.3 1258.2,342.9"/>
<polygon fill="#baff00" stroke="#baff00" points="1274,329 1295.5,324.2 1301.4,333.7 1279.8,338.3"/>
<polygon fill="#c0ff00" stroke="#c0ff00" points="1295.5,324.2 1317,319.5 1323,329.2 1301.4,333.7"/>
<polygon fill="#00ff79" stroke="#00ff79" points="443.2,575.9 465.5,568.2 468,574 445.6,581.7"/>
<polygon fill="#00ff6f" stroke="#00ff6f" points="465.5,568.2 487.8,560.4 490.4,566.4 468,574"/>
<polygon fill="#00ff65" stroke="#00ff65" points="487.8,560.4 510.1,553 512.9,559 490.4,566.4"/>
<polygon fill="#00ff5b" stroke="#00ff5b" points="510.1,553 532.4,545.6 535.3,551.7 512.9,559"/>
<polygon fill="#00ff50" stroke="#00ff50" points="532.4,545.6 554.7,537.5 557.6,543.7 535.3,551.7"/>
<polygon fill="#00ff45" stroke="#00ff45" points="554.7,537.5 576.9,529.3 580,535.6 557.6,543.7"/>
<polygon fill="#00ff3a" stroke="#00ff3a" points="576.9,529.3 599.2,521.6 602.3,528 580,535.6"/>
<polygon fill="#00ff30" stroke="#00ff30" points="599.2,521.6 621.4,513.8 624.6,520.3 602.3,528"/>
<polygon fill="#00ff25" stroke="#00ff25" points="621.4,513.8 643.6,505.8 646.9,512.4 624.6,520.3"/>
<polygon fill="#00ff1a" stroke="#00ff1a" points="643.6,505.8 665.8,497.8 669.2,504.6 646.9,512.4"/>
<polygon fill="#00ff10" stroke="#00ff10" points="665.8,497.8 688,490.9 691.5,497.7 669.2,504.6"/>
<polygon fill="#00ff07" stroke="#00ff07" points="688,490.9 710.2,483.9 713.8,490.9 691.5,497.7"/>
<polygon fill="#02ff00" stroke="#02ff00" points="710.2,483.9 732.3,477.1 736.1,484.2 713.8,490.9"/>
<polygon fill="#0aff00" stroke="#0aff00" points="732.3,477.1 754.5,470.3 758.3,477.5 736.1,484.2"/>
<polygon fill="#13ff00" stroke="#13ff00" points="754.5,470.3 776.6,464.2 780.6,471.5 758.3,477.5"/>
<polygon fill="#1bff00" stroke="#1bff00" points="776.6,464.2 798.8,458.1 802.8,465.4 780.6,471.5"/>
<polygon fill="#22ff00" stroke="#22ff00" points="798.8,458.1 820.8,452 825,459.4 802.8,465.4"/>
<polygon fill="#2aff00" stroke="#2aff00" points="820.8,452 842.9,445.9 847.1,453.3 825,459.4"/>
<polygon fill="#32ff00" stroke="#32ff00" points="842.9,445.9 865,439.8 869.3,447.3 847.1,453.3"/>
<polygon fill="#3aff00" stroke="#3aff00" points="865,439.8 887,433.7 891.4,441.3 869.3,447.3"/>
<polygon fill="#41ff00" stroke="#41ff00" points="887,433.7 909,427.6 913.5,435.3 891.4,441.3"/>
<polygon fill="#49ff00" stroke="#49ff00" points="909,427.6 931,421.6 935.6,429.4 913.5,435.3"/>
<polygon fill="#51ff00" stroke="#51ff00" points="931,421.6 953,415.8 957.7,423.7 935.6,429.4"/>
<polygon fill="#58ff00" stroke="#58ff00" points="953,415.8 975,410 979.7,418 957.7,423.7"/>
<polygon fill="#5fff00" stroke="#5fff00" points="975,410 996.9,404.4 1001.7,412.5 979.7,418"/>
<polygon fill="#66ff00" stroke="#66ff00" points="996.9,404.4 1018.8,398.8 1023.7,407 1001.7,412.5"/>
<polygon fill="#6dff00" stroke="#6dff00" points="1018.8,398.8 1040.7,393.3 1045.7,401.6 1023.7,407"/>
<polygon fill="#74ff00" stroke="#74ff00" points="1040.7,393.3 1062.6,387.9 1067.7,396.3 1045.7,401.6"/>
<polygon fill="#7aff00" stroke="#7aff00" points="1062.6,387.9 1084.4,382.5 1089.6,391.1 1067.7,396.3"/>
<polygon fill="#81ff00" stroke="#81ff00" points="1084.4,382.5 1106.2,377.1 1111.5,385.8 1089.6,391.1"/>
<polygon fill="#87ff00" stroke="#87ff00" points="1106.2,377.1 1128,372 1133.3,380.9 1111.5,385.8"/>
<polygon fill="#8dff00" stroke="#8dff00" points="1128,372 1149.8,367 1155.2,376 1133.3,380.9"/>
<polygon fill="#93ff00" stroke="#93ff00" points="1149.8,367 1171.5,362.1 1177,371.2 1155.2,376"/>
<polygon fill="#99ff00" stroke="#99ff00" points="1171.5,362.1 1193.2,357.2 1198.8,366.4 1177,371.2"/>
<polygon fill="#9fff00" stroke="#9fff00" points="1193.2,357.2 1214.9,352.3 1220.6,361.6 1198.8,366.4"/>
<polygon fill="#a5ff00" stroke="#a5ff00" points="1214.9,352.3 1236.6,347.4 1242.3,356.9 1220.6,361.6"/>
<polygon fill="#abff00" stroke="#abff00" points="1236.6,347.4 1258.2,342.9 1264,352.4 1242.3,356.9"/>
<polygon fill="#b0ff00" stroke="#b0ff00" points="1258.2,342.9 1279.8,338.3 1285.7,348 1264,352.4"/>
<polygon fill="#b5ff00" stroke="#b5ff00" points="1279.8,338.3 1301.4,333.7 1307.4,343.6 1285.7,348"/>
<polygon fill="#baff00" stroke="#baff00" points="1301.4,333.7 1323,329.2 1329,339.2 1307.4,343.6"/>
<polygon fill="#00ff76" stroke="#00ff76" points="445.6,581.7 468,574 470.5,579.9 448,587.4"/>
<polygon fill="#00ff6b" stroke="#00ff6b" points="468,574 490.4,566.4 493.1,572.3 470.5,579.9"/>
<polygon fill="#00ff62" stroke="#00ff62" points="490.4,566.4 512.9,559 515.6,565 493.1,572.3"/>
<polygon fill="#00ff58" stroke="#00ff58" points="512.9,559 535.3,551.7 538.1,557.8 515.6,565"/>
<polygon fill="#00ff4e" stroke="#00ff4e" points="535.3,551.7 557.6,543.7 560.6,549.9 538.1,557.8"/>
<polygon fill="#00ff43" stroke="#00ff43" points="557.6,543.7 580,535.6 583,541.9 560.6,549.9"/>
<polygon fill="#00ff38" stroke="#00ff38" points="580,535.6 602.3,528 605.4,534.4 583,541.9"/>
<polygon fill="#00ff2e" stroke="#00ff2e" points="602.3,528 624.6,520.3 627.9,526.8 605.4,534.4"/>
<polygon fill="#00ff24" stroke="#00ff24" points="624.6,520.3 646.9,512.4 650.3,519.1 627.9,526.8"/>
<polygon fill="#00ff19" stroke="#00ff19" points="646.9,512.4 669.2,504.6 672.7,511.3 650.3,519.1"/>
<polygon fill="#00ff0f" stroke="#00ff0f" points="669.2,504.6 691.5,497.7 695.1,504.6 672.7,511.3"/>
<polygon fill="#00ff06" stroke="#00ff06" points="691.5,497.7 713.8,490.9 717.5,497.9 695.1,504.6"/>
<polygon fill="#02ff00" stroke="#02ff00" points="713.8,490.9 736.1,484.2 739.8,491.3 717.5,497.9"/>
<polygon fill="#0bff00" stroke="#0bff00" points="736.1,484.2 758.3,477.5 762.2,484.7 739.8,491.3"/>
<polygon fill="#13ff00" stroke="#13ff00" points="758.3,477.5 780.6,471.5 784.5,478.7 762.2,484.7"/>
<polygon fill="#1bff00" stroke="#1bff00" points="780.6,471.5 802.8,465.4 806.8,472.8 784.5,478.7"/>
<polygon fill="#22ff00" stroke="#22ff00" points="802.8,465.4 825,459.4 829.1,466.8 806.8,472.8"/>
<polygon fill="#2aff00" stroke="#2aff00" points="825,459.4 847.1,453.3 851.3,460.8 829.1,466.8"/>
<polygon fill="#31ff00" stroke="#31ff00" points="847.1,453.3 869.3,447.3 873.6,454.9 851.3,460.8"/>
<polygon fill="#39ff00" stroke="#39ff00" points="869.3,447.3 891.4,441.3 895.8,448.9 873.6,454.9"/>
<polygon fill="#41ff00" stroke="#41ff00" points="891.4,441.3 913.5,435.3 918,443.1 895.8,448.9"/>
<polygon fill="#48ff00" stroke="#48ff00" points="913.5,435.3 935.6,429.4 940.2,437.2 918,443.1"/>
<polygon fill="#4fff00" stroke="#4fff00" points="935.6,429.4 957.7,423.7 962.3,431.6 940.2,437.2"/>
<polygon fill="#57ff00" stroke="#57ff00" points="957.7,423.7 979.7,418 984.5,425.9 962.3,431.6"/>
<polygon fill="#5eff00" stroke="#5eff00" points="979.7,418 1001.7,412.5 1006.6,420.6 984.5,425.9"/>
<polygon fill="#64ff00" stroke="#64ff00" points="1001.7,412.5 1023.7,407 1028.7,415.2 1006.6,420.6"/>
<polygon fill="#6bff00" stroke="#6bff00" points="1023.7,407 1045.7,401.6 1050.7,410 1028.7,415.2"/>
<polygon fill="#71ff00" stroke="#71ff00" points="1045.7,401.6 1067.7,396.3 1072.8,404.8 1050.7,410"/>
<polygon fill="#78ff00" stroke="#78ff00" points="1067.7,396.3 1089.6,391.1 1094.8,399.6 1072.8,404.8"/>
<polygon fill="#7eff00" stroke="#7eff00" points="1089.6,391.1 1111.5,385.8 1116.8,394.5 1094.8,399.6"/>
<polygon fill="#84ff00" stroke="#84ff00" points="1111.5,385.8 1133.3,380.9 1138.7,389.7 1116.8,394.5"/>
<polygon fill="#8aff00" stroke="#8aff00" points="1133.3,380.9 1155.2,376 1160.6,384.9 1138.7,389.7"/>
<polygon fill="#90ff00" stroke="#90ff00" points="1155.2,376 1177,371.2 1182.5,380.2 1160.6,384.9"/>
<polygon fill="#95ff00" stroke="#95ff00" points="1177,371.2 1198.8,366.4 1204.4,375.5 1182.5,380.2"/>
<polygon fill="#9bff00" stroke="#9bff00" points="1198.8,366.4 1220.6,361.6 1226.3,370.9 1204.4,375.5"/>
<polygon fill="#a1ff00" stroke="#a1ff00" points="1220.6,361.6 1242.3,356.9 1248.1,366.3 1226.3,370.9"/>
<polygon fill="#a6ff00" stroke="#a6ff00" points="1242.3,356.9 1264,352.4 1269.9,362 1248.1,366.3"/>
<polygon fill="#abff00" stroke="#abff00" points="1264,352.4 1285.7,348 1291.6,357.7 1269.9,362"/>
<polygon fill="#b0ff00" stroke="#b0ff00" points="1285.7,348 1307.4,343.6 1313.4,353.5 1291.6,357.7"/>
<polygon fill="#b5ff00" stroke="#b5ff00" points="1307.4,343.6 1329,339.2 1335.1,349.2 1313.4,353.5"/>
<polygon fill="#00ff73" stroke="#00ff73" points="448,587.4 470.5,579.9 473.1,586.3 450.5,593.9"/>
<polygon fill="#00ff69" stroke="#00ff69" points="470.5,579.9 493.1,572.3 495.8,578.7 473.1,586.3"/>
<polygon fill="#00ff5f" stroke="#00ff5f" points="493.1,572.3 515.6,565 518.4,571.5 495.8,578.7"/>
<polygon fill="#00ff55" stroke="#00ff55" points="515.6,565 538.1,557.8 541,564.3 518.4,571.5"/>
<polygon fill="#00ff4b" stroke="#00ff4b" points="538.1,557.8 560.6,549.9 563.6,556.5 541,564.3"/>
<polygon fill="#00ff41" stroke="#00ff41" points="560.6,549.9 583,541.9 586.1,548.6 563.6,556.5"/>
<polygon fill="#00ff36" stroke="#00ff36" points="583,541.9 605.4,534.4 608.6,541.2 586.1,548.6"/>
<polygon fill="#00ff2c" stroke="#00ff2c" points="605.4,534.4 627.9,526.8 631.2,533.8 608.6,541.2"/>
<polygon fill="#00ff22" stroke="#00ff22" points="627.9,526.8 650.3,519.1 653.7,526.2 631.2,533.8"/>
<polygon fill="#00ff18" stroke="#00ff18" points="650.3,519.1 672.7,511.3 676.2,518.6 653.7,526.2"/>
<polygon fill="#00ff0e" stroke="#00ff0e" points="672.7,511.3 695.1,504.6 698.7,512 676.2,518.6"/>
<polygon fill="#00ff06" stroke="#00ff06" points="695.1,504.6 717.5,497.9 721.2,505.4 698.7,512"/>
<polygon fill="#03ff00" stroke="#03ff00" points="717.5,497.9 739.8,491.3 743.6,498.8 721.2,505.4"/>
<polygon fill="#0bff00" stroke="#0bff00" points="739.8,491.3 762.2,484.7 766.1,492.3 743.6,498.8"/>
<polygon fill="#13ff00" stroke="#13ff00" points="762.2,484.7 784.5,478.7 788.5,486.4 766.1,492.3"/>
<polygon fill="#1aff00" stroke="#1aff00" points="784.5,478.7 806.8,472.8 810.9,480.5 788.5,486.4"/>
<polygon fill="#22ff00" stroke="#22ff00" points="806.8,472.8 829.1,466.8 833.2,474.6 810.9,480.5"/>
<polygon fill="#29ff00" stroke="#29ff00" points="829.1,466.8 851.3,460.8 855.6,468.8 833.2,474.6"/>
<polygon fill="#31ff00" stroke="#31ff00" points="851.3,460.8 873.6,454.9 877.9,462.9 855.6,468.8"/>
<polygon fill="#38ff00" stroke="#38ff00" points="873.6,454.9 895.8,448.9 900.3,457 877.9,462.9"/>
<polygon fill="#40ff00" stroke="#40ff00" points="895.8,448.9 918,443.1 922.5,451.2 900.3,457"/>
<polygon fill="#47ff00" stroke="#47ff00" points="918,443.1 940.2,437.2 944.8,445.5 922.5,451.2"/>
<polygon fill="#4eff00" stroke="#4eff00" points="940.2,437.2 962.3,431.6 967.1,439.9 944.8,445.5"/>
<polygon fill="#55ff00" stroke="#55ff00" points="962.3,431.6 984.5,425.9 989.3,434.3 967.1,439.9"/>
<polygon fill="#5cff00" stroke="#5cff00" points="984.5,425.9 1006.6,420.6 1011.5,429 989.3,434.3"/>
<polygon fill="#62ff00" stroke="#62ff00" points="1006.6,420.6 1028.7,415.2 1033.7,423.7 1011.5,429"/>
<polygon fill="#69ff00" stroke="#69ff00" points="1028.7,415.2 1050.7,410 1055.8,418.6 1033.7,423.7"/>
<polygon fill="#6fff00" stroke="#6fff00" points="1050.7,410 1072.8,404.8 1077.9,413.5 1055.8,418.6"/>
<polygon fill="#75ff00" stroke="#75ff00" points="1072.8,404.8 1094.8,399.6 1100,408.5 1077.9,413.5"/>
<polygon fill="#7bff00" stroke="#7bff00" points="1094.8,399.6 1116.8,394.5 1122.1,403.5 1100,408.5"/>
<polygon fill="#81ff00" stroke="#81ff00" points="1116.8,394.5 1138.7,389.7 1144.1,398.8 1122.1,403.5"/>
<polygon fill="#87ff00" stroke="#87ff00" points="1138.7,389.7 1160.6,384.9 1166.2,394.1 1144.1,398.8"/>
<polygon fill="#8cff00" stroke="#8cff00" points="1160.6,384.9 1182.5,380.2 1188.1,389.5 1166.2,394.1"/>
<polygon fill="#92ff00" stroke="#92ff00" points="1182.5,380.2 1204.4,375.5 1210.1,385 1188.1,389.5"/>
<polygon fill="#97ff00" stroke="#97ff00" points="1204.4,375.5 1226.3,370.9 1232,380.5 1210.1,385"/>
<polygon fill="#9cff00" stroke="#9cff00" points="1226.3,370.9 1248.1,366.3 1253.9,376 1232,380.5"/>
<polygon fill="#a1ff00" stroke="#a1ff00" points="1248.1,366.3 1269.9,362 1275.8,371.9 1253.9,376"/>
<polygon fill="#a6ff00" stroke="#a6ff00" points="1269.9,362 1291.6,357.7 1297.6,367.7 1275.8,371.9"/>
<polygon fill="#abff00" stroke="#abff00" points="1291.6,357.7 1313.4,353.5 1319.5,363.5 1297.6,367.7"/>
<polygon fill="#b0ff00" stroke="#b0ff00" points="1313.4,353.5 1335.1,349.2 1341.3,359.2 1319.5,363.5"/>
<polygon fill="#00ff70" stroke="#00ff70" points="450.5,593.9 473.1,586.3 475.7,592.8 453,600.4"/>
<polygon fill="#00ff66" stroke="#00ff66" points="473.1,586.3 495.8,578.7 498.5,585.2 475.7,592.8"/>
<polygon fill="#00ff5d" stroke="#00ff5d" points="495.8,578.7 518.4,571.5 521.2,578 498.5,585.2"/>
<polygon fill="#00ff53" stroke="#00ff53" points="518.4,571.5 541,564.3 543.9,570.8 521.2,578"/>
<polygon fill="#00ff49" stroke="#00ff49" points="541,564.3 563.6,556.5 566.6,563.1 543.9,570.8"/>
<polygon fill="#00ff3f" stroke="#00ff3f" points="563.6,556.5 586.1,548.6 589.2,555.4 566.6,563.1"/>
<polygon fill="#00ff35" stroke="#00ff35" points="586.1,548.6 608.6,541.2 611.9,548.1 589.2,555.4"/>
<polygon fill="#00ff2b" stroke="#00ff2b" points="608.6,541.2 631.2,533.8 634.5,540.8 611.9,548.1"/>
<polygon fill="#00ff21" stroke="#00ff21" points="631.2,533.8 653.7,526.2 657.1,533.3 634.5,540.8"/>
<polygon fill="#00ff17" stroke="#00ff17" points="653.7,526.2 676.2,518.6 679.7,525.8 657.1,533.3"/>
<polygon fill="#00ff0e" stroke="#00ff0e" points="676.2,518.6 698.7,512 702.3,519.3 679.7,525.8"/>
<polygon fill="#00ff06" stroke="#00ff06" points="698.7,512 721.2,505.4 724.9,512.8 702.3,519.3"/>
<polygon fill="#03ff00" stroke="#03ff00" points="721.2,505.4 743.6,498.8 747.4,506.4 724.9,512.8"/>
<polygon fill="#0bff00" stroke="#0bff00" points="743.6,498.8 766.1,492.3 770,499.9 747.4,506.4"/>
<polygon fill="#13ff00" stroke="#13ff00" points="766.1,492.3 788.5,486.4 792.5,494.1 770,499.9"/>
<polygon fill="#1aff00" stroke="#1aff00" points="788.5,486.4 810.9,480.5 815,488.3 792.5,494.1"/>
<polygon fill="#21ff00" stroke="#21ff00" points="810.9,480.5 833.2,474.6 837.4,482.5 815,488.3"/>
<polygon fill="#29ff00" stroke="#29ff00" points="833.2,474.6 855.6,468.8 859.9,476.7 837.4,482.5"/>
<polygon fill="#30ff00" stroke="#30ff00" points="855.6,468.8 877.9,462.9 882.3,470.9 859.9,476.7"/>
<polygon fill="#37ff00" stroke="#37ff00" points="877.9,462.9 900.3,457 904.7,465 882.3,470.9"/>
<polygon fill="#3eff00" stroke="#3eff00" points="900.3,457 922.5,451.2 927.1,459.4 904.7,465"/>
<polygon fill="#45ff00" stroke="#45ff00" points="922.5,451.2 944.8,445.5 949.5,453.7 927.1,459.4"/>
<polygon fill="#4cff00" stroke="#4cff00" points="944.8,445.5 967.1,439.9 971.8,448.2 949.5,453.7"/>
<polygon fill="#53ff00" stroke="#53ff00" points="967.1,439.9 989.3,434.3 994.1,442.7 971.8,448.2"/>
<polygon fill="#5aff00" stroke="#5aff00" points="989.3,434.3 1011.5,429 1016.4,437.5 994.1,442.7"/>
<polygon fill="#60ff00" stroke="#60ff00" points="1011.5,429 1033.7,423.7 1038.7,432.3 1016.4,437.5"/>
<polygon fill="#66ff00" stroke="#66ff00" points="1033.7,423.7 1055.8,418.6 1060.9,427.3 1038.7,432.3"/>
<polygon fill="#6cff00" stroke="#6cff00" points="1055.8,418.6 1077.9,413.5 1083.1,422.3 1060.9,427.3"/>
<polygon fill="#72ff00" stroke="#72ff00" points="1077.9,413.5 1100,408.5 1105.3,417.4 1083.1,422.3"/>
<polygon fill="#78ff00" stroke="#78ff00" points="1100,408.5 1122.1,403.5 1127.4,412.4 1105.3,417.4"/>
<polygon fill="#7eff00" stroke="#7eff00" points="1122.1,403.5 1144.1,398.8 1149.6,407.8 1127.4,412.4"/>
<polygon fill="#83ff00" stroke="#83ff00" points="1144.1,398.8 1166.2,394.1 1171.7,403.2 1149.6,407.8"/>
<polygon fill="#88ff00" stroke="#88ff00" points="1166.2,394.1 1188.1,389.5 1193.7,398.8 1171.7,403.2"/>
<polygon fill="#8eff00" stroke="#8eff00" points="1188.1,389.5 1210.1,385 1215.8,394.4 1193.7,398.8"/>
<polygon fill="#93ff00" stroke="#93ff00" points="1210.1,385 1232,380.5 1237.8,390.1 1215.8,394.4"/>
<polygon fill="#98ff00" stroke="#98ff00" points="1232,380.5 1253.9,376 1259.8,385.8 1237.8,390.1"/>
<polygon fill="#9cff00" stroke="#9cff00" points="1253.9,376 1275.8,371.9 1281.7,381.7 1259.8,385.8"/>
<polygon fill="#a1ff00" stroke="#a1ff00" points="1275.8,371.9 1297.6,367.7 1303.6,377.6 1281.7,381.7"/>
<polygon fill="#a6ff00" stroke="#a6ff00" points="1297.6,367.7 1319.5,363.5 1325.5,373.5 1303.6,377.6"/>
<polygon fill="#aaff00" stroke="#aaff00" points="1319.5,363.5 1341.3,359.2 1347.4,369.3 1325.5,373.5"/>
<polygon fill="#00ff6e" stroke="#00ff6e" points="453,600.4 475.7,592.8 478.4,599.4 455.5,607"/>
<polygon fill="#00ff64" stroke="#00ff64" points="475.7,592.8 498.5,585.2 501.2,591.8 478.4,599.4"/>
<polygon fill="#00ff5a" stroke="#00ff5a" points="498.5,585.2 521.2,578 524,584.7 501.2,591.8"/>
<polygon fill="#00ff51" stroke="#00ff51" points="521.2,578 543.9,570.8 546.8,577.6 524,584.7"/>
<polygon fill="#00ff47" stroke="#00ff47" points="543.9,570.8 566.6,563.1 569.6,570.1 546.8,577.6"/>
<polygon fill="#00ff3d" stroke="#00ff3d" points="566.6,563.1 589.2,555.4 592.4,562.6 569.6,570.1"/>
<polygon fill="#00ff33" stroke="#00ff33" points="589.2,555.4 611.9,548.1 615.1,555.4 592.4,562.6"/>
<polygon fill="#00ff2a" stroke="#00ff2a" points="611.9,548.1 634.5,540.8 637.9,548.3 615.1,555.4"/>
<polygon fill="#00ff20" stroke="#00ff20" points="634.5,540.8 657.1,533.3 660.6,541 637.9,548.3"/>
<polygon fill="#00ff17" stroke="#00ff17" points="657.1,533.3 679.7,525.8 683.3,533.7 660.6,541"/>
<polygon fill="#00ff0e" stroke="#00ff0e" points="679.7,525.8 702.3,519.3 706,527.3 683.3,533.7"/>
<polygon fill="#00ff06" stroke="#00ff06" points="702.3,519.3 724.9,512.8 728.6,520.9 706,527.3"/>
<polygon fill="#02ff00" stroke="#02ff00" points="724.9,512.8 747.4,506.4 751.3,514.5 728.6,520.9"/>
<polygon fill="#0bff00" stroke="#0bff00" points="747.4,506.4 770,499.9 773.9,508.2 751.3,514.5"/>
<polygon fill="#12ff00" stroke="#12ff00" points="770,499.9 792.5,494.1 796.5,502.4 773.9,508.2"/>
<polygon fill="#19ff00" stroke="#19ff00" points="792.5,494.1 815,488.3 819.1,496.7 796.5,502.4"/>
<polygon fill="#20ff00" stroke="#20ff00" points="815,488.3 837.4,482.5 841.7,491 819.1,496.7"/>
<polygon fill="#27ff00" stroke="#27ff00" points="837.4,482.5 859.9,476.7 864.2,485.3 841.7,491"/>
<polygon fill="#2eff00" stroke="#2eff00" points="859.9,476.7 882.3,470.9 886.8,479.5 864.2,485.3"/>
<polygon fill="#36ff00" stroke="#36ff00" points="882.3,470.9 904.7,465 909.3,473.8 886.8,479.5"/>
<polygon fill="#3dff00" stroke="#3dff00" points="904.7,465 927.1,459.4 931.7,468.2 909.3,473.8"/>
<polygon fill="#43ff00" stroke="#43ff00" points="927.1,459.4 949.5,453.7 954.2,462.6 931.7,468.2"/>
<polygon fill="#4aff00" stroke="#4aff00" points="949.5,453.7 971.8,448.2 976.6,457.1 954.2,462.6"/>
<polygon fill="#51ff00" stroke="#51ff00" points="971.8,448.2 994.1,442.7 999,451.7 976.6,457.1"/>
<polygon fill="#57ff00" stroke="#57ff00" points="994.1,442.7 1016.4,437.5 1021.4,446.6 999,451.7"/>
<polygon fill="#5dff00" stroke="#5dff00" points="1016.4,437.5 1038.7,432.3 1043.7,441.5 1021.4,446.6"/>
<polygon fill="#63ff00" stroke="#63ff00" points="1038.7,432.3 1060.9,427.3 1066.1,436.6 1043.7,441.5"/>
<polygon fill="#69ff00" stroke="#69ff00" points="1060.9,427.3 1083.1,422.3 1088.4,431.7 1066.1,436.6"/>
<polygon fill="#6fff00" stroke="#6fff00" points="1083.1,422.3 1105.3,417.4 1110.6,426.8 1088.4,431.7"/>
<polygon fill="#75ff00" stroke="#75ff00" points="1105.3,417.4 1127.4,412.4 1132.9,422 1110.6,426.8"/>
<polygon fill="#7aff00" stroke="#7aff00" points="1127.4,412.4 1149.6,407.8 1155.1,417.5 1132.9,422"/>
<polygon fill="#7fff00" stroke="#7fff00" points="1149.6,407.8 1171.7,403.2 1177.3,413 1155.1,417.5"/>
<polygon fill="#84ff00" stroke="#84ff00" points="1171.7,403.2 1193.7,398.8 1199.4,408.8 1177.3,413"/>
<polygon fill="#89ff00" stroke="#89ff00" points="1193.7,398.8 1215.8,394.4 1221.5,404.6 1199.4,408.8"/>
<polygon fill="#8eff00" stroke="#8eff00" points="1215.8,394.4 1237.8,390.1 1243.6,400.4 1221.5,404.6"/>
<polygon fill="#93ff00" stroke="#93ff00" points="1237.8,390.1 1259.8,385.8 1265.7,396.3 1243.6,400.4"/>
<polygon fill="#97ff00" stroke="#97ff00" points="1259.8,385.8 1281.7,381.7 1287.7,392.3 1265.7,396.3"/>
<polygon fill="#9bff00" stroke="#9bff00" points="1281.7,381.7 1303.6,377.6 1309.7,388.4 1287.7,392.3"/>
<polygon fill="#a0ff00" stroke="#a0ff00" points="1303.6,377.6 1325.5,373.5 1331.7,384.5 1309.7,388.4"/>
<polygon fill="#a4ff00" stroke="#a4ff00" points="1325.5,373.5 1347.4,369.3 1353.6,380.6 1331.7,384.5"/>
<polygon fill="#00ff6b" stroke="#00ff6b" points="455.5,607 478.4,599.4 481,606 458.1,613.5"/>
<polygon fill="#00ff61" stroke="#00ff61" points="478.4,599.4 501.2,591.8 504,598.4 481,606"/>
<polygon fill="#00ff58" stroke="#00ff58" points="501.2,591.8 524,584.7 526.9,591.5 504,598.4"/>
<polygon fill="#00ff4f" stroke="#00ff4f" points="524,584.7 546.8,577.6 549.8,584.5 526.9,591.5"/>
<polygon fill="#00ff46" stroke="#00ff46" points="546.8,577.6 569.6,570.1 572.7,577.1 549.8,584.5"/>
<polygon fill="#00ff3c" stroke="#00ff3c" points="569.6,570.1 592.4,562.6 595.5,569.7 572.7,577.1"/>
<polygon fill="#00ff32" stroke="#00ff32" points="592.4,562.6 615.1,555.4 618.4,562.8 595.5,569.7"/>
<polygon fill="#00ff29" stroke="#00ff29" points="615.1,555.4 637.9,548.3 641.2,555.9 618.4,562.8"/>
<polygon fill="#00ff20" stroke="#00ff20" points="637.9,548.3 660.6,541 664.1,548.7 641.2,555.9"/>
<polygon fill="#00ff17" stroke="#00ff17" points="660.6,541 683.3,533.7 686.9,541.5 664.1,548.7"/>
<polygon fill="#00ff0e" stroke="#00ff0e" points="683.3,533.7 706,527.3 709.6,535.2 686.9,541.5"/>
<polygon fill="#00ff06" stroke="#00ff06" points="706,527.3 728.6,520.9 732.4,528.9 709.6,535.2"/>
<polygon fill="#02ff00" stroke="#02ff00" points="728.6,520.9 751.3,514.5 755.2,522.7 732.4,528.9"/>
<polygon fill="#0aff00" stroke="#0aff00" points="751.3,514.5 773.9,508.2 777.9,516.4 755.2,522.7"/>
<polygon fill="#11ff00" stroke="#11ff00" points="773.9,508.2 796.5,502.4 800.6,510.7 777.9,516.4"/>
<polygon fill="#18ff00" stroke="#18ff00" points="796.5,502.4 819.1,496.7 823.3,505.1 800.6,510.7"/>
<polygon fill="#1fff00" stroke="#1fff00" points="819.1,496.7 841.7,491 845.9,499.5 823.3,505.1"/>
<polygon fill="#26ff00" stroke="#26ff00" points="841.7,491 864.2,485.3 868.6,493.8 845.9,499.5"/>
<polygon fill="#2dff00" stroke="#2dff00" points="864.2,485.3 886.8,479.5 891.2,488.2 868.6,493.8"/>
<polygon fill="#34ff00" stroke="#34ff00" points="886.8,479.5 909.3,473.8 913.8,482.5 891.2,488.2"/>
<polygon fill="#3aff00" stroke="#3aff00" points="909.3,473.8 931.7,468.2 936.4,477 913.8,482.5"/>
<polygon fill="#41ff00" stroke="#41ff00" points="931.7,468.2 954.2,462.6 958.9,471.4 936.4,477"/>
<polygon fill="#48ff00" stroke="#48ff00" points="954.2,462.6 976.6,457.1 981.4,466.1 958.9,471.4"/>
<polygon fill="#4eff00" stroke="#4eff00" points="976.6,457.1 999,451.7 1003.9,460.7 981.4,466.1"/>
<polygon fill="#54ff00" stroke="#54ff00" points="999,451.7 1021.4,446.6 1026.4,455.7 1003.9,460.7"/>
<polygon fill="#5aff00" stroke="#5aff00" points="1021.4,446.6 1043.7,441.5 1048.8,450.6 1026.4,455.7"/>
<polygon fill="#60ff00" stroke="#60ff00" points="1043.7,441.5 1066.1,436.6 1071.2,445.8 1048.8,450.6"/>
<polygon fill="#66ff00" stroke="#66ff00" points="1066.1,436.6 1088.4,431.7 1093.6,441 1071.2,445.8"/>
<polygon fill="#6bff00" stroke="#6bff00" points="1088.4,431.7 1110.6,426.8 1116,436.3 1093.6,441"/>
<polygon fill="#71ff00" stroke="#71ff00" points="1110.6,426.8 1132.9,422 1138.3,431.5 1116,436.3"/>
<polygon fill="#76ff00" stroke="#76ff00" points="1132.9,422 1155.1,417.5 1160.6,427.2 1138.3,431.5"/>
<polygon fill="#7bff00" stroke="#7bff00" points="1155.1,417.5 1177.3,413 1182.9,422.8 1160.6,427.2"/>
<polygon fill="#80ff00" stroke="#80ff00" points="1177.3,413 1199.4,408.8 1205.1,418.7 1182.9,422.8"/>
<polygon fill="#84ff00" stroke="#84ff00" points="1199.4,408.8 1221.5,404.6 1227.3,414.7 1205.1,418.7"/>
<polygon fill="#89ff00" stroke="#89ff00" points="1221.5,404.6 1243.6,400.4 1249.5,410.7 1227.3,414.7"/>
<polygon fill="#8dff00" stroke="#8dff00" points="1243.6,400.4 1265.7,396.3 1271.6,406.7 1249.5,410.7"/>
<polygon fill="#91ff00" stroke="#91ff00" points="1265.7,396.3 1287.7,392.3 1293.7,402.9 1271.6,406.7"/>
<polygon fill="#95ff00" stroke="#95ff00" points="1287.7,392.3 1309.7,388.4 1315.8,399.1 1293.7,402.9"/>
<polygon fill="#99ff00" stroke="#99ff00" points="1309.7,388.4 1331.7,384.5 1337.8,395.5 1315.8,399.1"/>
<polygon fill="#9dff00" stroke="#9dff00" points="1331.7,384.5 1353.6,380.6 1359.9,391.8 1337.8,395.5"/>
<polygon fill="#00ff69" stroke="#00ff69" points="458.1,613.5 481,606 483.7,613 460.7,620.5"/>
<polygon fill="#00ff5f" stroke="#00ff5f" points="481,606 504,598.4 506.8,605.5 483.7,613"/>
<polygon fill="#00ff56" stroke="#00ff56" points="504,598.4 526.9,591.5 529.8,598.7 506.8,605.5"/>
<polygon fill="#00ff4d" stroke="#00ff4d" points="526.9,591.5 549.8,584.5 552.8,591.8 529.8,598.7"/>
<polygon fill="#00ff44" stroke="#00ff44" points="549.8,584.5 572.7,577.1 575.8,584.6 552.8,591.8"/>
<polygon fill="#00ff3b" stroke="#00ff3b" points="572.7,577.1 595.5,569.7 598.8,577.4 575.8,584.6"/>
<polygon fill="#00ff32" stroke="#00ff32" points="595.5,569.7 618.4,562.8 621.7,570.6 598.8,577.4"/>
<polygon fill="#00ff29" stroke="#00ff29" points="618.4,562.8 641.2,555.9 644.7,563.8 621.7,570.6"/>
<polygon fill="#00ff20" stroke="#00ff20" points="641.2,555.9 664.1,548.7 667.6,556.8 644.7,563.8"/>
<polygon fill="#00ff17" stroke="#00ff17" points="664.1,548.7 686.9,541.5 690.5,549.7 667.6,556.8"/>
<polygon fill="#00ff0e" stroke="#00ff0e" points="686.9,541.5 709.6,535.2 713.4,543.6 690.5,549.7"/>
<polygon fill="#00ff07" stroke="#00ff07" points="709.6,535.2 732.4,528.9 736.3,537.4 713.4,543.6"/>
<polygon fill="#01ff00" stroke="#01ff00" points="732.4,528.9 755.2,522.7 759.1,531.2 736.3,537.4"/>
<polygon fill="#09ff00" stroke="#09ff00" points="755.2,522.7 777.9,516.4 781.9,525 759.1,531.2"/>
<polygon fill="#10ff00" stroke="#10ff00" points="777.9,516.4 800.6,510.7 804.7,519.4 781.9,525"/>
<polygon fill="#17ff00" stroke="#17ff00" points="800.6,510.7 823.3,505.1 827.5,513.8 804.7,519.4"/>
<polygon fill="#1dff00" stroke="#1dff00" points="823.3,505.1 845.9,499.5 850.3,508.3 827.5,513.8"/>
<polygon fill="#24ff00" stroke="#24ff00" points="845.9,499.5 868.6,493.8 873,502.8 850.3,508.3"/>
<polygon fill="#2bff00" stroke="#2bff00" points="868.6,493.8 891.2,488.2 895.7,497.2 873,502.8"/>
<polygon fill="#31ff00" stroke="#31ff00" points="891.2,488.2 913.8,482.5 918.4,491.5 895.7,497.2"/>
<polygon fill="#38ff00" stroke="#38ff00" points="913.8,482.5 936.4,477 941.1,486.1 918.4,491.5"/>
<polygon fill="#3fff00" stroke="#3fff00" points="936.4,477 958.9,471.4 963.7,480.6 941.1,486.1"/>
<polygon fill="#45ff00" stroke="#45ff00" points="958.9,471.4 981.4,466.1 986.3,475.3 963.7,480.6"/>
<polygon fill="#4bff00" stroke="#4bff00" points="981.4,466.1 1003.9,460.7 1008.9,470 986.3,475.3"/>
<polygon fill="#52ff00" stroke="#52ff00" points="1003.9,460.7 1026.4,455.7 1031.4,465 1008.9,470"/>
<polygon fill="#57ff00" stroke="#57ff00" points="1026.4,455.7 1048.8,450.6 1054,460.1 1031.4,465"/>
<polygon fill="#5dff00" stroke="#5dff00" points="1048.8,450.6 1071.2,445.8 1076.5,455.4 1054,460.1"/>
<polygon fill="#62ff00" stroke="#62ff00" points="1071.2,445.8 1093.6,441 1099,450.6 1076.5,455.4"/>
<polygon fill="#68ff00" stroke="#68ff00" points="1093.6,441 1116,436.3 1121.4,446 1099,450.6"/>
<polygon fill="#6dff00" stroke="#6dff00" points="1116,436.3 1138.3,431.5 1143.8,441.3 1121.4,446"/>
<polygon fill="#72ff00" stroke="#72ff00" points="1138.3,431.5 1160.6,427.2 1166.2,437.1 1143.8,441.3"/>
<polygon fill="#77ff00" stroke="#77ff00" points="1160.6,427.2 1182.9,422.8 1188.6,432.8 1166.2,437.1"/>
<polygon fill="#7bff00" stroke="#7bff00" points="1182.9,422.8 1205.1,418.7 1210.9,428.9 1188.6,432.8"/>
<polygon fill="#7fff00" stroke="#7fff00" points="1205.1,418.7 1227.3,414.7 1233.2,425 1210.9,428.9"/>
<polygon fill="#84ff00" stroke="#84ff00" points="1227.3,414.7 1249.5,410.7 1255.4,421.1 1233.2,425"/>
<polygon fill="#88ff00" stroke="#88ff00" points="1249.5,410.7 1271.6,406.7 1277.6,417.3 1255.4,421.1"/>
<polygon fill="#8cff00" stroke="#8cff00" points="1271.6,406.7 1293.7,402.9 1299.8,413.7 1277.6,417.3"/>
<polygon fill="#8fff00" stroke="#8fff00" points="1293.7,402.9 1315.8,399.1 1322,410.1 1299.8,413.7"/>
<polygon fill="#93ff00" stroke="#93ff00" points="1315.8,399.1 1337.8,395.5 1344.1,406.6 1322,410.1"/>
<polygon fill="#97ff00" stroke="#97ff00" points="1337.8,395.5 1359.9,391.8 1366.2,403.2 1344.1,406.6"/>
<polygon fill="#00ff67" stroke="#00ff67" points="460.7,620.5 483.7,613 486.4,620 463.3,627.4"/>
<polygon fill="#00ff5d" stroke="#00ff5d" points="483.7,613 506.8,605.5 509.6,612.6 486.4,620"/>
<polygon fill="#00ff54" stroke="#00ff54" points="506.8,605.5 529.8,598.7 532.7,605.9 509.6,612.6"/>
<polygon fill="#00ff4c" stroke="#00ff4c" points="529.8,598.7 552.8,591.8 555.8,599.2 532.7,605.9"/>
<polygon fill="#00ff43" stroke="#00ff43" points="552.8,591.8 575.8,584.6 578.9,592.1 555.8,599.2"/>
<polygon fill="#00ff3a" stroke="#00ff3a" points="575.8,584.6 598.8,577.4 602,585 578.9,592.1"/>
<polygon fill="#00ff31" stroke="#00ff31" points="598.8,577.4 621.7,570.6 625.1,578.4 602,585"/>
<polygon fill="#00ff29" stroke="#00ff29" points="621.7,570.6 644.7,563.8 648.1,571.7 625.1,578.4"/>
<polygon fill="#00ff20" stroke="#00ff20" points="644.7,563.8 667.6,556.8 671.1,564.8 648.1,571.7"/>
<polygon fill="#00ff17" stroke="#00ff17" points="667.6,556.8 690.5,549.7 694.1,558 671.1,564.8"/>
<polygon fill="#00ff0f" stroke="#00ff0f" points="690.5,549.7 713.4,543.6 717.1,551.9 694.1,558"/>
<polygon fill="#00ff08" stroke="#00ff08" points="713.4,543.6 736.3,537.4 740.1,545.8 717.1,551.9"/>
<polygon fill="#00ff00" stroke="#00ff00" points="736.3,537.4 759.1,531.2 763,539.7 740.1,545.8"/>
<polygon fill="#07ff00" stroke="#07ff00" points="759.1,531.2 781.9,525 786,533.6 763,539.7"/>
<polygon fill="#0eff00" stroke="#0eff00" points="781.9,525 804.7,519.4 808.9,528.1 786,533.6"/>
<polygon fill="#15ff00" stroke="#15ff00" points="804.7,519.4 827.5,513.8 831.8,522.6 808.9,528.1"/>
<polygon fill="#1bff00" stroke="#1bff00" points="827.5,513.8 850.3,508.3 854.6,517.2 831.8,522.6"/>
<polygon fill="#22ff00" stroke="#22ff00" points="850.3,508.3 873,502.8 877.4,511.7 854.6,517.2"/>
<polygon fill="#28ff00" stroke="#28ff00" points="873,502.8 895.7,497.2 900.2,506.1 877.4,511.7"/>
<polygon fill="#2fff00" stroke="#2fff00" points="895.7,497.2 918.4,491.5 923,500.6 900.2,506.1"/>
<polygon fill="#36ff00" stroke="#36ff00" points="918.4,491.5 941.1,486.1 945.8,495.2 923,500.6"/>
<polygon fill="#3cff00" stroke="#3cff00" points="941.1,486.1 963.7,480.6 968.5,489.8 945.8,495.2"/>
<polygon fill="#42ff00" stroke="#42ff00" points="963.7,480.6 986.3,475.3 991.2,484.5 968.5,489.8"/>
<polygon fill="#49ff00" stroke="#49ff00" points="986.3,475.3 1008.9,470 1013.9,479.3 991.2,484.5"/>
<polygon fill="#4fff00" stroke="#4fff00" points="1008.9,470 1031.4,465 1036.5,474.4 1013.9,479.3"/>
<polygon fill="#54ff00" stroke="#54ff00" points="1031.4,465 1054,460.1 1059.2,469.6 1036.5,474.4"/>
<polygon fill="#5aff00" stroke="#5aff00" points="1054,460.1 1076.5,455.4 1081.7,464.9 1059.2,469.6"/>
<polygon fill="#5fff00" stroke="#5fff00" points="1076.5,455.4 1099,450.6 1104.3,460.3 1081.7,464.9"/>
<polygon fill="#64ff00" stroke="#64ff00" points="1099,450.6 1121.4,446 1126.8,455.7 1104.3,460.3"/>
<polygon fill="#69ff00" stroke="#69ff00" points="1121.4,446 1143.8,441.3 1149.3,451.2 1126.8,455.7"/>
<polygon fill="#6eff00" stroke="#6eff00" points="1143.8,441.3 1166.2,437.1 1171.8,447 1149.3,451.2"/>
<polygon fill="#72ff00" stroke="#72ff00" points="1166.2,437.1 1188.6,432.8 1194.2,442.9 1171.8,447"/>
<polygon fill="#77ff00" stroke="#77ff00" points="1188.6,432.8 1210.9,428.9 1216.6,439.1 1194.2,442.9"/>
<polygon fill="#7bff00" stroke="#7bff00" points="1210.9,428.9 1233.2,425 1239,435.3 1216.6,439.1"/>
<polygon fill="#7eff00" stroke="#7eff00" points="1233.2,425 1255.4,421.1 1261.3,431.5 1239,435.3"/>
<polygon fill="#82ff00" stroke="#82ff00" points="1255.4,421.1 1277.6,417.3 1283.6,427.8 1261.3,431.5"/>
<polygon fill="#86ff00" stroke="#86ff00" points="1277.6,417.3 1299.8,413.7 1305.9,424.4 1283.6,427.8"/>
<polygon fill="#89ff00" stroke="#89ff00" points="1299.8,413.7 1322,410.1 1328.1,421 1305.9,424.4"/>
<polygon fill="#8dff00" stroke="#8dff00" points="1322,410.1 1344.1,406.6 1350.3,417.8 1328.1,421"/>
<polygon fill="#90ff00" stroke="#90ff00" points="1344.1,406.6 1366.2,403.2 1372.5,414.5 1350.3,417.8"/>
<polygon fill="#00ff65" stroke="#00ff65" points="463.3,627.4 486.4,620 489.2,627.7 465.9,635"/>
<polygon fill="#00ff5c" stroke="#00ff5c" points="486.4,620 509.6,612.6 512.4,620.3 489.2,627.7"/>
<polygon fill="#00ff53" stroke="#00ff53" points="509.6,612.6 532.7,605.9 535.7,613.7 512.4,620.3"/>
<polygon fill="#00ff4b" stroke="#00ff4b" points="532.7,605.9 555.8,599.2 558.9,607.1 535.7,613.7"/>
<polygon fill="#00ff42" stroke="#00ff42" points="555.8,599.2 578.9,592.1 582.1,600.1 558.9,607.1"/>
<polygon fill="#00ff39" stroke="#00ff39" points="578.9,592.1 602,585 605.3,593.2 582.1,600.1"/>
<polygon fill="#00ff31" stroke="#00ff31" points="602,585 625.1,578.4 628.5,586.7 605.3,593.2"/>
<polygon fill="#00ff29" stroke="#00ff29" points="625.1,578.4 648.1,571.7 651.6,580.2 628.5,586.7"/>
<polygon fill="#00ff20" stroke="#00ff20" points="648.1,571.7 671.1,564.8 674.8,573.5 651.6,580.2"/>
<polygon fill="#00ff18" stroke="#00ff18" points="671.1,564.8 694.1,558 697.9,566.7 674.8,573.5"/>
<polygon fill="#00ff10" stroke="#00ff10" points="694.1,558 717.1,551.9 720.9,560.8 697.9,566.7"/>
<polygon fill="#00ff09" stroke="#00ff09" points="717.1,551.9 740.1,545.8 744,554.8 720.9,560.8"/>
<polygon fill="#00ff02" stroke="#00ff02" points="740.1,545.8 763,539.7 767.1,548.8 744,554.8"/>
<polygon fill="#06ff00" stroke="#06ff00" points="763,539.7 786,533.6 790.1,542.9 767.1,548.8"/>
<polygon fill="#0dff00" stroke="#0dff00" points="786,533.6 808.9,528.1 813.1,537.4 790.1,542.9"/>
<polygon fill="#13ff00" stroke="#13ff00" points="808.9,528.1 831.8,522.6 836.1,532 813.1,537.4"/>
<polygon fill="#19ff00" stroke="#19ff00" points="831.8,522.6 854.6,517.2 859,526.7 836.1,532"/>
<polygon fill="#20ff00" stroke="#20ff00" points="854.6,517.2 877.4,511.7 881.9,521.3 859,526.7"/>
<polygon fill="#26ff00" stroke="#26ff00" points="877.4,511.7 900.2,506.1 904.8,515.8 881.9,521.3"/>
<polygon fill="#2cff00" stroke="#2cff00" points="900.2,506.1 923,500.6 927.7,510.3 904.8,515.8"/>
<polygon fill="#33ff00" stroke="#33ff00" points="923,500.6 945.8,495.2 950.6,505 927.7,510.3"/>
<polygon fill="#39ff00" stroke="#39ff00" points="945.8,495.2 968.5,489.8 973.4,499.7 950.6,505"/>
<polygon fill="#3fff00" stroke="#3fff00" points="968.5,489.8 991.2,484.5 996.2,494.6 973.4,499.7"/>
<polygon fill="#45ff00" stroke="#45ff00" points="991.2,484.5 1013.9,479.3 1018.9,489.4 996.2,494.6"/>
<polygon fill="#4bff00" stroke="#4bff00" points="1013.9,479.3 1036.5,474.4 1041.7,484.6 1018.9,489.4"/>
<polygon fill="#50ff00" stroke="#50ff00" points="1036.5,474.4 1059.2,469.6 1064.4,479.9 1041.7,484.6"/>
<polygon fill="#56ff00" stroke="#56ff00" points="1059.2,469.6 1081.7,464.9 1087.1,475.3 1064.4,479.9"/>
<polygon fill="#5bff00" stroke="#5bff00" points="1081.7,464.9 1104.3,460.3 1109.7,470.8 1087.1,475.3"/>
<polygon fill="#60ff00" stroke="#60ff00" points="1104.3,460.3 1126.8,455.7 1132.3,466.3 1109.7,470.8"/>
<polygon fill="#65ff00" stroke="#65ff00" points="1126.8,455.7 1149.3,451.2 1154.9,461.9 1132.3,466.3"/>
<polygon fill="#69ff00" stroke="#69ff00" points="1149.3,451.2 1171.8,447 1177.5,457.8 1154.9,461.9"/>
<polygon fill="#6dff00" stroke="#6dff00" points="1171.8,447 1194.2,442.9 1200,453.8 1177.5,457.8"/>
<polygon fill="#71ff00" stroke="#71ff00" points="1194.2,442.9 1216.6,439.1 1222.5,450.2 1200,453.8"/>
<polygon fill="#75ff00" stroke="#75ff00" points="1216.6,439.1 1239,435.3 1244.9,446.5 1222.5,450.2"/>
<polygon fill="#79ff00" stroke="#79ff00" points="1239,435.3 1261.3,431.5 1267.3,443 1244.9,446.5"/>
<polygon fill="#7cff00" stroke="#7cff00" points="1261.3,431.5 1283.6,427.8 1289.7,439.4 1267.3,443"/>
<polygon fill="#80ff00" stroke="#80ff00" points="1283.6,427.8 1305.9,424.4 1312.1,436.2 1289.7,439.4"/>
<polygon fill="#83ff00" stroke="#83ff00" points="1305.9,424.4 1328.1,421 1334.4,433.1 1312.1,436.2"/>
<polygon fill="#85ff00" stroke="#85ff00" points="1328.1,421 1350.3,417.8 1356.6,430 1334.4,433.1"/>
<polygon fill="#88ff00" stroke="#88ff00" points="1350.3,417.8 1372.5,414.5 1378.9,427 1356.6,430"/>
<polygon fill="#00ff64" stroke="#00ff64" points="465.9,635 489.2,627.7 491.9,635.4 468.6,642.7"/>
<polygon fill="#00ff5b" stroke="#00ff5b" points="489.2,627.7 512.4,620.3 515.3,628.1 491.9,635.4"/>
<polygon fill="#00ff52" stroke="#00ff52" points="512.4,620.3 535.7,613.7 538.7,621.5 515.3,628.1"/>
<polygon fill="#00ff4a" stroke="#00ff4a" points="535.7,613.7 558.9,607.1 562,615 538.7,621.5"/>
<polygon fill="#00ff42" stroke="#00ff42" points="558.9,607.1 582.1,600.1 585.3,608.2 562,615"/>
<polygon fill="#00ff39" stroke="#00ff39" points="582.1,600.1 605.3,593.2 608.6,601.4 585.3,608.2"/>
<polygon fill="#00ff31" stroke="#00ff31" points="605.3,593.2 628.5,586.7 631.9,595 608.6,601.4"/>
<polygon fill="#00ff29" stroke="#00ff29" points="628.5,586.7 651.6,580.2 655.2,588.7 631.9,595"/>
<polygon fill="#00ff21" stroke="#00ff21" points="651.6,580.2 674.8,573.5 678.4,582.1 655.2,588.7"/>
<polygon fill="#00ff19" stroke="#00ff19" points="674.8,573.5 697.9,566.7 701.6,575.5 678.4,582.1"/>
<polygon fill="#00ff11" stroke="#00ff11" points="697.9,566.7 720.9,560.8 724.8,569.7 701.6,575.5"/>
<polygon fill="#00ff0a" stroke="#00ff0a" points="720.9,560.8 744,554.8 747.9,563.9 724.8,569.7"/>
<polygon fill="#00ff03" stroke="#00ff03" points="744,554.8 767.1,548.8 771.1,558 747.9,563.9"/>
<polygon fill="#04ff00" stroke="#04ff00" points="767.1,548.8 790.1,542.9 794.2,552.1 771.1,558"/>
<polygon fill="#0aff00" stroke="#0aff00" points="790.1,542.9 813.1,537.4 817.3,546.7 794.2,552.1"/>
<polygon fill="#11ff00" stroke="#11ff00" points="813.1,537.4 836.1,532 840.4,541.4 817.3,546.7"/>
<polygon fill="#17ff00" stroke="#17ff00" points="836.1,532 859,526.7 863.4,536.2 840.4,541.4"/>
<polygon fill="#1dff00" stroke="#1dff00" points="859,526.7 881.9,521.3 886.5,530.9 863.4,536.2"/>
<polygon fill="#23ff00" stroke="#23ff00" points="881.9,521.3 904.8,515.8 909.4,525.5 886.5,530.9"/>
<polygon fill="#29ff00" stroke="#29ff00" points="904.8,515.8 927.7,510.3 932.4,520.1 909.4,525.5"/>
<polygon fill="#2fff00" stroke="#2fff00" points="927.7,510.3 950.6,505 955.3,514.9 932.4,520.1"/>
<polygon fill="#35ff00" stroke="#35ff00" points="950.6,505 973.4,499.7 978.3,509.7 955.3,514.9"/>
<polygon fill="#3bff00" stroke="#3bff00" points="973.4,499.7 996.2,494.6 1001.1,504.6 978.3,509.7"/>
<polygon fill="#41ff00" stroke="#41ff00" points="996.2,494.6 1018.9,489.4 1024,499.5 1001.1,504.6"/>
<polygon fill="#47ff00" stroke="#47ff00" points="1018.9,489.4 1041.7,484.6 1046.8,494.8 1024,499.5"/>
<polygon fill="#4cff00" stroke="#4cff00" points="1041.7,484.6 1064.4,479.9 1069.6,490.2 1046.8,494.8"/>
<polygon fill="#51ff00" stroke="#51ff00" points="1064.4,479.9 1087.1,475.3 1092.4,485.7 1069.6,490.2"/>
<polygon fill="#56ff00" stroke="#56ff00" points="1087.1,475.3 1109.7,470.8 1115.1,481.3 1092.4,485.7"/>
<polygon fill="#5bff00" stroke="#5bff00" points="1109.7,470.8 1132.3,466.3 1137.8,476.9 1115.1,481.3"/>
<polygon fill="#5fff00" stroke="#5fff00" points="1132.3,466.3 1154.9,461.9 1160.5,472.6 1137.8,476.9"/>
<polygon fill="#64ff00" stroke="#64ff00" points="1154.9,461.9 1177.5,457.8 1183.1,468.7 1160.5,472.6"/>
<polygon fill="#68ff00" stroke="#68ff00" points="1177.5,457.8 1200,453.8 1205.8,464.8 1183.1,468.7"/>
<polygon fill="#6cff00" stroke="#6cff00" points="1200,453.8 1222.5,450.2 1228.3,461.3 1205.8,464.8"/>
<polygon fill="#6fff00" stroke="#6fff00" points="1222.5,450.2 1244.9,446.5 1250.9,457.8 1228.3,461.3"/>
<polygon fill="#72ff00" stroke="#72ff00" points="1244.9,446.5 1267.3,443 1273.3,454.4 1250.9,457.8"/>
<polygon fill="#76ff00" stroke="#76ff00" points="1267.3,443 1289.7,439.4 1295.8,451 1273.3,454.4"/>
<polygon fill="#78ff00" stroke="#78ff00" points="1289.7,439.4 1312.1,436.2 1318.2,448 1295.8,451"/>
<polygon fill="#7bff00" stroke="#7bff00" points="1312.1,436.2 1334.4,433.1 1340.6,445.1 1318.2,448"/>
<polygon fill="#7eff00" stroke="#7eff00" points="1334.4,433.1 1356.6,430 1362.9,442.2 1340.6,445.1"/>
<polygon fill="#80ff00" stroke="#80ff00" points="1356.6,430 1378.9,427 1385.3,439.4 1362.9,442.2"/>
<polygon fill="#00ff63" stroke="#00ff63" points="468.6,642.7 491.9,635.4 494.8,643.4 471.3,650.7"/>
<polygon fill="#00ff5a" stroke="#00ff5a" points="491.9,635.4 515.3,628.1 518.3,636.2 494.8,643.4"/>
<polygon fill="#00ff51" stroke="#00ff51" points="515.3,628.1 538.7,621.5 541.7,629.8 518.3,636.2"/>
<polygon fill="#00ff4a" stroke="#00ff4a" points="538.7,621.5 562,615 565.2,623.3 541.7,629.8"/>
<polygon fill="#00ff41" stroke="#00ff41" points="562,615 585.3,608.2 588.6,616.6 565.2,623.3"/>
<polygon fill="#00ff39" stroke="#00ff39" points="585.3,608.2 608.6,601.4 612,610 588.6,616.6"/>
<polygon fill="#00ff31" stroke="#00ff31" points="608.6,601.4 631.9,595 635.4,603.8 612,610"/>
<polygon fill="#00ff2a" stroke="#00ff2a" points="631.9,595 655.2,588.7 658.7,597.6 635.4,603.8"/>
<polygon fill="#00ff22" stroke="#00ff22" points="655.2,588.7 678.4,582.1 682.1,591.1 658.7,597.6"/>
<polygon fill="#00ff1a" stroke="#00ff1a" points="678.4,582.1 701.6,575.5 705.4,584.7 682.1,591.1"/>
<polygon fill="#00ff13" stroke="#00ff13" points="701.6,575.5 724.8,569.7 728.7,579 705.4,584.7"/>
<polygon fill="#00ff0c" stroke="#00ff0c" points="724.8,569.7 747.9,563.9 751.9,573.2 728.7,579"/>
<polygon fill="#00ff05" stroke="#00ff05" points="747.9,563.9 771.1,558 775.2,567.4 751.9,573.2"/>
<polygon fill="#02ff00" stroke="#02ff00" points="771.1,558 794.2,552.1 798.4,561.6 775.2,567.4"/>
<polygon fill="#08ff00" stroke="#08ff00" points="794.2,552.1 817.3,546.7 821.6,556.4 798.4,561.6"/>
<polygon fill="#0eff00" stroke="#0eff00" points="817.3,546.7 840.4,541.4 844.8,551.1 821.6,556.4"/>
<polygon fill="#14ff00" stroke="#14ff00" points="840.4,541.4 863.4,536.2 867.9,546 844.8,551.1"/>
<polygon fill="#1aff00" stroke="#1aff00" points="863.4,536.2 886.5,530.9 891,540.9 867.9,546"/>
<polygon fill="#20ff00" stroke="#20ff00" points="886.5,530.9 909.4,525.5 914.1,535.6 891,540.9"/>
<polygon fill="#26ff00" stroke="#26ff00" points="909.4,525.5 932.4,520.1 937.2,530.3 914.1,535.6"/>
<polygon fill="#2cff00" stroke="#2cff00" points="932.4,520.1 955.3,514.9 960.2,525.2 937.2,530.3"/>
<polygon fill="#32ff00" stroke="#32ff00" points="955.3,514.9 978.3,509.7 983.2,520.1 960.2,525.2"/>
<polygon fill="#37ff00" stroke="#37ff00" points="978.3,509.7 1001.1,504.6 1006.2,515.1 983.2,520.1"/>
<polygon fill="#3dff00" stroke="#3dff00" points="1001.1,504.6 1024,499.5 1029.2,510.1 1006.2,515.1"/>
<polygon fill="#43ff00" stroke="#43ff00" points="1024,499.5 1046.8,494.8 1052.1,505.5 1029.2,510.1"/>
<polygon fill="#47ff00" stroke="#47ff00" points="1046.8,494.8 1069.6,490.2 1075,501 1052.1,505.5"/>
<polygon fill="#4cff00" stroke="#4cff00" points="1069.6,490.2 1092.4,485.7 1097.8,496.7 1075,501"/>
<polygon fill="#51ff00" stroke="#51ff00" points="1092.4,485.7 1115.1,481.3 1120.6,492.4 1097.8,496.7"/>
<polygon fill="#55ff00" stroke="#55ff00" points="1115.1,481.3 1137.8,476.9 1143.4,488.1 1120.6,492.4"/>
<polygon fill="#5aff00" stroke="#5aff00" points="1137.8,476.9 1160.5,472.6 1166.2,483.9 1143.4,488.1"/>
<polygon fill="#5eff00" stroke="#5eff00" points="1160.5,472.6 1183.1,468.7 1188.9,480.1 1166.2,483.9"/>
<polygon fill="#62ff00" stroke="#62ff00" points="1183.1,468.7 1205.8,464.8 1211.6,476.3 1188.9,480.1"/>
<polygon fill="#65ff00" stroke="#65ff00" points="1205.8,464.8 1228.3,461.3 1234.2,472.9 1211.6,476.3"/>
<polygon fill="#69ff00" stroke="#69ff00" points="1228.3,461.3 1250.9,457.8 1256.9,469.6 1234.2,472.9"/>
<polygon fill="#6cff00" stroke="#6cff00" points="1250.9,457.8 1273.3,454.4 1279.4,466.4 1256.9,469.6"/>
<polygon fill="#6eff00" stroke="#6eff00" points="1273.3,454.4 1295.8,451 1302,463.2 1279.4,466.4"/>
<polygon fill="#71ff00" stroke="#71ff00" points="1295.8,451 1318.2,448 1324.5,460.5 1302,463.2"/>
<polygon fill="#73ff00" stroke="#73ff00" points="1318.2,448 1340.6,445.1 1346.9,457.7 1324.5,460.5"/>
<polygon fill="#75ff00" stroke="#75ff00" points="1340.6,445.1 1362.9,442.2 1369.3,455.1 1346.9,457.7"/>
<polygon fill="#78ff00" stroke="#78ff00" points="1362.9,442.2 1385.3,439.4 1391.7,452.4 1369.3,455.1"/>
<polygon fill="#00ff62" stroke="#00ff62" points="471.3,650.7 494.8,643.4 497.6,651.5 474,658.6"/>
<polygon fill="#00ff59" stroke="#00ff59" points="494.8,643.4 518.3,636.2 521.2,644.4 497.6,651.5"/>
<polygon fill="#00ff51" stroke="#00ff51" points="518.3,636.2 541.7,629.8 544.8,638 521.2,644.4"/>
<polygon fill="#00ff49" stroke="#00ff49" points="541.7,629.8 565.2,623.3 568.3,631.6 544.8,638"/>
<polygon fill="#00ff41" stroke="#00ff41" points="565.2,623.3 588.6,616.6 591.8,625.1 568.3,631.6"/>
<polygon fill="#00ff3a" stroke="#00ff3a" points="588.6,616.6 612,610 615.4,618.6 591.8,625.1"/>
<polygon fill="#00ff32" stroke="#00ff32" points="612,610 635.4,603.8 638.8,612.5 615.4,618.6"/>
<polygon fill="#00ff2b" stroke="#00ff2b" points="635.4,603.8 658.7,597.6 662.3,606.5 638.8,612.5"/>
<polygon fill="#00ff23" stroke="#00ff23" points="658.7,597.6 682.1,591.1 685.7,600.2 662.3,606.5"/>
<polygon fill="#00ff1c" stroke="#00ff1c" points="682.1,591.1 705.4,584.7 709.2,593.9 685.7,600.2"/>
<polygon fill="#00ff15" stroke="#00ff15" points="705.4,584.7 728.7,579 732.5,588.2 709.2,593.9"/>
<polygon fill="#00ff0e" stroke="#00ff0e" points="728.7,579 751.9,573.2 755.9,582.6 732.5,588.2"/>
<polygon fill="#00ff07" stroke="#00ff07" points="751.9,573.2 775.2,567.4 779.3,576.9 755.9,582.6"/>
<polygon fill="#00ff01" stroke="#00ff01" points="775.2,567.4 798.4,561.6 802.6,571.2 779.3,576.9"/>
<polygon fill="#05ff00" stroke="#05ff00" points="798.4,561.6 821.6,556.4 825.9,566 802.6,571.2"/>
<polygon fill="#0bff00" stroke="#0bff00" points="821.6,556.4 844.8,551.1 849.2,560.9 825.9,566"/>
<polygon fill="#11ff00" stroke="#11ff00" points="844.8,551.1 867.9,546 872.4,555.9 849.2,560.9"/>
<polygon fill="#17ff00" stroke="#17ff00" points="867.9,546 891,540.9 895.6,550.9 872.4,555.9"/>
<polygon fill="#1cff00" stroke="#1cff00" points="891,540.9 914.1,535.6 918.8,545.7 895.6,550.9"/>
<polygon fill="#22ff00" stroke="#22ff00" points="914.1,535.6 937.2,530.3 942,540.5 918.8,545.7"/>
<polygon fill="#28ff00" stroke="#28ff00" points="937.2,530.3 960.2,525.2 965.1,535.5 942,540.5"/>
<polygon fill="#2eff00" stroke="#2eff00" points="960.2,525.2 983.2,520.1 988.2,530.5 965.1,535.5"/>
<polygon fill="#33ff00" stroke="#33ff00" points="983.2,520.1 1006.2,515.1 1011.2,525.6 988.2,530.5"/>
<polygon fill="#39ff00" stroke="#39ff00" points="1006.2,515.1 1029.2,510.1 1034.3,520.7 1011.2,525.6"/>
<polygon fill="#3eff00" stroke="#3eff00" points="1029.2,510.1 1052.1,505.5 1057.3,516.3 1034.3,520.7"/>
<polygon fill="#43ff00" stroke="#43ff00" points="1052.1,505.5 1075,501 1080.3,511.8 1057.3,516.3"/>
<polygon fill="#47ff00" stroke="#47ff00" points="1075,501 1097.8,496.7 1103.2,507.7 1080.3,511.8"/>
<polygon fill="#4cff00" stroke="#4cff00" points="1097.8,496.7 1120.6,492.4 1126.1,503.5 1103.2,507.7"/>
<polygon fill="#50ff00" stroke="#50ff00" points="1120.6,492.4 1143.4,488.1 1149,499.3 1126.1,503.5"/>
<polygon fill="#54ff00" stroke="#54ff00" points="1143.4,488.1 1166.2,483.9 1171.9,495.2 1149,499.3"/>
<polygon fill="#58ff00" stroke="#58ff00" points="1166.2,483.9 1188.9,480.1 1194.7,491.5 1171.9,495.2"/>
<polygon fill="#5cff00" stroke="#5cff00" points="1188.9,480.1 1211.6,476.3 1217.5,487.8 1194.7,491.5"/>
<polygon fill="#5fff00" stroke="#5fff00" points="1211.6,476.3 1234.2,472.9 1240.2,484.6 1217.5,487.8"/>
<polygon fill="#62ff00" stroke="#62ff00" points="1234.2,472.9 1256.9,469.6 1262.9,481.4 1240.2,484.6"/>
<polygon fill="#64ff00" stroke="#64ff00" points="1256.9,469.6 1279.4,466.4 1285.5,478.4 1262.9,481.4"/>
<polygon fill="#67ff00" stroke="#67ff00" points="1279.4,466.4 1302,463.2 1308.1,475.4 1285.5,478.4"/>
<polygon fill="#69ff00" stroke="#69ff00" points="1302,463.2 1324.5,460.5 1330.7,472.9 1308.1,475.4"/>
<polygon fill="#6bff00" stroke="#6bff00" points="1324.5,460.5 1346.9,457.7 1353.2,470.4 1330.7,472.9"/>
<polygon fill="#6dff00" stroke="#6dff00" points="1346.9,457.7 1369.3,455.1 1375.7,467.9 1353.2,470.4"/>
<polygon fill="#6fff00" stroke="#6fff00" points="1369.3,455.1 1391.7,452.4 1398.2,465.4 1375.7,467.9"/>
<polygon fill="#00ff62" stroke="#00ff62" points="474,658.6 497.6,651.5 500.5,660.2 476.8,667.2"/>
<polygon fill="#00ff59" stroke="#00ff59" points="497.6,651.5 521.2,644.4 524.2,653.1 500.5,660.2"/>
<polygon fill="#00ff51" stroke="#00ff51" points="521.2,644.4 544.8,638 547.9,646.8 524.2,653.1"/>
<polygon fill="#00ff49" stroke="#00ff49" points="544.8,638 568.3,631.6 571.5,640.5 547.9,646.8"/>
<polygon fill="#00ff42" stroke="#00ff42" points="568.3,631.6 591.8,625.1 595.2,634.2 571.5,640.5"/>
<polygon fill="#00ff3a" stroke="#00ff3a" points="591.8,625.1 615.4,618.6 618.8,627.8 595.2,634.2"/>
<polygon fill="#00ff33" stroke="#00ff33" points="615.4,618.6 638.8,612.5 642.4,621.9 618.8,627.8"/>
<polygon fill="#00ff2c" stroke="#00ff2c" points="638.8,612.5 662.3,606.5 666,615.9 642.4,621.9"/>
<polygon fill="#00ff25" stroke="#00ff25" points="662.3,606.5 685.7,600.2 689.5,609.8 666,615.9"/>
<polygon fill="#00ff1d" stroke="#00ff1d" points="685.7,600.2 709.2,593.9 713,603.6 689.5,609.8"/>
<polygon fill="#00ff17" stroke="#00ff17" points="709.2,593.9 732.5,588.2 736.5,598.1 713,603.6"/>
<polygon fill="#00ff10" stroke="#00ff10" points="732.5,588.2 755.9,582.6 760,592.6 736.5,598.1"/>
<polygon fill="#00ff0a" stroke="#00ff0a" points="755.9,582.6 779.3,576.9 783.4,586.9 760,592.6"/>
<polygon fill="#00ff03" stroke="#00ff03" points="779.3,576.9 802.6,571.2 806.9,581.3 783.4,586.9"/>
<polygon fill="#03ff00" stroke="#03ff00" points="802.6,571.2 825.9,566 830.2,576.3 806.9,581.3"/>
<polygon fill="#08ff00" stroke="#08ff00" points="825.9,566 849.2,560.9 853.6,571.2 830.2,576.3"/>
<polygon fill="#0eff00" stroke="#0eff00" points="849.2,560.9 872.4,555.9 876.9,566.4 853.6,571.2"/>
<polygon fill="#13ff00" stroke="#13ff00" points="872.4,555.9 895.6,550.9 900.3,561.6 876.9,566.4"/>
<polygon fill="#18ff00" stroke="#18ff00" points="895.6,550.9 918.8,545.7 923.5,556.6 900.3,561.6"/>
<polygon fill="#1eff00" stroke="#1eff00" points="918.8,545.7 942,540.5 946.8,551.5 923.5,556.6"/>
<polygon fill="#24ff00" stroke="#24ff00" points="942,540.5 965.1,535.5 970,546.7 946.8,551.5"/>
<polygon fill="#29ff00" stroke="#29ff00" points="965.1,535.5 988.2,530.5 993.2,542 970,546.7"/>
<polygon fill="#2eff00" stroke="#2eff00" points="988.2,530.5 1011.2,525.6 1016.4,537.2 993.2,542"/>
<polygon fill="#34ff00" stroke="#34ff00" points="1011.2,525.6 1034.3,520.7 1039.5,532.4 1016.4,537.2"/>
<polygon fill="#38ff00" stroke="#38ff00" points="1034.3,520.7 1057.3,516.3 1062.6,528.2 1039.5,532.4"/>
<polygon fill="#3dff00" stroke="#3dff00" points="1057.3,516.3 1080.3,511.8 1085.7,523.9 1062.6,528.2"/>
<polygon fill="#41ff00" stroke="#41ff00" points="1080.3,511.8 1103.2,507.7 1108.7,519.9 1085.7,523.9"/>
<polygon fill="#45ff00" stroke="#45ff00" points="1103.2,507.7 1126.1,503.5 1131.7,515.8 1108.7,519.9"/>
<polygon fill="#49ff00" stroke="#49ff00" points="1126.1,503.5 1149,499.3 1154.7,511.7 1131.7,515.8"/>
<polygon fill="#4eff00" stroke="#4eff00" points="1149,499.3 1171.9,495.2 1177.6,507.7 1154.7,511.7"/>
<polygon fill="#51ff00" stroke="#51ff00" points="1171.9,495.2 1194.7,491.5 1200.5,504.1 1177.6,507.7"/>
<polygon fill="#55ff00" stroke="#55ff00" points="1194.7,491.5 1217.5,487.8 1223.4,500.5 1200.5,504.1"/>
<polygon fill="#58ff00" stroke="#58ff00" points="1217.5,487.8 1240.2,484.6 1246.2,497.5 1223.4,500.5"/>
<polygon fill="#5aff00" stroke="#5aff00" points="1240.2,484.6 1262.9,481.4 1269,494.5 1246.2,497.5"/>
<polygon fill="#5dff00" stroke="#5dff00" points="1262.9,481.4 1285.5,478.4 1291.7,491.7 1269,494.5"/>
<polygon fill="#5fff00" stroke="#5fff00" points="1285.5,478.4 1308.1,475.4 1314.4,488.9 1291.7,491.7"/>
<polygon fill="#61ff00" stroke="#61ff00" points="1308.1,475.4 1330.7,472.9 1337,486.7 1314.4,488.9"/>
<polygon fill="#62ff00" stroke="#62ff00" points="1330.7,472.9 1353.2,470.4 1359.6,484.4 1337,486.7"/>
<polygon fill="#63ff00" stroke="#63ff00" points="1353.2,470.4 1375.7,467.9 1382.2,482.2 1359.6,484.4"/>
<polygon fill="#65ff00" stroke="#65ff00" points="1375.7,467.9 1398.2,465.4 1404.7,480 1382.2,482.2"/>
<polygon fill="#00ff62" stroke="#00ff62" points="476.8,667.2 500.5,660.2 503.4,668.8 479.6,675.8"/>
<polygon fill="#00ff59" stroke="#00ff59" points="500.5,660.2 524.2,653.1 527.2,661.9 503.4,668.8"/>
<polygon fill="#00ff51" stroke="#00ff51" points="524.2,653.1 547.9,646.8 551,655.7 527.2,661.9"/>
<polygon fill="#00ff4a" stroke="#00ff4a" points="547.9,646.8 571.5,640.5 574.8,649.5 551,655.7"/>
<polygon fill="#00ff43" stroke="#00ff43" points="571.5,640.5 595.2,634.2 598.5,643.2 574.8,649.5"/>
<polygon fill="#00ff3b" stroke="#00ff3b" points="595.2,634.2 618.8,627.8 622.2,637 598.5,643.2"/>
<polygon fill="#00ff34" stroke="#00ff34" points="618.8,627.8 642.4,621.9 645.9,631.2 622.2,637"/>
<polygon fill="#00ff2d" stroke="#00ff2d" points="642.4,621.9 666,615.9 669.6,625.4 645.9,631.2"/>
<polygon fill="#00ff27" stroke="#00ff27" points="666,615.9 689.5,609.8 693.2,619.4 669.6,625.4"/>
<polygon fill="#00ff20" stroke="#00ff20" points="689.5,609.8 713,603.6 716.9,613.4 693.2,619.4"/>
<polygon fill="#00ff19" stroke="#00ff19" points="713,603.6 736.5,598.1 740.5,608 716.9,613.4"/>
<polygon fill="#00ff13" stroke="#00ff13" points="736.5,598.1 760,592.6 764.1,602.5 740.5,608"/>
<polygon fill="#00ff0d" stroke="#00ff0d" points="760,592.6 783.4,586.9 787.6,597 764.1,602.5"/>
<polygon fill="#00ff06" stroke="#00ff06" points="783.4,586.9 806.9,581.3 811.1,591.4 787.6,597"/>
<polygon fill="#00ff00" stroke="#00ff00" points="806.9,581.3 830.2,576.3 834.6,586.5 811.1,591.4"/>
<polygon fill="#05ff00" stroke="#05ff00" points="830.2,576.3 853.6,571.2 858.1,581.6 834.6,586.5"/>
<polygon fill="#0aff00" stroke="#0aff00" points="853.6,571.2 876.9,566.4 881.5,577 858.1,581.6"/>
<polygon fill="#0fff00" stroke="#0fff00" points="876.9,566.4 900.3,561.6 904.9,572.3 881.5,577"/>
<polygon fill="#14ff00" stroke="#14ff00" points="900.3,561.6 923.5,556.6 928.3,567.5 904.9,572.3"/>
<polygon fill="#19ff00" stroke="#19ff00" points="923.5,556.6 946.8,551.5 951.7,562.6 928.3,567.5"/>
<polygon fill="#1fff00" stroke="#1fff00" points="946.8,551.5 970,546.7 975,558 951.7,562.6"/>
<polygon fill="#24ff00" stroke="#24ff00" points="970,546.7 993.2,542 998.3,553.4 975,558"/>
<polygon fill="#29ff00" stroke="#29ff00" points="993.2,542 1016.4,537.2 1021.5,548.8 998.3,553.4"/>
<polygon fill="#2eff00" stroke="#2eff00" points="1016.4,537.2 1039.5,532.4 1044.7,544.2 1021.5,548.8"/>
<polygon fill="#32ff00" stroke="#32ff00" points="1039.5,532.4 1062.6,528.2 1067.9,540.1 1044.7,544.2"/>
<polygon fill="#36ff00" stroke="#36ff00" points="1062.6,528.2 1085.7,523.9 1091.1,536 1067.9,540.1"/>
<polygon fill="#3aff00" stroke="#3aff00" points="1085.7,523.9 1108.7,519.9 1114.2,532.1 1091.1,536"/>
<polygon fill="#3eff00" stroke="#3eff00" points="1108.7,519.9 1131.7,515.8 1137.3,528.1 1114.2,532.1"/>
<polygon fill="#42ff00" stroke="#42ff00" points="1131.7,515.8 1154.7,511.7 1160.3,524.1 1137.3,528.1"/>
<polygon fill="#46ff00" stroke="#46ff00" points="1154.7,511.7 1177.6,507.7 1183.4,520.2 1160.3,524.1"/>
<polygon fill="#4aff00" stroke="#4aff00" points="1177.6,507.7 1200.5,504.1 1206.3,516.7 1183.4,520.2"/>
<polygon fill="#4dff00" stroke="#4dff00" points="1200.5,504.1 1223.4,500.5 1229.3,513.2 1206.3,516.7"/>
<polygon fill="#50ff00" stroke="#50ff00" points="1223.4,500.5 1246.2,497.5 1252.2,510.4 1229.3,513.2"/>
<polygon fill="#52ff00" stroke="#52ff00" points="1246.2,497.5 1269,494.5 1275,507.5 1252.2,510.4"/>
<polygon fill="#54ff00" stroke="#54ff00" points="1269,494.5 1291.7,491.7 1297.8,505 1275,507.5"/>
<polygon fill="#56ff00" stroke="#56ff00" points="1291.7,491.7 1314.4,488.9 1320.6,502.4 1297.8,505"/>
<polygon fill="#57ff00" stroke="#57ff00" points="1314.4,488.9 1337,486.7 1343.3,500.4 1320.6,502.4"/>
<polygon fill="#58ff00" stroke="#58ff00" points="1337,486.7 1359.6,484.4 1366,498.4 1343.3,500.4"/>
<polygon fill="#59ff00" stroke="#59ff00" points="1359.6,484.4 1382.2,482.2 1388.6,496.5 1366,498.4"/>
<polygon fill="#5aff00" stroke="#5aff00" points="1382.2,482.2 1404.7,480 1411.2,494.6 1388.6,496.5"/>
<polygon fill="#00ff62" stroke="#00ff62" points="479.6,675.8 503.4,668.8 506.3,677.8 482.4,684.6"/>
<polygon fill="#00ff59" stroke="#00ff59" points="503.4,668.8 527.2,661.9 530.3,671 506.3,677.8"/>
<polygon fill="#00ff52" stroke="#00ff52" points="527.2,661.9 551,655.7 554.2,664.9 530.3,671"/>
<polygon fill="#00ff4b" stroke="#00ff4b" points="551,655.7 574.8,649.5 578.1,658.8 554.2,664.9"/>
<polygon fill="#00ff43" stroke="#00ff43" points="574.8,649.5 598.5,643.2 601.9,652.6 578.1,658.8"/>
<polygon fill="#00ff3c" stroke="#00ff3c" points="598.5,643.2 622.2,637 625.7,646.5 601.9,652.6"/>
<polygon fill="#00ff36" stroke="#00ff36" points="622.2,637 645.9,631.2 649.5,640.8 625.7,646.5"/>
<polygon fill="#00ff2f" stroke="#00ff2f" points="645.9,631.2 669.6,625.4 673.3,635.1 649.5,640.8"/>
<polygon fill="#00ff29" stroke="#00ff29" points="669.6,625.4 693.2,619.4 697.1,629.2 673.3,635.1"/>
<polygon fill="#00ff22" stroke="#00ff22" points="693.2,619.4 716.9,613.4 720.8,623.3 697.1,629.2"/>
<polygon fill="#00ff1b" stroke="#00ff1b" points="716.9,613.4 740.5,608 744.5,617.9 720.8,623.3"/>
<polygon fill="#00ff15" stroke="#00ff15" points="740.5,608 764.1,602.5 768.2,612.6 744.5,617.9"/>
<polygon fill="#00ff0f" stroke="#00ff0f" points="764.1,602.5 787.6,597 791.8,607.1 768.2,612.6"/>
<polygon fill="#00ff09" stroke="#00ff09" points="787.6,597 811.1,591.4 815.5,601.7 791.8,607.1"/>
<polygon fill="#00ff04" stroke="#00ff04" points="811.1,591.4 834.6,586.5 839.1,597 815.5,601.7"/>
<polygon fill="#01ff00" stroke="#01ff00" points="834.6,586.5 858.1,581.6 862.6,592.2 839.1,597"/>
<polygon fill="#06ff00" stroke="#06ff00" points="858.1,581.6 881.5,577 886.2,587.8 862.6,592.2"/>
<polygon fill="#0bff00" stroke="#0bff00" points="881.5,577 904.9,572.3 909.7,583.3 886.2,587.8"/>
<polygon fill="#10ff00" stroke="#10ff00" points="904.9,572.3 928.3,567.5 933.1,578.7 909.7,583.3"/>
<polygon fill="#15ff00" stroke="#15ff00" points="928.3,567.5 951.7,562.6 956.6,574 933.1,578.7"/>
<polygon fill="#19ff00" stroke="#19ff00" points="951.7,562.6 975,558 980,569.6 956.6,574"/>
<polygon fill="#1eff00" stroke="#1eff00" points="975,558 998.3,553.4 1003.4,565.3 980,569.6"/>
<polygon fill="#23ff00" stroke="#23ff00" points="998.3,553.4 1021.5,548.8 1026.7,560.9 1003.4,565.3"/>
<polygon fill="#27ff00" stroke="#27ff00" points="1021.5,548.8 1044.7,544.2 1050,556.5 1026.7,560.9"/>
<polygon fill="#2cff00" stroke="#2cff00" points="1044.7,544.2 1067.9,540.1 1073.3,552.6 1050,556.5"/>
<polygon fill="#2fff00" stroke="#2fff00" points="1067.9,540.1 1091.1,536 1096.6,548.7 1073.3,552.6"/>
<polygon fill="#33ff00" stroke="#33ff00" points="1091.1,536 1114.2,532.1 1119.7,545 1096.6,548.7"/>
<polygon fill="#37ff00" stroke="#37ff00" points="1114.2,532.1 1137.3,528.1 1142.9,541.2 1119.7,545"/>
<polygon fill="#3aff00" stroke="#3aff00" points="1137.3,528.1 1160.3,524.1 1166.1,537.3 1142.9,541.2"/>
<polygon fill="#3eff00" stroke="#3eff00" points="1160.3,524.1 1183.4,520.2 1189.2,533.5 1166.1,537.3"/>
<polygon fill="#42ff00" stroke="#42ff00" points="1183.4,520.2 1206.3,516.7 1212.2,530.1 1189.2,533.5"/>
<polygon fill="#45ff00" stroke="#45ff00" points="1206.3,516.7 1229.3,513.2 1235.3,526.8 1212.2,530.1"/>
<polygon fill="#47ff00" stroke="#47ff00" points="1229.3,513.2 1252.2,510.4 1258.2,524.1 1235.3,526.8"/>
<polygon fill="#49ff00" stroke="#49ff00" points="1252.2,510.4 1275,507.5 1281.2,521.4 1258.2,524.1"/>
<polygon fill="#4bff00" stroke="#4bff00" points="1275,507.5 1297.8,505 1304,519 1281.2,521.4"/>
<polygon fill="#4cff00" stroke="#4cff00" points="1297.8,505 1320.6,502.4 1326.9,516.6 1304,519"/>
<polygon fill="#4dff00" stroke="#4dff00" points="1320.6,502.4 1343.3,500.4 1349.7,514.7 1326.9,516.6"/>
<polygon fill="#4eff00" stroke="#4eff00" points="1343.3,500.4 1366,498.4 1372.5,512.8 1349.7,514.7"/>
<polygon fill="#4eff00" stroke="#4eff00" points="1366,498.4 1388.6,496.5 1395.1,511 1372.5,512.8"/>
<polygon fill="#4fff00" stroke="#4fff00" points="1388.6,496.5 1411.2,494.6 1417.8,509.2 1395.1,511"/>
<polygon fill="#00ff62" stroke="#00ff62" points="482.4,684.6 506.3,677.8 509.3,686.8 485.3,693.5"/>
<polygon fill="#00ff5a" stroke="#00ff5a" points="506.3,677.8 530.3,671 533.3,680.1 509.3,686.8"/>
<polygon fill="#00ff52" stroke="#00ff52" points="530.3,671 554.2,664.9 557.3,674.1 533.3,680.1"/>
<polygon fill="#00ff4b" stroke="#00ff4b" points="554.2,664.9 578.1,658.8 581.3,668.1 557.3,674.1"/>
<polygon fill="#00ff45" stroke="#00ff45" points="578.1,658.8 601.9,652.6 605.3,662 581.3,668.1"/>
<polygon fill="#00ff3e" stroke="#00ff3e" points="601.9,652.6 625.7,646.5 629.2,656 605.3,662"/>
<polygon fill="#00ff37" stroke="#00ff37" points="625.7,646.5 649.5,640.8 653.1,650.4 629.2,656"/>
<polygon fill="#00ff31" stroke="#00ff31" points="649.5,640.8 673.3,635.1 677,644.8 653.1,650.4"/>
<polygon fill="#00ff2a" stroke="#00ff2a" points="673.3,635.1 697.1,629.2 700.9,639 677,644.8"/>
<polygon fill="#00ff24" stroke="#00ff24" points="697.1,629.2 720.8,623.3 724.7,633.2 700.9,639"/>
<polygon fill="#00ff1e" stroke="#00ff1e" points="720.8,623.3 744.5,617.9 748.5,627.9 724.7,633.2"/>
<polygon fill="#00ff18" stroke="#00ff18" points="744.5,617.9 768.2,612.6 772.3,622.6 748.5,627.9"/>
<polygon fill="#00ff12" stroke="#00ff12" points="768.2,612.6 791.8,607.1 796.1,617.3 772.3,622.6"/>
<polygon fill="#00ff0c" stroke="#00ff0c" points="791.8,607.1 815.5,601.7 819.8,612 796.1,617.3"/>
<polygon fill="#00ff07" stroke="#00ff07" points="815.5,601.7 839.1,597 843.5,607.4 819.8,612"/>
<polygon fill="#00ff02" stroke="#00ff02" points="839.1,597 862.6,592.2 867.2,602.8 843.5,607.4"/>
<polygon fill="#03ff00" stroke="#03ff00" points="862.6,592.2 886.2,587.8 890.8,598.6 867.2,602.8"/>
<polygon fill="#07ff00" stroke="#07ff00" points="886.2,587.8 909.7,583.3 914.4,594.3 890.8,598.6"/>
<polygon fill="#0bff00" stroke="#0bff00" points="909.7,583.3 933.1,578.7 938,589.9 914.4,594.3"/>
<polygon fill="#10ff00" stroke="#10ff00" points="933.1,578.7 956.6,574 961.5,585.5 938,589.9"/>
<polygon fill="#14ff00" stroke="#14ff00" points="956.6,574 980,569.6 985,581.3 961.5,585.5"/>
<polygon fill="#18ff00" stroke="#18ff00" points="980,569.6 1003.4,565.3 1008.5,577.2 985,581.3"/>
<polygon fill="#1dff00" stroke="#1dff00" points="1003.4,565.3 1026.7,560.9 1031.9,573 1008.5,577.2"/>
<polygon fill="#21ff00" stroke="#21ff00" points="1026.7,560.9 1050,556.5 1055.3,568.9 1031.9,573"/>
<polygon fill="#25ff00" stroke="#25ff00" points="1050,556.5 1073.3,552.6 1078.7,565.2 1055.3,568.9"/>
<polygon fill="#28ff00" stroke="#28ff00" points="1073.3,552.6 1096.6,548.7 1102,561.5 1078.7,565.2"/>
<polygon fill="#2cff00" stroke="#2cff00" points="1096.6,548.7 1119.7,545 1125.3,557.8 1102,561.5"/>
<polygon fill="#2fff00" stroke="#2fff00" points="1119.7,545 1142.9,541.2 1148.6,554.2 1125.3,557.8"/>
<polygon fill="#32ff00" stroke="#32ff00" points="1142.9,541.2 1166.1,537.3 1171.8,550.5 1148.6,554.2"/>
<polygon fill="#36ff00" stroke="#36ff00" points="1166.1,537.3 1189.2,533.5 1195,546.8 1171.8,550.5"/>
<polygon fill="#39ff00" stroke="#39ff00" points="1189.2,533.5 1212.2,530.1 1218.1,543.6 1195,546.8"/>
<polygon fill="#3cff00" stroke="#3cff00" points="1212.2,530.1 1235.3,526.8 1241.3,540.4 1218.1,543.6"/>
<polygon fill="#3eff00" stroke="#3eff00" points="1235.3,526.8 1258.2,524.1 1264.3,537.8 1241.3,540.4"/>
<polygon fill="#3fff00" stroke="#3fff00" points="1258.2,524.1 1281.2,521.4 1287.3,535.3 1264.3,537.8"/>
<polygon fill="#41ff00" stroke="#41ff00" points="1281.2,521.4 1304,519 1310.3,533.1 1287.3,535.3"/>
<polygon fill="#42ff00" stroke="#42ff00" points="1304,519 1326.9,516.6 1333.2,530.8 1310.3,533.1"/>
<polygon fill="#43ff00" stroke="#43ff00" points="1326.9,516.6 1349.7,514.7 1356.1,529.1 1333.2,530.8"/>
<polygon fill="#43ff00" stroke="#43ff00" points="1349.7,514.7 1372.5,512.8 1378.9,527.3 1356.1,529.1"/>
<polygon fill="#43ff00" stroke="#43ff00" points="1372.5,512.8 1395.1,511 1401.7,525.5 1378.9,527.3"/>
<polygon fill="#44ff00" stroke="#44ff00" points="1395.1,511 1417.8,509.2 1424.5,523.8 1401.7,525.5"/>
<polygon fill="#00ff62" stroke="#00ff62" points="485.3,693.5 509.3,686.8 512.3,696.2 488.2,702.7"/>
<polygon fill="#00ff5a" stroke="#00ff5a" points="509.3,686.8 533.3,680.1 536.5,689.7 512.3,696.2"/>
<polygon fill="#00ff53" stroke="#00ff53" points="533.3,680.1 557.3,674.1 560.6,683.8 536.5,689.7"/>
<polygon fill="#00ff4d" stroke="#00ff4d" points="557.3,674.1 581.3,668.1 584.7,677.9 560.6,683.8"/>
<polygon fill="#00ff46" stroke="#00ff46" points="581.3,668.1 605.3,662 608.8,672 584.7,677.9"/>
<polygon fill="#00ff3f" stroke="#00ff3f" points="605.3,662 629.2,656 632.8,666 608.8,672"/>
<polygon fill="#00ff39" stroke="#00ff39" points="629.2,656 653.1,650.4 656.8,660.5 632.8,666"/>
<polygon fill="#00ff33" stroke="#00ff33" points="653.1,650.4 677,644.8 680.8,655 656.8,660.5"/>
<polygon fill="#00ff2c" stroke="#00ff2c" points="677,644.8 700.9,639 704.8,649.2 680.8,655"/>
<polygon fill="#00ff26" stroke="#00ff26" points="700.9,639 724.7,633.2 728.7,643.5 704.8,649.2"/>
<polygon fill="#00ff20" stroke="#00ff20" points="724.7,633.2 748.5,627.9 752.6,638.2 728.7,643.5"/>
<polygon fill="#00ff1a" stroke="#00ff1a" points="748.5,627.9 772.3,622.6 776.5,633 752.6,638.2"/>
<polygon fill="#00ff15" stroke="#00ff15" points="772.3,622.6 796.1,617.3 800.4,627.9 776.5,633"/>
<polygon fill="#00ff0f" stroke="#00ff0f" points="796.1,617.3 819.8,612 824.2,622.8 800.4,627.9"/>
<polygon fill="#00ff0a" stroke="#00ff0a" points="819.8,612 843.5,607.4 848,618.4 824.2,622.8"/>
<polygon fill="#00ff06" stroke="#00ff06" points="843.5,607.4 867.2,602.8 871.8,614 848,618.4"/>
<polygon fill="#00ff02" stroke="#00ff02" points="867.2,602.8 890.8,598.6 895.5,610.1 871.8,614"/>
<polygon fill="#02ff00" stroke="#02ff00" points="890.8,598.6 914.4,594.3 919.2,606.1 895.5,610.1"/>
<polygon fill="#06ff00" stroke="#06ff00" points="914.4,594.3 938,589.9 942.9,601.9 919.2,606.1"/>
<polygon fill="#0aff00" stroke="#0aff00" points="938,589.9 961.5,585.5 966.5,597.7 942.9,601.9"/>
<polygon fill="#0eff00" stroke="#0eff00" points="961.5,585.5 985,581.3 990.1,593.8 966.5,597.7"/>
<polygon fill="#12ff00" stroke="#12ff00" points="985,581.3 1008.5,577.2 1013.7,590 990.1,593.8"/>
<polygon fill="#16ff00" stroke="#16ff00" points="1008.5,577.2 1031.9,573 1037.2,586.1 1013.7,590"/>
<polygon fill="#1aff00" stroke="#1aff00" points="1031.9,573 1055.3,568.9 1060.7,582.2 1037.2,586.1"/>
<polygon fill="#1dff00" stroke="#1dff00" points="1055.3,568.9 1078.7,565.2 1084.1,578.8 1060.7,582.2"/>
<polygon fill="#20ff00" stroke="#20ff00" points="1078.7,565.2 1102,561.5 1107.6,575.3 1084.1,578.8"/>
<polygon fill="#23ff00" stroke="#23ff00" points="1102,561.5 1125.3,557.8 1130.9,571.9 1107.6,575.3"/>
<polygon fill="#26ff00" stroke="#26ff00" points="1125.3,557.8 1148.6,554.2 1154.3,568.5 1130.9,571.9"/>
<polygon fill="#29ff00" stroke="#29ff00" points="1148.6,554.2 1171.8,550.5 1177.6,565.1 1154.3,568.5"/>
<polygon fill="#2cff00" stroke="#2cff00" points="1171.8,550.5 1195,546.8 1200.9,561.7 1177.6,565.1"/>
<polygon fill="#2fff00" stroke="#2fff00" points="1195,546.8 1218.1,543.6 1224.1,558.8 1200.9,561.7"/>
<polygon fill="#31ff00" stroke="#31ff00" points="1218.1,543.6 1241.3,540.4 1247.3,555.9 1224.1,558.8"/>
<polygon fill="#33ff00" stroke="#33ff00" points="1241.3,540.4 1264.3,537.8 1270.4,553.6 1247.3,555.9"/>
<polygon fill="#35ff00" stroke="#35ff00" points="1264.3,537.8 1287.3,535.3 1293.5,551.3 1270.4,553.6"/>
<polygon fill="#36ff00" stroke="#36ff00" points="1287.3,535.3 1310.3,533.1 1316.5,549.1 1293.5,551.3"/>
<polygon fill="#37ff00" stroke="#37ff00" points="1310.3,533.1 1333.2,530.8 1339.6,547 1316.5,549.1"/>
<polygon fill="#37ff00" stroke="#37ff00" points="1333.2,530.8 1356.1,529.1 1362.5,545.2 1339.6,547"/>
<polygon fill="#37ff00" stroke="#37ff00" points="1356.1,529.1 1378.9,527.3 1385.4,543.4 1362.5,545.2"/>
<polygon fill="#38ff00" stroke="#38ff00" points="1378.9,527.3 1401.7,525.5 1408.3,541.7 1385.4,543.4"/>
<polygon fill="#38ff00" stroke="#38ff00" points="1401.7,525.5 1424.5,523.8 1431.1,540 1408.3,541.7"/>
<polygon fill="#00ff62" stroke="#00ff62" points="488.2,702.7 512.3,696.2 515.3,705.7 491.1,712"/>
<polygon fill="#00ff5b" stroke="#00ff5b" points="512.3,696.2 536.5,689.7 539.6,699.3 515.3,705.7"/>
<polygon fill="#00ff54" stroke="#00ff54" points="536.5,689.7 560.6,683.8 563.8,693.6 539.6,699.3"/>
<polygon fill="#00ff4e" stroke="#00ff4e" points="560.6,683.8 584.7,677.9 588.1,687.8 563.8,693.6"/>
<polygon fill="#00ff47" stroke="#00ff47" points="584.7,677.9 608.8,672 612.2,681.9 588.1,687.8"/>
<polygon fill="#00ff41" stroke="#00ff41" points="608.8,672 632.8,666 636.4,676.1 612.2,681.9"/>
<polygon fill="#00ff3b" stroke="#00ff3b" points="632.8,666 656.8,660.5 660.5,670.6 636.4,676.1"/>
<polygon fill="#00ff35" stroke="#00ff35" points="656.8,660.5 680.8,655 684.6,665.2 660.5,670.6"/>
<polygon fill="#00ff2f" stroke="#00ff2f" points="680.8,655 704.8,649.2 708.7,659.5 684.6,665.2"/>
<polygon fill="#00ff29" stroke="#00ff29" points="704.8,649.2 728.7,643.5 732.7,653.8 708.7,659.5"/>
<polygon fill="#00ff23" stroke="#00ff23" points="728.7,643.5 752.6,638.2 756.8,648.6 732.7,653.8"/>
<polygon fill="#00ff1d" stroke="#00ff1d" points="752.6,638.2 776.5,633 780.8,643.4 756.8,648.6"/>
<polygon fill="#00ff18" stroke="#00ff18" points="776.5,633 800.4,627.9 804.7,638.5 780.8,643.4"/>
<polygon fill="#00ff13" stroke="#00ff13" points="800.4,627.9 824.2,622.8 828.7,633.6 804.7,638.5"/>
<polygon fill="#00ff0e" stroke="#00ff0e" points="824.2,622.8 848,618.4 852.5,629.5 828.7,633.6"/>
<polygon fill="#00ff0a" stroke="#00ff0a" points="848,618.4 871.8,614 876.4,625.3 852.5,629.5"/>
<polygon fill="#00ff06" stroke="#00ff06" points="871.8,614 895.5,610.1 900.2,621.5 876.4,625.3"/>
<polygon fill="#00ff03" stroke="#00ff03" points="895.5,610.1 919.2,606.1 924.1,617.8 900.2,621.5"/>
<polygon fill="#01ff00" stroke="#01ff00" points="919.2,606.1 942.9,601.9 947.8,613.9 924.1,617.8"/>
<polygon fill="#05ff00" stroke="#05ff00" points="942.9,601.9 966.5,597.7 971.5,609.9 947.8,613.9"/>
<polygon fill="#08ff00" stroke="#08ff00" points="966.5,597.7 990.1,593.8 995.2,606.4 971.5,609.9"/>
<polygon fill="#0bff00" stroke="#0bff00" points="990.1,593.8 1013.7,590 1018.9,602.8 995.2,606.4"/>
<polygon fill="#0fff00" stroke="#0fff00" points="1013.7,590 1037.2,586.1 1042.5,599.1 1018.9,602.8"/>
<polygon fill="#12ff00" stroke="#12ff00" points="1037.2,586.1 1060.7,582.2 1066.1,595.5 1042.5,599.1"/>
<polygon fill="#15ff00" stroke="#15ff00" points="1060.7,582.2 1084.1,578.8 1089.6,592.3 1066.1,595.5"/>
<polygon fill="#17ff00" stroke="#17ff00" points="1084.1,578.8 1107.6,575.3 1113.1,589.1 1089.6,592.3"/>
<polygon fill="#1aff00" stroke="#1aff00" points="1107.6,575.3 1130.9,571.9 1136.6,586 1113.1,589.1"/>
<polygon fill="#1dff00" stroke="#1dff00" points="1130.9,571.9 1154.3,568.5 1160,582.8 1136.6,586"/>
<polygon fill="#1fff00" stroke="#1fff00" points="1154.3,568.5 1177.6,565.1 1183.4,579.7 1160,582.8"/>
<polygon fill="#22ff00" stroke="#22ff00" points="1177.6,565.1 1200.9,561.7 1206.8,576.6 1183.4,579.7"/>
<polygon fill="#24ff00" stroke="#24ff00" points="1200.9,561.7 1224.1,558.8 1230,574.1 1206.8,576.6"/>
<polygon fill="#26ff00" stroke="#26ff00" points="1224.1,558.8 1247.3,555.9 1253.3,571.5 1230,574.1"/>
<polygon fill="#27ff00" stroke="#27ff00" points="1247.3,555.9 1270.4,553.6 1276.5,569.4 1253.3,571.5"/>
<polygon fill="#28ff00" stroke="#28ff00" points="1270.4,553.6 1293.5,551.3 1299.7,567.2 1276.5,569.4"/>
<polygon fill="#29ff00" stroke="#29ff00" points="1293.5,551.3 1316.5,549.1 1322.8,565.2 1299.7,567.2"/>
<polygon fill="#2aff00" stroke="#2aff00" points="1316.5,549.1 1339.6,547 1345.9,563.1 1322.8,565.2"/>
<polygon fill="#2aff00" stroke="#2aff00" points="1339.6,547 1362.5,545.2 1368.9,561.2 1345.9,563.1"/>
<polygon fill="#2aff00" stroke="#2aff00" points="1362.5,545.2 1385.4,543.4 1391.9,559.4 1368.9,561.2"/>
<polygon fill="#2bff00" stroke="#2bff00" points="1385.4,543.4 1408.3,541.7 1414.9,557.8 1391.9,559.4"/>
<polygon fill="#2bff00" stroke="#2bff00" points="1408.3,541.7 1431.1,540 1437.8,556.2 1414.9,557.8"/>
<polygon fill="#00ff64" stroke="#00ff64" points="491.1,712 515.3,705.7 518.4,716.3 494.1,722.6"/>
<polygon fill="#00ff5d" stroke="#00ff5d" points="515.3,705.7 539.6,699.3 542.8,710 518.4,716.3"/>
<polygon fill="#00ff56" stroke="#00ff56" points="539.6,699.3 563.8,693.6 567.1,704.1 542.8,710"/>
<polygon fill="#00ff50" stroke="#00ff50" points="563.8,693.6 588.1,687.8 591.5,698.2 567.1,704.1"/>
<polygon fill="#00ff49" stroke="#00ff49" points="588.1,687.8 612.2,681.9 615.8,692.4 591.5,698.2"/>
<polygon fill="#00ff43" stroke="#00ff43" points="612.2,681.9 636.4,676.1 640,686.6 615.8,692.4"/>
<polygon fill="#00ff3d" stroke="#00ff3d" points="636.4,676.1 660.5,670.6 664.3,681.3 640,686.6"/>
<polygon fill="#00ff37" stroke="#00ff37" points="660.5,670.6 684.6,665.2 688.5,675.9 664.3,681.3"/>
<polygon fill="#00ff31" stroke="#00ff31" points="684.6,665.2 708.7,659.5 712.7,670.3 688.5,675.9"/>
<polygon fill="#00ff2b" stroke="#00ff2b" points="708.7,659.5 732.7,653.8 736.8,664.7 712.7,670.3"/>
<polygon fill="#00ff26" stroke="#00ff26" points="732.7,653.8 756.8,648.6 760.9,659.7 736.8,664.7"/>
<polygon fill="#00ff20" stroke="#00ff20" points="756.8,648.6 780.8,643.4 785.1,654.7 760.9,659.7"/>
<polygon fill="#00ff1b" stroke="#00ff1b" points="780.8,643.4 804.7,638.5 809.1,649.9 785.1,654.7"/>
<polygon fill="#00ff16" stroke="#00ff16" points="804.7,638.5 828.7,633.6 833.2,645.1 809.1,649.9"/>
<polygon fill="#00ff12" stroke="#00ff12" points="828.7,633.6 852.5,629.5 857.1,641 833.2,645.1"/>
<polygon fill="#00ff0e" stroke="#00ff0e" points="852.5,629.5 876.4,625.3 881.1,637 857.1,641"/>
<polygon fill="#00ff0b" stroke="#00ff0b" points="876.4,625.3 900.2,621.5 905,633.4 881.1,637"/>
<polygon fill="#00ff08" stroke="#00ff08" points="900.2,621.5 924.1,617.8 929,629.8 905,633.4"/>
<polygon fill="#00ff05" stroke="#00ff05" points="924.1,617.8 947.8,613.9 952.8,626.1 929,629.8"/>
<polygon fill="#00ff01" stroke="#00ff01" points="947.8,613.9 971.5,609.9 976.6,622.4 952.8,626.1"/>
<polygon fill="#02ff00" stroke="#02ff00" points="971.5,609.9 995.2,606.4 1000.4,619.1 976.6,622.4"/>
<polygon fill="#04ff00" stroke="#04ff00" points="995.2,606.4 1018.9,602.8 1024.2,615.8 1000.4,619.1"/>
<polygon fill="#07ff00" stroke="#07ff00" points="1018.9,602.8 1042.5,599.1 1047.9,612.4 1024.2,615.8"/>
<polygon fill="#0aff00" stroke="#0aff00" points="1042.5,599.1 1066.1,595.5 1071.6,609 1047.9,612.4"/>
<polygon fill="#0dff00" stroke="#0dff00" points="1066.1,595.5 1089.6,592.3 1095.2,606 1071.6,609"/>
<polygon fill="#0fff00" stroke="#0fff00" points="1089.6,592.3 1113.1,589.1 1118.8,603 1095.2,606"/>
<polygon fill="#11ff00" stroke="#11ff00" points="1113.1,589.1 1136.6,586 1142.3,600.1 1118.8,603"/>
<polygon fill="#13ff00" stroke="#13ff00" points="1136.6,586 1160,582.8 1165.8,597.3 1142.3,600.1"/>
<polygon fill="#15ff00" stroke="#15ff00" points="1160,582.8 1183.4,579.7 1189.3,594.6 1165.8,597.3"/>
<polygon fill="#17ff00" stroke="#17ff00" points="1183.4,579.7 1206.8,576.6 1212.7,591.8 1189.3,594.6"/>
<polygon fill="#19ff00" stroke="#19ff00" points="1206.8,576.6 1230,574.1 1236.1,589.6 1212.7,591.8"/>
<polygon fill="#1aff00" stroke="#1aff00" points="1230,574.1 1253.3,571.5 1259.5,587.4 1236.1,589.6"/>
<polygon fill="#1bff00" stroke="#1bff00" points="1253.3,571.5 1276.5,569.4 1282.7,585.6 1259.5,587.4"/>
<polygon fill="#1bff00" stroke="#1bff00" points="1276.5,569.4 1299.7,567.2 1306,583.8 1282.7,585.6"/>
<polygon fill="#1cff00" stroke="#1cff00" points="1299.7,567.2 1322.8,565.2 1329.1,581.9 1306,583.8"/>
<polygon fill="#1cff00" stroke="#1cff00" points="1322.8,565.2 1345.9,563.1 1352.3,580 1329.1,581.9"/>
<polygon fill="#1dff00" stroke="#1dff00" points="1345.9,563.1 1368.9,561.2 1375.4,578.2 1352.3,580"/>
<polygon fill="#1dff00" stroke="#1dff00" points="1368.9,561.2 1391.9,559.4 1398.5,576.5 1375.4,578.2"/>
<polygon fill="#1dff00" stroke="#1dff00" points="1391.9,559.4 1414.9,557.8 1421.5,575 1398.5,576.5"/>
<polygon fill="#1dff00" stroke="#1dff00" points="1414.9,557.8 1437.8,556.2 1444.5,573.5 1421.5,575"/>
<polygon fill="#00ff66" stroke="#00ff66" points="494.1,722.6 518.4,716.3 521.5,726.9 497.1,733.2"/>
<polygon fill="#00ff5f" stroke="#00ff5f" points="518.4,716.3 542.8,710 546,720.6 521.5,726.9"/>
<polygon fill="#00ff58" stroke="#00ff58" points="542.8,710 567.1,704.1 570.5,714.7 546,720.6"/>
<polygon fill="#00ff52" stroke="#00ff52" points="567.1,704.1 591.5,698.2 594.9,708.7 570.5,714.7"/>
<polygon fill="#00ff4c" stroke="#00ff4c" points="591.5,698.2 615.8,692.4 619.3,702.9 594.9,708.7"/>
<polygon fill="#00ff45" stroke="#00ff45" points="615.8,692.4 640,686.6 643.7,697.2 619.3,702.9"/>
<polygon fill="#00ff40" stroke="#00ff40" points="640,686.6 664.3,681.3 668,691.9 643.7,697.2"/>
<polygon fill="#00ff3a" stroke="#00ff3a" points="664.3,681.3 688.5,675.9 692.4,686.6 668,691.9"/>
<polygon fill="#00ff34" stroke="#00ff34" points="688.5,675.9 712.7,670.3 716.6,681.2 692.4,686.6"/>
<polygon fill="#00ff2e" stroke="#00ff2e" points="712.7,670.3 736.8,664.7 740.9,675.7 716.6,681.2"/>
<polygon fill="#00ff29" stroke="#00ff29" points="736.8,664.7 760.9,659.7 765.1,670.8 740.9,675.7"/>
<polygon fill="#00ff24" stroke="#00ff24" points="760.9,659.7 785.1,654.7 789.3,666 765.1,670.8"/>
<polygon fill="#00ff1f" stroke="#00ff1f" points="785.1,654.7 809.1,649.9 813.5,661.3 789.3,666"/>
<polygon fill="#00ff1a" stroke="#00ff1a" points="809.1,649.9 833.2,645.1 837.7,656.5 813.5,661.3"/>
<polygon fill="#00ff16" stroke="#00ff16" points="833.2,645.1 857.1,641 861.7,652.6 837.7,656.5"/>
<polygon fill="#00ff13" stroke="#00ff13" points="857.1,641 881.1,637 885.8,648.6 861.7,652.6"/>
<polygon fill="#00ff10" stroke="#00ff10" points="881.1,637 905,633.4 909.8,645.3 885.8,648.6"/>
<polygon fill="#00ff0d" stroke="#00ff0d" points="905,633.4 929,629.8 933.9,641.9 909.8,645.3"/>
<polygon fill="#00ff0a" stroke="#00ff0a" points="929,629.8 952.8,626.1 957.8,638.4 933.9,641.9"/>
<polygon fill="#00ff07" stroke="#00ff07" points="952.8,626.1 976.6,622.4 981.7,634.9 957.8,638.4"/>
<polygon fill="#00ff05" stroke="#00ff05" points="976.6,622.4 1000.4,619.1 1005.6,631.9 981.7,634.9"/>
<polygon fill="#00ff02" stroke="#00ff02" points="1000.4,619.1 1024.2,615.8 1029.5,628.8 1005.6,631.9"/>
<polygon fill="#00ff00" stroke="#00ff00" points="1024.2,615.8 1047.9,612.4 1053.2,625.6 1029.5,628.8"/>
<polygon fill="#02ff00" stroke="#02ff00" points="1047.9,612.4 1071.6,609 1077,622.4 1053.2,625.6"/>
<polygon fill="#05ff00" stroke="#05ff00" points="1071.6,609 1095.2,606 1100.7,619.7 1077,622.4"/>
<polygon fill="#06ff00" stroke="#06ff00" points="1095.2,606 1118.8,603 1124.4,616.9 1100.7,619.7"/>
<polygon fill="#08ff00" stroke="#08ff00" points="1118.8,603 1142.3,600.1 1148,614.3 1124.4,616.9"/>
<polygon fill="#0aff00" stroke="#0aff00" points="1142.3,600.1 1165.8,597.3 1171.7,611.7 1148,614.3"/>
<polygon fill="#0bff00" stroke="#0bff00" points="1165.8,597.3 1189.3,594.6 1195.2,609.4 1171.7,611.7"/>
<polygon fill="#0dff00" stroke="#0dff00" points="1189.3,594.6 1212.7,591.8 1218.7,607 1195.2,609.4"/>
<polygon fill="#0eff00" stroke="#0eff00" points="1212.7,591.8 1236.1,589.6 1242.1,605.2 1218.7,607"/>
<polygon fill="#0eff00" stroke="#0eff00" points="1236.1,589.6 1259.5,587.4 1265.6,603.4 1242.1,605.2"/>
<polygon fill="#0eff00" stroke="#0eff00" points="1259.5,587.4 1282.7,585.6 1288.9,601.8 1265.6,603.4"/>
<polygon fill="#0eff00" stroke="#0eff00" points="1282.7,585.6 1306,583.8 1312.2,600.3 1288.9,601.8"/>
<polygon fill="#0eff00" stroke="#0eff00" points="1306,583.8 1329.1,581.9 1335.5,598.6 1312.2,600.3"/>
<polygon fill="#0fff00" stroke="#0fff00" points="1329.1,581.9 1352.3,580 1358.7,596.9 1335.5,598.6"/>
<polygon fill="#0fff00" stroke="#0fff00" points="1352.3,580 1375.4,578.2 1381.9,595.2 1358.7,596.9"/>
<polygon fill="#0fff00" stroke="#0fff00" points="1375.4,578.2 1398.5,576.5 1405.1,593.5 1381.9,595.2"/>
<polygon fill="#0fff00" stroke="#0fff00" points="1398.5,576.5 1421.5,575 1428.2,592.2 1405.1,593.5"/>
<polygon fill="#0fff00" stroke="#0fff00" points="1421.5,575 1444.5,573.5 1451.2,590.8 1428.2,592.2"/>
<polygon fill="#00ff69" stroke="#00ff69" points="497.1,733.2 521.5,726.9 524.7,738 500.1,744.2"/>
<polygon fill="#00ff62" stroke="#00ff62" points="521.5,726.9 546,720.6 549.3,731.7 524.7,738"/>
<polygon fill="#00ff5b" stroke="#00ff5b" points="546,720.6 570.5,714.7 573.9,725.6 549.3,731.7"/>
<polygon fill="#00ff55" stroke="#00ff55" points="570.5,714.7 594.9,708.7 598.4,719.5 573.9,725.6"/>
<polygon fill="#00ff4e" stroke="#00ff4e" points="594.9,708.7 619.3,702.9 622.9,713.8 598.4,719.5"/>
<polygon fill="#00ff48" stroke="#00ff48" points="619.3,702.9 643.7,697.2 647.4,708 622.9,713.8"/>
<polygon fill="#00ff42" stroke="#00ff42" points="643.7,697.2 668,691.9 671.9,702.9 647.4,708"/>
<polygon fill="#00ff3d" stroke="#00ff3d" points="668,691.9 692.4,686.6 696.3,697.8 671.9,702.9"/>
<polygon fill="#00ff38" stroke="#00ff38" points="692.4,686.6 716.6,681.2 720.7,692.5 696.3,697.8"/>
<polygon fill="#00ff32" stroke="#00ff32" points="716.6,681.2 740.9,675.7 745.1,687.2 720.7,692.5"/>
<polygon fill="#00ff2d" stroke="#00ff2d" points="740.9,675.7 765.1,670.8 769.4,682.5 745.1,687.2"/>
<polygon fill="#00ff28" stroke="#00ff28" points="765.1,670.8 789.3,666 793.7,677.7 769.4,682.5"/>
<polygon fill="#00ff23" stroke="#00ff23" points="789.3,666 813.5,661.3 818,673 793.7,677.7"/>
<polygon fill="#00ff1f" stroke="#00ff1f" points="813.5,661.3 837.7,656.5 842.2,668.4 818,673"/>
<polygon fill="#00ff1b" stroke="#00ff1b" points="837.7,656.5 861.7,652.6 866.4,664.4 842.2,668.4"/>
<polygon fill="#00ff17" stroke="#00ff17" points="861.7,652.6 885.8,648.6 890.6,660.5 866.4,664.4"/>
<polygon fill="#00ff14" stroke="#00ff14" points="885.8,648.6 909.8,645.3 914.7,657.2 890.6,660.5"/>
<polygon fill="#00ff12" stroke="#00ff12" points="909.8,645.3 933.9,641.9 938.9,653.9 914.7,657.2"/>
<polygon fill="#00ff10" stroke="#00ff10" points="933.9,641.9 957.8,638.4 962.9,650.5 938.9,653.9"/>
<polygon fill="#00ff0d" stroke="#00ff0d" points="957.8,638.4 981.7,634.9 986.9,647.1 962.9,650.5"/>
<polygon fill="#00ff0b" stroke="#00ff0b" points="981.7,634.9 1005.6,631.9 1010.9,644.2 986.9,647.1"/>
<polygon fill="#00ff09" stroke="#00ff09" points="1005.6,631.9 1029.5,628.8 1034.8,641.3 1010.9,644.2"/>
<polygon fill="#00ff07" stroke="#00ff07" points="1029.5,628.8 1053.2,625.6 1058.7,638.3 1034.8,641.3"/>
<polygon fill="#00ff05" stroke="#00ff05" points="1053.2,625.6 1077,622.4 1082.6,635.3 1058.7,638.3"/>
<polygon fill="#00ff03" stroke="#00ff03" points="1077,622.4 1100.7,619.7 1106.4,632.6 1082.6,635.3"/>
<polygon fill="#00ff01" stroke="#00ff01" points="1100.7,619.7 1124.4,616.9 1130.2,630 1106.4,632.6"/>
<polygon fill="#00ff00" stroke="#00ff00" points="1124.4,616.9 1148,614.3 1153.9,627.6 1130.2,630"/>
<polygon fill="#01ff00" stroke="#01ff00" points="1148,614.3 1171.7,611.7 1177.6,625.2 1153.9,627.6"/>
<polygon fill="#02ff00" stroke="#02ff00" points="1171.7,611.7 1195.2,609.4 1201.2,623.2 1177.6,625.2"/>
<polygon fill="#03ff00" stroke="#03ff00" points="1195.2,609.4 1218.7,607 1224.8,621.2 1201.2,623.2"/>
<polygon fill="#03ff00" stroke="#03ff00" points="1218.7,607 1242.1,605.2 1248.3,619.7 1224.8,621.2"/>
<polygon fill="#03ff00" stroke="#03ff00" points="1242.1,605.2 1265.6,603.4 1271.8,618.3 1248.3,619.7"/>
<polygon fill="#03ff00" stroke="#03ff00" points="1265.6,603.4 1288.9,601.8 1295.2,617 1271.8,618.3"/>
<polygon fill="#02ff00" stroke="#02ff00" points="1288.9,601.8 1312.2,600.3 1318.7,615.7 1295.2,617"/>
<polygon fill="#02ff00" stroke="#02ff00" points="1312.2,600.3 1335.5,598.6 1342,614.5 1318.7,615.7"/>
<polygon fill="#01ff00" stroke="#01ff00" points="1335.5,598.6 1358.7,596.9 1365.3,613.4 1342,614.5"/>
<polygon fill="#01ff00" stroke="#01ff00" points="1358.7,596.9 1381.9,595.2 1388.5,612.1 1365.3,613.4"/>
<polygon fill="#01ff00" stroke="#01ff00" points="1381.9,595.2 1405.1,593.5 1411.8,610.8 1388.5,612.1"/>
<polygon fill="#01ff00" stroke="#01ff00" points="1405.1,593.5 1428.2,592.2 1434.9,610 1411.8,610.8"/>
<polygon fill="#00ff00" stroke="#00ff00" points="1428.2,592.2 1451.2,590.8 1458,609.1 1434.9,610"/>
<polygon fill="#00ff6c" stroke="#00ff6c" points="500.1,744.2 524.7,738 527.9,749 503.2,755.3"/>
<polygon fill="#00ff65" stroke="#00ff65" points="524.7,738 549.3,731.7 552.6,742.8 527.9,749"/>
<polygon fill="#00ff5e" stroke="#00ff5e" points="549.3,731.7 573.9,725.6 577.3,736.5 552.6,742.8"/>
<polygon fill="#00ff57" stroke="#00ff57" points="573.9,725.6 598.4,719.5 601.9,730.3 577.3,736.5"/>
<polygon fill="#00ff51" stroke="#00ff51" points="598.4,719.5 622.9,713.8 626.5,724.6 601.9,730.3"/>
<polygon fill="#00ff4a" stroke="#00ff4a" points="622.9,713.8 647.4,708 651.1,718.9 626.5,724.6"/>
<polygon fill="#00ff45" stroke="#00ff45" points="647.4,708 671.9,702.9 675.7,713.9 651.1,718.9"/>
<polygon fill="#00ff40" stroke="#00ff40" points="671.9,702.9 696.3,697.8 700.2,709 675.7,713.9"/>
<polygon fill="#00ff3b" stroke="#00ff3b" points="696.3,697.8 720.7,692.5 724.7,703.8 700.2,709"/>
<polygon fill="#00ff36" stroke="#00ff36" points="720.7,692.5 745.1,687.2 749.2,698.7 724.7,703.8"/>
<polygon fill="#00ff31" stroke="#00ff31" points="745.1,687.2 769.4,682.5 773.7,694.1 749.2,698.7"/>
<polygon fill="#00ff2c" stroke="#00ff2c" points="769.4,682.5 793.7,677.7 798.1,689.5 773.7,694.1"/>
<polygon fill="#00ff28" stroke="#00ff28" points="793.7,677.7 818,673 822.5,684.8 798.1,689.5"/>
<polygon fill="#00ff23" stroke="#00ff23" points="818,673 842.2,668.4 846.8,680.2 822.5,684.8"/>
<polygon fill="#00ff1f" stroke="#00ff1f" points="842.2,668.4 866.4,664.4 871.1,676.3 846.8,680.2"/>
<polygon fill="#00ff1c" stroke="#00ff1c" points="866.4,664.4 890.6,660.5 895.4,672.4 871.1,676.3"/>
<polygon fill="#00ff19" stroke="#00ff19" points="890.6,660.5 914.7,657.2 919.6,669.2 895.4,672.4"/>
<polygon fill="#00ff17" stroke="#00ff17" points="914.7,657.2 938.9,653.9 943.8,665.9 919.6,669.2"/>
<polygon fill="#00ff15" stroke="#00ff15" points="938.9,653.9 962.9,650.5 968,662.6 943.8,665.9"/>
<polygon fill="#00ff12" stroke="#00ff12" points="962.9,650.5 986.9,647.1 992.1,659.3 968,662.6"/>
<polygon fill="#00ff10" stroke="#00ff10" points="986.9,647.1 1010.9,644.2 1016.2,656.6 992.1,659.3"/>
<polygon fill="#00ff0f" stroke="#00ff0f" points="1010.9,644.2 1034.8,641.3 1040.2,653.9 1016.2,656.6"/>
<polygon fill="#00ff0d" stroke="#00ff0d" points="1034.8,641.3 1058.7,638.3 1064.2,651 1040.2,653.9"/>
<polygon fill="#00ff0b" stroke="#00ff0b" points="1058.7,638.3 1082.6,635.3 1088.2,648.1 1064.2,651"/>
<polygon fill="#00ff09" stroke="#00ff09" points="1082.6,635.3 1106.4,632.6 1112.1,645.5 1088.2,648.1"/>
<polygon fill="#00ff08" stroke="#00ff08" points="1106.4,632.6 1130.2,630 1136,643 1112.1,645.5"/>
<polygon fill="#00ff07" stroke="#00ff07" points="1130.2,630 1153.9,627.6 1159.7,640.8 1136,643"/>
<polygon fill="#00ff06" stroke="#00ff06" points="1153.9,627.6 1177.6,625.2 1183.5,638.6 1159.7,640.8"/>
<polygon fill="#00ff06" stroke="#00ff06" points="1177.6,625.2 1201.2,623.2 1207.2,637 1183.5,638.6"/>
<polygon fill="#00ff06" stroke="#00ff06" points="1201.2,623.2 1224.8,621.2 1230.9,635.4 1207.2,637"/>
<polygon fill="#00ff06" stroke="#00ff06" points="1224.8,621.2 1248.3,619.7 1254.5,634.3 1230.9,635.4"/>
<polygon fill="#00ff07" stroke="#00ff07" points="1248.3,619.7 1271.8,618.3 1278.1,633.2 1254.5,634.3"/>
<polygon fill="#00ff07" stroke="#00ff07" points="1271.8,618.3 1295.2,617 1301.6,632.1 1278.1,633.2"/>
<polygon fill="#00ff08" stroke="#00ff08" points="1295.2,617 1318.7,615.7 1325.1,631 1301.6,632.1"/>
<polygon fill="#00ff09" stroke="#00ff09" points="1318.7,615.7 1342,614.5 1348.5,630.4 1325.1,631"/>
<polygon fill="#00ff0b" stroke="#00ff0b" points="1342,614.5 1365.3,613.4 1371.8,629.8 1348.5,630.4"/>
<polygon fill="#00ff0c" stroke="#00ff0c" points="1365.3,613.4 1388.5,612.1 1395.1,628.9 1371.8,629.8"/>
<polygon fill="#00ff0d" stroke="#00ff0d" points="1388.5,612.1 1411.8,610.8 1418.4,628 1395.1,628.9"/>
<polygon fill="#00ff0e" stroke="#00ff0e" points="1411.8,610.8 1434.9,610 1441.6,627.8 1418.4,628"/>
<polygon fill="#00ff0f" stroke="#00ff0f" points="1434.9,610 1458,609.1 1464.8,627.5 1441.6,627.8"/>
<polygon fill="#00ff6f" stroke="#00ff6f" points="503.2,755.3 527.9,749 531.1,760.8 506.3,767"/>
<polygon fill="#00ff68" stroke="#00ff68" points="527.9,749 552.6,742.8 556,754.5 531.1,760.8"/>
<polygon fill="#00ff61" stroke="#00ff61" points="552.6,742.8 577.3,736.5 580.7,748.3 556,754.5"/>
<polygon fill="#00ff5a" stroke="#00ff5a" points="577.3,736.5 601.9,730.3 605.5,742 580.7,748.3"/>
<polygon fill="#00ff54" stroke="#00ff54" points="601.9,730.3 626.5,724.6 630.2,736.4 605.5,742"/>
<polygon fill="#00ff4e" stroke="#00ff4e" points="626.5,724.6 651.1,718.9 654.9,730.8 630.2,736.4"/>
<polygon fill="#00ff49" stroke="#00ff49" points="651.1,718.9 675.7,713.9 679.6,726.1 654.9,730.8"/>
<polygon fill="#00ff44" stroke="#00ff44" points="675.7,713.9 700.2,709 704.3,721.4 679.6,726.1"/>
<polygon fill="#00ff3f" stroke="#00ff3f" points="700.2,709 724.7,703.8 728.9,716.4 704.3,721.4"/>
<polygon fill="#00ff3a" stroke="#00ff3a" points="724.7,703.8 749.2,698.7 753.5,711.3 728.9,716.4"/>
<polygon fill="#00ff35" stroke="#00ff35" points="749.2,698.7 773.7,694.1 778,707 753.5,711.3"/>
<polygon fill="#00ff31" stroke="#00ff31" points="773.7,694.1 798.1,689.5 802.6,702.6 778,707"/>
<polygon fill="#00ff2d" stroke="#00ff2d" points="798.1,689.5 822.5,684.8 827,697.9 802.6,702.6"/>
<polygon fill="#00ff29" stroke="#00ff29" points="822.5,684.8 846.8,680.2 851.5,693.3 827,697.9"/>
<polygon fill="#00ff25" stroke="#00ff25" points="846.8,680.2 871.1,676.3 875.9,689.6 851.5,693.3"/>
<polygon fill="#00ff22" stroke="#00ff22" points="871.1,676.3 895.4,672.4 900.3,685.8 875.9,689.6"/>
<polygon fill="#00ff1f" stroke="#00ff1f" points="895.4,672.4 919.6,669.2 924.6,682.7 900.3,685.8"/>
<polygon fill="#00ff1d" stroke="#00ff1d" points="919.6,669.2 943.8,665.9 948.9,679.6 924.6,682.7"/>
<polygon fill="#00ff1b" stroke="#00ff1b" points="943.8,665.9 968,662.6 973.2,675.9 948.9,679.6"/>
<polygon fill="#00ff18" stroke="#00ff18" points="968,662.6 992.1,659.3 997.4,672.2 973.2,675.9"/>
<polygon fill="#00ff16" stroke="#00ff16" points="992.1,659.3 1016.2,656.6 1021.6,669.3 997.4,672.2"/>
<polygon fill="#00ff15" stroke="#00ff15" points="1016.2,656.6 1040.2,653.9 1045.7,666.4 1021.6,669.3"/>
<polygon fill="#00ff13" stroke="#00ff13" points="1040.2,653.9 1064.2,651 1069.8,663.7 1045.7,666.4"/>
<polygon fill="#00ff11" stroke="#00ff11" points="1064.2,651 1088.2,648.1 1093.9,661 1069.8,663.7"/>
<polygon fill="#00ff10" stroke="#00ff10" points="1088.2,648.1 1112.1,645.5 1117.8,658.7 1093.9,661"/>
<polygon fill="#00ff0f" stroke="#00ff0f" points="1112.1,645.5 1136,643 1141.8,656.4 1117.8,658.7"/>
<polygon fill="#00ff0e" stroke="#00ff0e" points="1136,643 1159.7,640.8 1165.7,654.5 1141.8,656.4"/>
<polygon fill="#00ff0d" stroke="#00ff0d" points="1159.7,640.8 1183.5,638.6 1189.6,652.5 1165.7,654.5"/>
<polygon fill="#00ff0e" stroke="#00ff0e" points="1183.5,638.6 1207.2,637 1213.4,651.1 1189.6,652.5"/>
<polygon fill="#00ff0e" stroke="#00ff0e" points="1207.2,637 1230.9,635.4 1237.1,649.8 1213.4,651.1"/>
<polygon fill="#00ff0f" stroke="#00ff0f" points="1230.9,635.4 1254.5,634.3 1260.8,648.6 1237.1,649.8"/>
<polygon fill="#00ff10" stroke="#00ff10" points="1254.5,634.3 1278.1,633.2 1284.5,647.5 1260.8,648.6"/>
<polygon fill="#00ff11" stroke="#00ff11" points="1278.1,633.2 1301.6,632.1 1308.1,646.7 1284.5,647.5"/>
<polygon fill="#00ff12" stroke="#00ff12" points="1301.6,632.1 1325.1,631 1331.6,645.9 1308.1,646.7"/>
<polygon fill="#00ff14" stroke="#00ff14" points="1325.1,631 1348.5,630.4 1355.1,645.9 1331.6,645.9"/>
<polygon fill="#00ff16" stroke="#00ff16" points="1348.5,630.4 1371.8,629.8 1378.5,645.8 1355.1,645.9"/>
<polygon fill="#00ff19" stroke="#00ff19" points="1371.8,629.8 1395.1,628.9 1401.8,646.4 1378.5,645.8"/>
<polygon fill="#00ff1b" stroke="#00ff1b" points="1395.1,628.9 1418.4,628 1425.2,646.9 1401.8,646.4"/>
<polygon fill="#00ff1e" stroke="#00ff1e" points="1418.4,628 1441.6,627.8 1448.3,648 1425.2,646.9"/>
<polygon fill="#00ff21" stroke="#00ff21" points="1441.6,627.8 1464.8,627.5 1471.5,649.1 1448.3,648"/>
<polygon fill="#00ff72" stroke="#00ff72" points="506.3,767 531.1,760.8 534.4,772.5 509.4,778.8"/>
<polygon fill="#00ff6c" stroke="#00ff6c" points="531.1,760.8 556,754.5 559.3,766.3 534.4,772.5"/>
<polygon fill="#00ff64" stroke="#00ff64" points="556,754.5 580.7,748.3 584.2,760 559.3,766.3"/>
<polygon fill="#00ff5d" stroke="#00ff5d" points="580.7,748.3 605.5,742 609.1,753.7 584.2,760"/>
<polygon fill="#00ff57" stroke="#00ff57" points="605.5,742 630.2,736.4 633.9,748.3 609.1,753.7"/>
<polygon fill="#00ff52" stroke="#00ff52" points="630.2,736.4 654.9,730.8 658.7,742.8 633.9,748.3"/>
<polygon fill="#00ff4d" stroke="#00ff4d" points="654.9,730.8 679.6,726.1 683.5,738.4 658.7,742.8"/>
<polygon fill="#00ff49" stroke="#00ff49" points="679.6,726.1 704.3,721.4 708.3,733.9 683.5,738.4"/>
<polygon fill="#00ff44" stroke="#00ff44" points="704.3,721.4 728.9,716.4 733,729 708.3,733.9"/>
<polygon fill="#00ff3f" stroke="#00ff3f" points="728.9,716.4 753.5,711.3 757.7,724 733,729"/>
<polygon fill="#00ff3b" stroke="#00ff3b" points="753.5,711.3 778,707 782.4,719.9 757.7,724"/>
<polygon fill="#00ff37" stroke="#00ff37" points="778,707 802.6,702.6 807,715.7 782.4,719.9"/>
<polygon fill="#00ff33" stroke="#00ff33" points="802.6,702.6 827,697.9 831.6,711.1 807,715.7"/>
<polygon fill="#00ff2f" stroke="#00ff2f" points="827,697.9 851.5,693.3 856.2,706.4 831.6,711.1"/>
<polygon fill="#00ff2b" stroke="#00ff2b" points="851.5,693.3 875.9,689.6 880.7,702.8 856.2,706.4"/>
<polygon fill="#00ff28" stroke="#00ff28" points="875.9,689.6 900.3,685.8 905.2,699.2 880.7,702.8"/>
<polygon fill="#00ff26" stroke="#00ff26" points="900.3,685.8 924.6,682.7 929.6,696.2 905.2,699.2"/>
<polygon fill="#00ff24" stroke="#00ff24" points="924.6,682.7 948.9,679.6 954,693.2 929.6,696.2"/>
<polygon fill="#00ff21" stroke="#00ff21" points="948.9,679.6 973.2,675.9 978.3,689.1 954,693.2"/>
<polygon fill="#00ff1e" stroke="#00ff1e" points="973.2,675.9 997.4,672.2 1002.7,685 978.3,689.1"/>
<polygon fill="#00ff1c" stroke="#00ff1c" points="997.4,672.2 1021.6,669.3 1026.9,682 1002.7,685"/>
<polygon fill="#00ff1a" stroke="#00ff1a" points="1021.6,669.3 1045.7,666.4 1051.2,679 1026.9,682"/>
<polygon fill="#00ff19" stroke="#00ff19" points="1045.7,666.4 1069.8,663.7 1075.4,676.5 1051.2,679"/>
<polygon fill="#00ff17" stroke="#00ff17" points="1069.8,663.7 1093.9,661 1099.5,674 1075.4,676.5"/>
<polygon fill="#00ff17" stroke="#00ff17" points="1093.9,661 1117.8,658.7 1123.6,671.9 1099.5,674"/>
<polygon fill="#00ff16" stroke="#00ff16" points="1117.8,658.7 1141.8,656.4 1147.7,669.8 1123.6,671.9"/>
<polygon fill="#00ff15" stroke="#00ff15" points="1141.8,656.4 1165.7,654.5 1171.6,668.1 1147.7,669.8"/>
<polygon fill="#00ff15" stroke="#00ff15" points="1165.7,654.5 1189.6,652.5 1195.6,666.4 1171.6,668.1"/>
<polygon fill="#00ff16" stroke="#00ff16" points="1189.6,652.5 1213.4,651.1 1219.5,665.3 1195.6,666.4"/>
<polygon fill="#00ff17" stroke="#00ff17" points="1213.4,651.1 1237.1,649.8 1243.3,664.1 1219.5,665.3"/>
<polygon fill="#00ff18" stroke="#00ff18" points="1237.1,649.8 1260.8,648.6 1267.1,663 1243.3,664.1"/>
<polygon fill="#00ff19" stroke="#00ff19" points="1260.8,648.6 1284.5,647.5 1290.9,661.8 1267.1,663"/>
<polygon fill="#00ff1a" stroke="#00ff1a" points="1284.5,647.5 1308.1,646.7 1314.5,661.3 1290.9,661.8"/>
<polygon fill="#00ff1c" stroke="#00ff1c" points="1308.1,646.7 1331.6,645.9 1338.2,660.8 1314.5,661.3"/>
<polygon fill="#00ff1e" stroke="#00ff1e" points="1331.6,645.9 1355.1,645.9 1361.7,661.3 1338.2,660.8"/>
<polygon fill="#00ff21" stroke="#00ff21" points="1355.1,645.9 1378.5,645.8 1385.2,661.8 1361.7,661.3"/>
<polygon fill="#00ff25" stroke="#00ff25" points="1378.5,645.8 1401.8,646.4 1408.5,663.8 1385.2,661.8"/>
<polygon fill="#00ff2a" stroke="#00ff2a" points="1401.8,646.4 1425.2,646.9 1431.9,665.8 1408.5,663.8"/>
<polygon fill="#00ff2f" stroke="#00ff2f" points="1425.2,646.9 1448.3,648 1455.1,668.3 1431.9,665.8"/>
<polygon fill="#00ff34" stroke="#00ff34" points="1448.3,648 1471.5,649.1 1478.2,670.8 1455.1,668.3"/>
</g>
<g id="mesh" stroke="#000" fill="none" stroke-linecap="round" stroke-linejoin="round" shape-rendering="crispEdges">
<polyline stroke-width="3.0" points="409.2,537 450.1,504 491.4,482.5 532.7,461 574,441.2 615.4,422.5 656.7,405.5 698.1,387.3 739.4,372.4 780.7,355.9 822,341.2 863.2,327.3 904.4,313.2 945.5,299.2 986.5,286.8 1027.5,274.2 1068.4,261.4 1109.3,248.4 1150.1,236 1190.9,224.5 1231.5,212.1"/>
<polyline stroke-width="3.0" points="413,535.5 454.4,507.1 496,485.6 537.7,465 579.5,446.4 621.2,428 663,411.4 704.7,394.5 746.4,379.6 788,364.2 829.6,349.9 871.2,336.1 912.7,322.4 954.1,308.9 995.5,296.4 1036.8,284 1078.1,271.4 1119.3,258.9 1160.4,246.7 1201.4,235.2 1242.4,223.2"/>
<polyline stroke-width="3.0" points="416.9,536.4 458.8,511.1 500.9,490.6 543,470.7 585.1,453 627.2,434.9 669.3,418.7 711.4,402.6 753.5,388.2 795.5,373.4 837.4,359.6 879.3,345.9 921.2,332.7 962.9,319.6 1004.6,307.1 1046.3,294.8 1087.9,282.5 1129.4,270.4 1170.8,258.5 1212.2,247.2 1253.4,235.8"/>
<polyline stroke-width="3.0" points="420.9,538.9 463.3,515.8 505.8,496.8 548.3,477.9 590.8,460.7 633.3,443 675.8,427.2 718.3,411.6 760.7,397.5 803,383.3 845.3,369.7 887.6,356.2 929.8,343.3 971.9,330.5 1013.9,318.2 1055.9,306 1097.8,294 1139.6,282.2 1181.4,270.6 1223.1,259.6 1264.7,248.1"/>
<polyline stroke-width="3.0" points="425.1,542.9 467.9,521.8 510.9,504.4 553.8,486.4 596.7,469.7 639.6,452.3 682.4,436.9 725.2,421.7 768,408.1 810.7,394.3 853.4,381.1 896,367.9 938.5,355.2 981,342.7 1023.3,330.6 1065.7,318.6 1107.9,306.9 1150,295.4 1192.1,284.3 1234.1,273.7 1276,263.2"/>
<polyline stroke-width="3.0" points="429.4,548.6 472.7,529.4 516.1,513.2 559.4,495.8 602.7,479.4 645.9,462.3 689.2,447.2 732.4,432.5 775.5,419.3 818.6,405.9 861.6,392.9 904.5,380 947.4,367.5 990.2,355.2 1032.9,343.4 1075.6,331.5 1118.1,320.1 1160.6,309 1203,298.1 1245.3,287.7 1287.5,277.3"/>
<polyline stroke-width="3.0" points="433.9,556.9 477.6,539 521.4,523.4 565.1,506.4 608.8,490.2 652.4,473.4 696,458.7 739.6,444.3 783.1,431.5 826.6,418.5 869.9,405.7 913.2,393 956.4,380.8 999.6,368.8 1042.7,357.1 1085.6,345.5 1128.5,334.5 1171.3,323.7 1214.1,313 1256.7,302.8 1299.2,292.4"/>
<polyline stroke-width="3.0" points="438.4,565.8 482.7,549.3 526.9,534.1 571,517.5 615,501.6 659.1,485.1 703,470.9 747,456.9 790.9,444.3 834.7,431.7 878.4,419.2 922.1,406.9 965.6,394.9 1009.1,383.2 1052.5,371.9 1095.9,360.6 1139.1,350 1182.2,339.7 1225.2,329.5 1268.2,319.6 1311,309.7"/>
<polyline stroke-width="3.0" points="443.2,575.9 487.8,560.4 532.4,545.6 576.9,529.3 621.4,513.8 665.8,497.8 710.2,483.9 754.5,470.3 798.8,458.1 842.9,445.9 887,433.7 931,421.6 975,410 1018.8,398.8 1062.6,387.9 1106.2,377.1 1149.8,367 1193.2,357.2 1236.6,347.4 1279.8,338.3 1323,329.2"/>
<polyline stroke-width="3.0" points="448,587.4 493.1,572.3 538.1,557.8 583,541.9 627.9,526.8 672.7,511.3 717.5,497.9 762.2,484.7 806.8,472.8 851.3,460.8 895.8,448.9 940.2,437.2 984.5,425.9 1028.7,415.2 1072.8,404.8 1116.8,394.5 1160.6,384.9 1204.4,375.5 1248.1,366.3 1291.6,357.7 1335.1,349.2"/>
<polyline stroke-width="3.0" points="453,600.4 498.5,585.2 543.9,570.8 589.2,555.4 634.5,540.8 679.7,525.8 724.9,512.8 770,499.9 815,488.3 859.9,476.7 904.7,465 949.5,453.7 994.1,442.7 1038.7,432.3 1083.1,422.3 1127.4,412.4 1171.7,403.2 1215.8,394.4 1259.8,385.8 1303.6,377.6 1347.4,369.3"/>
<polyline stroke-width="3.0" points="458.1,613.5 504,598.4 549.8,584.5 595.5,569.7 641.2,555.9 686.9,541.5 732.4,528.9 777.9,516.4 823.3,505.1 868.6,493.8 913.8,482.5 958.9,471.4 1003.9,460.7 1048.8,450.6 1093.6,441 1138.3,431.5 1182.9,422.8 1227.3,414.7 1271.6,406.7 1315.8,399.1 1359.9,391.8"/>
<polyline stroke-width="3.0" points="463.3,627.4 509.6,612.6 555.8,599.2 602,585 648.1,571.7 694.1,558 740.1,545.8 786,533.6 831.8,522.6 877.4,511.7 923,500.6 968.5,489.8 1013.9,479.3 1059.2,469.6 1104.3,460.3 1149.3,451.2 1194.2,442.9 1239,435.3 1283.6,427.8 1328.1,421 1372.5,414.5"/>
<polyline stroke-width="3.0" points="468.6,642.7 515.3,628.1 562,615 608.6,601.4 655.2,588.7 701.6,575.5 747.9,563.9 794.2,552.1 840.4,541.4 886.5,530.9 932.4,520.1 978.3,509.7 1024,499.5 1069.6,490.2 1115.1,481.3 1160.5,472.6 1205.8,464.8 1250.9,457.8 1295.8,451 1340.6,445.1 1385.3,439.4"/>
<polyline stroke-width="3.0" points="474,658.6 521.2,644.4 568.3,631.6 615.4,618.6 662.3,606.5 709.2,593.9 755.9,582.6 802.6,571.2 849.2,560.9 895.6,550.9 942,540.5 988.2,530.5 1034.3,520.7 1080.3,511.8 1126.1,503.5 1171.9,495.2 1217.5,487.8 1262.9,481.4 1308.1,475.4 1353.2,470.4 1398.2,465.4"/>
<polyline stroke-width="3.0" points="479.6,675.8 527.2,661.9 574.8,649.5 622.2,637 669.6,625.4 716.9,613.4 764.1,602.5 811.1,591.4 858.1,581.6 904.9,572.3 951.7,562.6 998.3,553.4 1044.7,544.2 1091.1,536 1137.3,528.1 1183.4,520.2 1229.3,513.2 1275,507.5 1320.6,502.4 1366,498.4 1411.2,494.6"/>
<polyline stroke-width="3.0" points="485.3,693.5 533.3,680.1 581.3,668.1 629.2,656 677,644.8 724.7,633.2 772.3,622.6 819.8,612 867.2,602.8 914.4,594.3 961.5,585.5 1008.5,577.2 1055.3,568.9 1102,561.5 1148.6,554.2 1195,546.8 1241.3,540.4 1287.3,535.3 1333.2,530.8 1378.9,527.3 1424.5,523.8"/>
<polyline stroke-width="3.0" points="491.1,712 539.6,699.3 588.1,687.8 636.4,676.1 684.6,665.2 732.7,653.8 780.8,643.4 828.7,633.6 876.4,625.3 924.1,617.8 971.5,609.9 1018.9,602.8 1066.1,595.5 1113.1,589.1 1160,582.8 1206.8,576.6 1253.3,571.5 1299.7,567.2 1345.9,563.1 1391.9,559.4 1437.8,556.2"/>
<polyline stroke-width="3.0" points="497.1,733.2 546,720.6 594.9,708.7 643.7,697.2 692.4,686.6 740.9,675.7 789.3,666 837.7,656.5 885.8,648.6 933.9,641.9 981.7,634.9 1029.5,628.8 1077,622.4 1124.4,616.9 1171.7,611.7 1218.7,607 1265.6,603.4 1312.2,600.3 1358.7,596.9 1405.1,593.5 1451.2,590.8"/>
<polyline stroke-width="3.0" points="503.2,755.3 552.6,742.8 601.9,730.3 651.1,718.9 700.2,709 749.2,698.7 798.1,689.5 846.8,680.2 895.4,672.4 943.8,665.9 992.1,659.3 1040.2,653.9 1088.2,648.1 1136,643 1183.5,638.6 1230.9,635.4 1278.1,633.2 1325.1,631 1371.8,629.8 1418.4,628 1464.8,627.5"/>
<polyline stroke-width="3.0" points="509.4,778.8 559.3,766.3 609.1,753.7 658.7,742.8 708.3,733.9 757.7,724 807,715.7 856.2,706.4 905.2,699.2 954,693.2 1002.7,685 1051.2,679 1099.5,674 1147.7,669.8 1195.6,666.4 1243.3,664.1 1290.9,661.8 1338.2,660.8 1385.2,661.8 1431.9,665.8 1478.2,670.8"/>
<polyline stroke-width="3.0" points="409.2,537 413,535.5 416.9,536.4 420.9,538.9 425.1,542.9 429.4,548.6 433.9,556.9 438.4,565.8 443.2,575.9 448,587.4 453,600.4 458.1,613.5 463.3,627.4 468.6,642.7 474,658.6 479.6,675.8 485.3,693.5 491.1,712 497.1,733.2 503.2,755.3 509.4,778.8"/>
<polyline stroke-width="3.0" points="450.1,504 454.4,507.1 458.8,511.1 463.3,515.8 467.9,521.8 472.7,529.4 477.6,539 482.7,549.3 487.8,560.4 493.1,572.3 498.5,585.2 504,598.4 509.6,612.6 515.3,628.1 521.2,644.4 527.2,661.9 533.3,680.1 539.6,699.3 546,720.6 552.6,742.8 559.3,766.3"/>
<polyline stroke-width="3.0" points="491.4,482.5 496,485.6 500.9,490.6 505.8,496.8 510.9,504.4 516.1,513.2 521.4,523.4 526.9,534.1 532.4,545.6 538.1,557.8 543.9,570.8 549.8,584.5 555.8,599.2 562,615 568.3,631.6 574.8,649.5 581.3,668.1 588.1,687.8 594.9,708.7 601.9,730.3 609.1,753.7"/>
<polyline stroke-width="3.0" points="532.7,461 537.7,465 543,470.7 548.3,477.9 553.8,486.4 559.4,495.8 565.1,506.4 571,517.5 576.9,529.3 583,541.9 589.2,555.4 595.5,569.7 602,585 608.6,601.4 615.4,618.6 622.2,637 629.2,656 636.4,676.1 643.7,697.2 651.1,718.9 658.7,742.8"/>
<polyline stroke-width="3.0" points="574,441.2 579.5,446.4 585.1,453 590.8,460.7 596.7,469.7 602.7,479.4 608.8,490.2 615,501.6 621.4,513.8 627.9,526.8 634.5,540.8 641.2,555.9 648.1,571.7 655.2,588.7 662.3,606.5 669.6,625.4 677,644.8 684.6,665.2 692.4,686.6 700.2,709 708.3,733.9"/>
<polyline stroke-width="3.0" points="615.4,422.5 621.2,428 627.2,434.9 633.3,443 639.6,452.3 645.9,462.3 652.4,473.4 659.1,485.1 665.8,497.8 672.7,511.3 679.7,525.8 686.9,541.5 694.1,558 701.6,575.5 709.2,593.9 716.9,613.4 724.7,633.2 732.7,653.8 740.9,675.7 749.2,698.7 757.7,724"/>
<polyline stroke-width="3.0" points="656.7,405.5 663,411.4 669.3,418.7 675.8,427.2 682.4,436.9 689.2,447.2 696,458.7 703,470.9 710.2,483.9 717.5,497.9 724.9,512.8 732.4,528.9 740.1,545.8 747.9,563.9 755.9,582.6 764.1,602.5 772.3,622.6 780.8,643.4 789.3,666 798.1,689.5 807,715.7"/>
<polyline stroke-width="3.0" points="698.1,387.3 704.7,394.5 711.4,402.6 718.3,411.6 725.2,421.7 732.4,432.5 739.6,444.3 747,456.9 754.5,470.3 762.2,484.7 770,499.9 777.9,516.4 786,533.6 794.2,552.1 802.6,571.2 811.1,591.4 819.8,612 828.7,633.6 837.7,656.5 846.8,680.2 856.2,706.4"/>
<polyline stroke-width="3.0" points="739.4,372.4 746.4,379.6 753.5,388.2 760.7,397.5 768,408.1 775.5,419.3 783.1,431.5 790.9,444.3 798.8,458.1 806.8,472.8 815,488.3 823.3,505.1 831.8,522.6 840.4,541.4 849.2,560.9 858.1,581.6 867.2,602.8 876.4,625.3 885.8,648.6 895.4,672.4 905.2,699.2"/>
<polyline stroke-width="3.0" points="780.7,355.9 788,364.2 795.5,373.4 803,383.3 810.7,394.3 818.6,405.9 826.6,418.5 834.7,431.7 842.9,445.9 851.3,460.8 859.9,476.7 868.6,493.8 877.4,511.7 886.5,530.9 895.6,550.9 904.9,572.3 914.4,594.3 924.1,617.8 933.9,641.9 943.8,665.9 954,693.2"/>
<polyline stroke-width="3.0" points="822,341.2 829.6,349.9 837.4,359.6 845.3,369.7 853.4,381.1 861.6,392.9 869.9,405.7 878.4,419.2 887,433.7 895.8,448.9 904.7,465 913.8,482.5 923,500.6 932.4,520.1 942,540.5 951.7,562.6 961.5,585.5 971.5,609.9 981.7,634.9 992.1,659.3 1002.7,685"/>
<polyline stroke-width="3.0" points="863.2,327.3 871.2,336.1 879.3,345.9 887.6,356.2 896,367.9 904.5,380 913.2,393 922.1,406.9 931,421.6 940.2,437.2 949.5,453.7 958.9,471.4 968.5,489.8 978.3,509.7 988.2,530.5 998.3,553.4 1008.5,577.2 1018.9,602.8 1029.5,628.8 1040.2,653.9 1051.2,679"/>
<polyline stroke-width="3.0" points="904.4,313.2 912.7,322.4 921.2,332.7 929.8,343.3 938.5,355.2 947.4,367.5 956.4,380.8 965.6,394.9 975,410 984.5,425.9 994.1,442.7 1003.9,460.7 1013.9,479.3 1024,499.5 1034.3,520.7 1044.7,544.2 1055.3,568.9 1066.1,595.5 1077,622.4 1088.2,648.1 1099.5,674"/>
<polyline stroke-width="3.0" points="945.5,299.2 954.1,308.9 962.9,319.6 971.9,330.5 981,342.7 990.2,355.2 999.6,368.8 1009.1,383.2 1018.8,398.8 1028.7,415.2 1038.7,432.3 1048.8,450.6 1059.2,469.6 1069.6,490.2 1080.3,511.8 1091.1,536 1102,561.5 1113.1,589.1 1124.4,616.9 1136,643 1147.7,669.8"/>
<polyline stroke-width="3.0" points="986.5,286.8 995.5,296.4 1004.6,307.1 1013.9,318.2 1023.3,330.6 1032.9,343.4 1042.7,357.1 1052.5,371.9 1062.6,387.9 1072.8,404.8 1083.1,422.3 1093.6,441 1104.3,460.3 1115.1,481.3 1126.1,503.5 1137.3,528.1 1148.6,554.2 1160,582.8 1171.7,611.7 1183.5,638.6 1195.6,666.4"/>
<polyline stroke-width="3.0" points="1027.5,274.2 1036.8,284 1046.3,294.8 1055.9,306 1065.7,318.6 1075.6,331.5 1085.6,345.5 1095.9,360.6 1106.2,377.1 1116.8,394.5 1127.4,412.4 1138.3,431.5 1149.3,451.2 1160.5,472.6 1171.9,495.2 1183.4,520.2 1195,546.8 1206.8,576.6 1218.7,607 1230.9,635.4 1243.3,664.1"/>
<polyline stroke-width="3.0" points="1068.4,261.4 1078.1,271.4 1087.9,282.5 1097.8,294 1107.9,306.9 1118.1,320.1 1128.5,334.5 1139.1,350 1149.8,367 1160.6,384.9 1171.7,403.2 1182.9,422.8 1194.2,442.9 1205.8,464.8 1217.5,487.8 1229.3,513.2 1241.3,540.4 1253.3,571.5 1265.6,603.4 1278.1,633.2 1290.9,661.8"/>
<polyline stroke-width="3.0" points="1109.3,248.4 1119.3,258.9 1129.4,270.4 1139.6,282.2 1150,295.4 1160.6,309 1171.3,323.7 1182.2,339.7 1193.2,357.2 1204.4,375.5 1215.8,394.4 1227.3,414.7 1239,435.3 1250.9,457.8 1262.9,481.4 1275,507.5 1287.3,535.3 1299.7,567.2 1312.2,600.3 1325.1,631 1338.2,660.8"/>
<polyline stroke-width="3.0" points="1150.1,236 1160.4,246.7 1170.8,258.5 1181.4,270.6 1192.1,284.3 1203,298.1 1214.1,313 1225.2,329.5 1236.6,347.4 1248.1,366.3 1259.8,385.8 1271.6,406.7 1283.6,427.8 1295.8,451 1308.1,475.4 1320.6,502.4 1333.2,530.8 1345.9,563.1 1358.7,596.9 1371.8,629.8 1385.2,661.8"/>
<polyline stroke-width="3.0" points="1190.9,224.5 1201.4,235.2 1212.2,247.2 1223.1,259.6 1234.1,273.7 1245.3,287.7 1256.7,302.8 1268.2,319.6 1279.8,338.3 1291.6,357.7 1303.6,377.6 1315.8,399.1 1328.1,421 1340.6,445.1 1353.2,470.4 1366,498.4 1378.9,527.3 1391.9,559.4 1405.1,593.5 1418.4,628 1431.9,665.8"/>
<polyline stroke-width="3.0" points="1231.5,212.1 1242.4,223.2 1253.4,235.8 1264.7,248.1 1276,263.2 1287.5,277.3 1299.2,292.4 1311,309.7 1323,329.2 1335.1,349.2 1347.4,369.3 1359.9,391.8 1372.5,414.5 1385.3,439.4 1398.2,465.4 1411.2,494.6 1424.5,523.8 1437.8,556.2 1451.2,590.8 1464.8,627.5 1478.2,670.8"/>
</g>
<g id="axes" stroke="#000" fill="none" stroke-linecap="square" shape-rendering="crispEdges">
<polyline stroke-width="4.0" points="390.3,91.8 422.4,847.9"/>
<polyline stroke-width="4.0" points="1497.3,296.2 1454.1,1144.1"/>
</g>
<g id="ticks" fill="#000">
<circle cx="413.7" cy="666.8" r="6.0"/>
<circle cx="408.7" cy="551.5" r="6.0"/>
<circle cx="403.8" cy="436.3" r="6.0"/>
<circle cx="398.9" cy="321.0" r="6.0"/>
<circle cx="393.9" cy="205.8" r="6.0"/>
<circle cx="389.0" cy="90.5" r="6.0"/>
<circle cx="421.4" cy="847.5" r="6.0"/>
<circle cx="447.0" cy="943.2" r="6.0"/>
<circle cx="472.6" cy="1039.0" r="6.0"/>
<circle cx="498.3" cy="1134.7" r="6.0"/>
<circle cx="523.9" cy="1230.4" r="6.0"/>
<circle cx="756.2" cy="1208.7" r="6.0"/>
<circle cx="988.5" cy="1187.0" r="6.0"/>
<circle cx="1220.8" cy="1165.2" r="6.0"/>
<circle cx="1453.1" cy="1143.5" r="6.0"/>
</g>
<g id="labels" font-family="'Liberation Sans', Arial, Helvetica, sans-serif" font-size="62.5" fill="#000">
<text x="328.3" y="72.9" textLength="33.0" lengthAdjust="spacingAndGlyphs">1</text>
<text x="284.1" y="189.6" textLength="80.8" lengthAdjust="spacingAndGlyphs">0.8</text>
<text x="289.0" y="304.9" textLength="80.8" lengthAdjust="spacingAndGlyphs">0.6</text>
<text x="294.0" y="420.3" textLength="80.8" lengthAdjust="spacingAndGlyphs">0.4</text>
<text x="299.4" y="535.6" textLength="80.8" lengthAdjust="spacingAndGlyphs">0.2</text>
<text x="350.4" y="650.9" textLength="33.0" lengthAdjust="spacingAndGlyphs">0</text>
<text x="313.2" y="913.1" textLength="78.2" lengthAdjust="spacingAndGlyphs">1.5</text>
<text x="337.7" y="1008.8" textLength="78.2" lengthAdjust="spacingAndGlyphs">2.5</text>
<text x="364.7" y="1104.6" textLength="77.3" lengthAdjust="spacingAndGlyphs">3.5</text>
<text x="387.7" y="1200.3" textLength="79.9" lengthAdjust="spacingAndGlyphs">4.5</text>
<text x="417.7" y="1296.0" textLength="75.6" lengthAdjust="spacingAndGlyphs">5.5</text>
<text x="559.0" y="1296.0" textLength="65.7" lengthAdjust="spacingAndGlyphs">12</text>
<text x="790.6" y="1274.3" textLength="65.7" lengthAdjust="spacingAndGlyphs">15</text>
<text x="1023.7" y="1252.6" textLength="65.7" lengthAdjust="spacingAndGlyphs">18</text>
<text x="1252.5" y="1230.8" textLength="66.7" lengthAdjust="spacingAndGlyphs">21</text>
<text x="1485.9" y="1209.1" textLength="68.1" lengthAdjust="spacingAndGlyphs">24</text>
<text x="15.0" y="1113.7" textLength="380.8" lengthAdjust="spacingAndGlyphs">A: DO (mg/L)</text>
<text x="922.7" y="1393.0" textLength="284.9" lengthAdjust="spacingAndGlyphs">B: HRT (h)</text>
<text transform="translate(223.0,626.9) rotate(-90)" x="-4.9" y="0" textLength="301.0" lengthAdjust="spacingAndGlyphs">Desirability</text>
</g>
</svg>
</body></html>
